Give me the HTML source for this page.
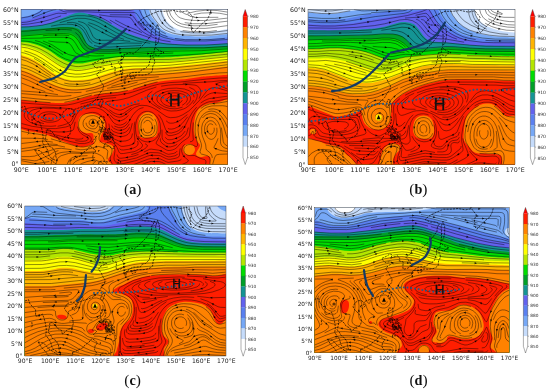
<!DOCTYPE html>
<html><head><meta charset="utf-8"><title>Figure</title>
<style>html,body{margin:0;padding:0;background:#fff}svg{display:block}</style></head>
<body><svg width="550" height="391" viewBox="0 0 550 391">
<rect width="550" height="391" fill="#fff"/>
<clipPath id="c0"><rect x="21" y="9.5" width="206.8" height="154.7"/></clipPath>
<g clip-path="url(#c0)">
<rect x="21" y="9.5" width="206.8" height="154.7" fill="#6262ee"/>
<path d="M18 21C18.5 21 19 21.2 21 21C23 20.8 27.2 20.2 30 19.5C32.8 18.8 35 17.6 38 16.6C41 15.6 44.8 14.4 48 13.5C51.2 12.6 54.8 11.6 57.5 10.9C60.2 10.2 61.9 10 64 9.2C66.1 8.4 42.2 6.5 70 6C97.8 5.5 204 6 230.8 6L230.8 6.5L18 6.5Z" fill="#5a80f0"/>
<path d="M18 17.3C18.5 17.3 19 17.6 21 17.3C23 17 27.2 16.4 30 15.5C32.8 14.6 36 13.1 38 12C40 10.9 40.7 10.2 42 9.2C43.3 8.2 14.5 6.5 46 6C77.5 5.5 200 6 230.8 6L230.8 6.5L18 6.5Z" fill="#76a8f6"/>
<path d="M133 3C133.2 4.1 133.6 7.4 134 9.5C134.4 11.6 134.6 13.6 135.6 15.7C136.6 17.8 138.3 19.9 140 22C141.7 24.1 144 26.6 146 28.5C148 30.4 149.5 32 152 33.6C154.5 35.2 158 36.9 161 38C164 39.1 166.8 39.4 170 40C173.2 40.6 175 41.2 180 41.5C185 41.8 194.2 42 200 42C205.8 42 209 41.7 215 41.3C221 40.9 232.5 39.8 236 39.5L236 3Z" fill="#5a80f0"/>
<path d="M140 3C140.2 4.1 140.5 7.4 141 9.5C141.5 11.6 141.8 13.6 143 15.7C144.2 17.8 146.2 19.9 148 22C149.8 24.1 151.8 26.1 154 28C156.2 29.9 158.3 32.1 161 33.6C163.7 35.1 166.8 35.9 170 36.8C173.2 37.7 175 38.3 180 38.8C185 39.2 194.2 39.5 200 39.5C205.8 39.5 209 39.2 215 38.8C221 38.3 232.5 37.1 236 36.8L236 3Z" fill="#76a8f6"/>
<path d="M148 3C148.2 4.1 148.5 7.4 149 9.5C149.5 11.6 149.8 13.6 151 15.7C152.2 17.8 154.3 19.8 156 22C157.7 24.2 158.7 27.1 161 29C163.3 30.9 166.8 32.5 170 33.6C173.2 34.7 175 35 180 35.5C185 36 194.2 36.5 200 36.5C205.8 36.5 209 36.1 215 35.5C221 34.9 232.5 33.4 236 33L236 3Z" fill="#c6dcfb"/>
<path d="M161 3C161.2 4.1 161.5 7.4 162 9.5C162.5 11.6 163.1 13.6 164 15.7C164.9 17.8 165.8 20 167.5 22C169.2 24 171.4 26 174 27.5C176.6 29 178.7 30 183 30.8C187.3 31.6 194.7 32.5 200 32.5C205.3 32.5 209 31.8 215 31C221 30.2 232.5 28.1 236 27.5L236 3Z" fill="#ffffff"/>
<path d="M18 26.5C18.5 26.5 19 26.5 21 26.5C23 26.5 26.8 26.7 30 26.5C33.2 26.3 36.7 26.1 40 25.5C43.3 24.9 46.7 24.1 50 23C53.3 21.9 56.7 20.3 60 19C63.3 17.7 67 16.1 70 15C73 13.9 75.3 13 78 12.7C80.7 12.4 83.8 12.9 86.4 13.4C89 13.9 91.2 14.6 93.6 15.4C96 16.2 98.6 17.3 101 18.5C103.4 19.7 105.8 21.1 108.2 22.5C110.6 23.9 113.1 25.6 115.5 27C117.9 28.4 120.3 29.5 122.7 30.7C125.1 31.9 127.1 33.2 130 34.3C132.9 35.4 136.7 36.5 140 37.5C143.3 38.5 146.7 39.7 150 40.5C153.3 41.3 156.7 42 160 42.5C163.3 43 166.7 43.5 170 43.8C173.3 44.1 175 44.4 180 44.5C185 44.6 194.2 44.8 200 44.7C205.8 44.7 210 44.5 215 44.2C220 44 227.4 43.4 230 43.2C232.6 43 230.7 43.2 230.8 43.2L230.8 167.2L18 167.2Z" fill="#149494"/>
<path d="M18 30.4C18.5 30.4 15.7 30.8 21 30.4C26.3 30 41.8 28.6 50 28C58.2 27.4 65 26.7 70 27C75 27.3 77.7 28.2 80 30C82.3 31.8 82.7 35.5 84 38C85.3 40.5 86.2 43.3 88 45C89.8 46.7 93 47.3 95 48C97 48.7 97.5 48.8 100 49C102.5 49.2 106.7 49.1 110 49C113.3 48.9 116.7 48.7 120 48.5C123.3 48.3 126.7 48.2 130 48C133.3 47.8 135 47.6 140 47.5C145 47.4 153.3 47.3 160 47.3C166.7 47.3 173.3 47.3 180 47.3C186.7 47.3 194.2 47.4 200 47.3C205.8 47.2 210 47 215 46.8C220 46.5 227.4 46 230 45.8C232.6 45.6 230.7 45.8 230.8 45.8L230.8 167.2L18 167.2Z" fill="#00a028"/>
<path d="M18 35.8C18.5 35.8 16.8 36.2 21 35.8C25.2 35.4 37.2 34.1 43 33.6C48.8 33.1 52.4 32.9 56 32.8C59.6 32.7 61.8 32.6 64.5 32.8C67.2 33 69.8 32.8 72 33.8C74.2 34.8 76.4 36.5 78 38.5C79.6 40.5 80.3 43.6 81.5 45.5C82.7 47.4 83.6 48.9 85 50C86.4 51.1 87.5 51.5 90 52C92.5 52.5 96.7 52.8 100 53C103.3 53.2 106.7 53.1 110 53C113.3 52.9 116.7 52.7 120 52.5C123.3 52.3 123.3 52.2 130 52C136.7 51.8 151.7 51.3 160 51C168.3 50.7 173.3 50.2 180 50C186.7 49.8 194.2 49.8 200 49.7C205.8 49.6 210 49.5 215 49.2C220 48.9 227.4 48.2 230 48C232.6 47.8 230.7 48 230.8 48L230.8 167.2L18 167.2Z" fill="#00dc00"/>
<path d="M18 42C18.5 42 19 41.8 21 42C23 42.2 26.8 42.3 30 43C33.2 43.7 36.7 44.7 40 46C43.3 47.3 46.7 49 50 51C53.3 53 56.7 56.1 60 58C63.3 59.9 66.7 61.5 70 62.4C73.3 63.3 76.7 63.7 80 63.6C83.3 63.5 86.7 62.6 90 62C93.3 61.4 96.7 60.6 100 60C103.3 59.4 106.7 58.9 110 58.4C113.3 57.9 116.7 57.2 120 57C123.3 56.8 123.3 56.9 130 57C136.7 57.1 151.7 57.6 160 57.5C168.3 57.4 173.3 57 180 56.5C186.7 56 191.7 55.6 200 54.8C208.3 54 224.9 52.1 230 51.6C235.1 51.1 230.7 51.6 230.8 51.6L230.8 167.2L18 167.2Z" fill="#b4e600"/>
<path d="M18 45.6C18.5 45.6 19 45.3 21 45.6C23 45.9 26.8 46.6 30 47.6C33.2 48.6 36.7 49.9 40 51.6C43.3 53.3 46.7 55.8 50 58C53.3 60.2 56.7 63.2 60 65C63.3 66.8 66.7 68.2 70 69C73.3 69.8 76.7 69.8 80 69.6C83.3 69.4 86.7 68.7 90 68C93.3 67.3 96.7 66.3 100 65.6C103.3 64.9 106.7 64.2 110 63.6C113.3 63 116.7 62.3 120 62C123.3 61.7 123.3 61.6 130 61.6C136.7 61.6 151.7 62.1 160 62C168.3 61.9 173.3 61.5 180 61C186.7 60.5 191.7 59.8 200 59C208.3 58.2 224.9 56.5 230 56C235.1 55.5 230.7 56 230.8 56L230.8 167.2L18 167.2Z" fill="#ffff00"/>
<path d="M18 55C18.5 55 19 54.5 21 55C23 55.5 26.8 56.6 30 58C33.2 59.4 36.7 61.4 40 63.6C43.3 65.8 46.7 68.8 50 71C53.3 73.2 56.7 75.5 60 77C63.3 78.5 66.7 79.5 70 80C73.3 80.5 76.7 80.2 80 80C83.3 79.8 86.7 79.7 90 79C93.3 78.3 96.7 77.1 100 76C103.3 74.9 106.7 73.5 110 72.5C113.3 71.5 116.7 70.7 120 70C123.3 69.3 123.3 68.9 130 68.5C136.7 68.1 151.7 68 160 67.6C168.3 67.2 173.3 66.6 180 66C186.7 65.4 191.7 64.9 200 64C208.3 63.1 224.9 61.1 230 60.5C235.1 59.9 230.7 60.5 230.8 60.5L230.8 167.2L18 167.2Z" fill="#ffb400"/>
<path d="M18 70C18.5 70 19 69.5 21 70C23 70.5 26.8 71.7 30 73C33.2 74.3 36.7 76.3 40 78C43.3 79.7 46.7 81.5 50 83C53.3 84.5 56.7 86 60 87C63.3 88 66.7 88.7 70 89C73.3 89.3 76.7 89.2 80 89C83.3 88.8 86.7 88.2 90 87.5C93.3 86.8 96.7 85.7 100 84.5C103.3 83.3 106.7 81.8 110 80.5C113.3 79.2 116.7 77.5 120 76.5C123.3 75.5 123.3 75 130 74.5C136.7 74 151.7 73.9 160 73.5C168.3 73.1 173.3 72.6 180 72C186.7 71.4 191.7 71 200 70C208.3 69 224.9 66.7 230 66C235.1 65.3 230.7 66 230.8 66L230.8 167.2L18 167.2Z" fill="#ff8200"/>
<path d="M18 100C18.5 100 17.3 99.7 21 100C24.7 100.3 33.5 101.5 40 102C46.5 102.5 55 103 60 103C65 103 66.7 102.7 70 102C73.3 101.3 76.7 100 80 99C83.3 98 86.7 96.8 90 96C93.3 95.2 96.7 94.5 100 94C103.3 93.5 106.7 93.3 110 93C113.3 92.7 116.7 92.5 120 92C123.3 91.5 126.7 90.8 130 90C133.3 89.2 136.7 88 140 87C143.3 86 146.7 84.7 150 83.8C153.3 82.9 156.7 82.1 160 81.5C163.3 80.9 166.7 80.6 170 80.3C173.3 80 176.7 79.9 180 79.6C183.3 79.3 186.7 78.8 190 78.4C193.3 78 196.7 77.4 200 77C203.3 76.6 205 76.4 210 76C215 75.6 226.5 74.8 230 74.5C233.5 74.2 230.7 74.5 230.8 74.5L230.8 167.2L18 167.2Z" fill="#ff1e00"/>
<path d="M12 131C15 124.6 25.3 131.3 30 131.6C34.7 131.9 36.7 132.3 40 133C43.3 133.7 46.7 134.8 50 136C53.3 137.2 56.7 138.7 60 140C63.3 141.3 66.4 142.8 70 144C73.6 145.2 78.2 146.8 81.5 147C84.8 147.2 87.1 145.8 90 145C92.9 144.2 96.2 142.7 99 142.4C101.8 142.1 104 142.5 106.5 143.3C109 144.1 112.8 145.2 113.7 147C114.6 148.8 113 151.9 112 154C111 156.1 108.9 156.7 108 159.4C107.1 162.1 122.5 168.2 106.5 170C90.5 171.8 27.8 176.5 12 170C-3.8 163.5 9 137.4 12 131Z" fill="#ff8200"/>
<path d="M78 124C78 121.8 78.7 118.7 80 117C81.3 115.3 83.7 114.5 86 114C88.3 113.5 91.5 113.5 94 114C96.5 114.5 99.2 115.5 101 117C102.8 118.5 104.5 120.8 105 123C105.5 125.2 104.7 127.8 104 130C103.3 132.2 101.8 133.8 101 136C100.2 138.2 100.2 141.8 99 143C97.8 144.2 95 144.5 94 143C93 141.5 94.3 135.7 93 134C91.7 132.3 88.2 133.7 86 133C83.8 132.3 81.3 131.5 80 130C78.7 128.5 78 126.2 78 124Z" fill="#ff8200"/>
<path d="M138 125C138.2 122.5 138.7 119.1 140 117C141.3 114.9 143.8 113 146 112.5C148.2 112 151.2 112.8 153 114C154.8 115.2 156.2 117.7 157 120C157.8 122.3 158.2 125.3 158 128C157.8 130.7 157.3 134.4 156 136C154.7 137.6 152.5 137.2 150 137.5C147.5 137.8 142.8 138.4 141 137.5C139.2 136.6 139.5 134.1 139 132C138.5 129.9 137.8 127.5 138 125Z" fill="#ff8200"/>
<path d="M194.5 120C195.2 116.3 196.1 112.6 198 110C199.9 107.4 203 105.7 206 104.5C209 103.3 211.3 102.9 216 103C220.7 103.1 231 93.5 234 105C237 116.5 237.8 160.8 234 172C230.2 183.2 215 174.5 211 172C207 169.5 211.8 159.5 210 157C208.2 154.5 202.3 157.5 200 157C197.7 156.5 196.2 155.5 196 154C195.8 152.5 198.3 149.5 199 148C199.7 146.5 200.3 146.2 200 145C199.7 143.8 198 143.2 197 141C196 138.8 194.4 135.5 194 132C193.6 128.5 193.8 123.7 194.5 120Z" fill="#ff8200"/>
<path d="M195 149.5C195 150.2 194.8 151 194.5 151.6C194.3 152.3 193.8 152.9 193.2 153.4C192.7 153.9 192 154.3 191.3 154.6C190.6 154.8 189.8 155 189 155C188.2 155 187.4 154.8 186.7 154.6C186 154.3 185.3 153.9 184.8 153.4C184.2 152.9 183.7 152.3 183.5 151.6C183.2 151 183 150.2 183 149.5C183 148.8 183.2 148 183.5 147.4C183.7 146.7 184.2 146.1 184.8 145.6C185.3 145.1 186 144.7 186.7 144.4C187.4 144.2 188.2 144 189 144C189.8 144 190.6 144.2 191.3 144.4C192 144.7 192.7 145.1 193.2 145.6C193.8 146.1 194.3 146.7 194.5 147.4C194.8 148 195 148.8 195 149.5Z" fill="#ff8200"/>
<path d="M21.5 17.9L27.7 16.9L32.6 15.5L39.3 12.4L42.9 9.5M32.5 17.9L48.8 11.3L53.7 9.9L56.3 9.5M59 9.5L63.5 11.5L66 12L81.8 11.7L102.9 12.5L134.6 12.6L136.2 13.3L137.3 14.4L141.9 21.3L146.2 26.3L149.5 29.4L153.2 32.2L157.2 34.8L164.1 37.6L174.3 39.9L184.7 41L205.8 41L227.5 39.5M64.3 9.5L66.7 10.2L69.2 10.4L119.4 10.6L130 10.4L133.9 9.5M139.2 9.5L141.8 15.1L144 18.7L148.1 23.8L151.2 27L158.4 32.8L162.8 35.1L167.5 36.7M144.6 9.5L145.7 13.4L146.6 15.2L148.9 18.8L151.6 22.2L156.2 27.1L159.5 30.2L161.4 31.6L165.8 33.8M149.9 9.5L150.4 11.5L152 15.2L154.4 18.8L159.8 25.6L163.1 28.7L165.1 30L172 32.8L177 34L182.2 34.9L192.7 35.3L211.2 35.1L227.5 33.4M155.3 9.5L157.5 15.2L160.7 20.7L163.2 24.1L166.5 27.2L168.5 28.5L175.3 31.5M160.6 9.5L162.2 15.3L165.1 20.9L167.8 24.3L169.4 25.8L173.4 28.5M166 9.5L167.9 15.3L170 18.9L171.4 20.6L173 22.1L177 24.8L181.6 26.6L186.7 27.7L191.9 28.3L205.1 28.4L210.4 27.9L227.5 25.6M168.6 9.5L170.7 15.2L173.2 18.7L176.7 21.7L181.1 23.8L186.2 24.9L194 25.8L207.2 25.7L217.6 24.3M174 9.5L175.5 13.3L176.7 15.1L178.3 16.6L180.3 17.9L185.2 19.4L193 20.4L203.5 20.5L208.8 20.2L227.5 18.1M179.3 9.5L180.8 11.2L184.6 13.7L187 14.6L188.4 14.7L188.5 15.5L190 15.7L190.2 16.5L194.2 16.6L194.3 17.5L218.3 17.3M227.5 12.1L217.2 10.5L206.6 10.1L196.2 11.3L187.5 13.4M227.5 14.8L219.8 13.3L212 12.7L201.4 13.1L193.7 14.5M180.4 31.6L190.8 32.8L206.6 32.9L211.9 32.5L227.5 30.5M21.5 27.1L28.8 26.8L41.8 25.3L51.9 23L71.2 16.5L76.4 15.7L84.3 15.7L92 16.7L96.9 18.2L103.6 21.4L118.1 30L127 34.3L141.3 39.3L151.3 41.9L166.9 44L185.3 45.1L206.5 45L227.5 43.7M21.5 31.3L28.4 31L59.8 27.9L67.7 27.9L72.9 28.4L75.3 29.2L77.5 30.3L79.3 31.8L81.8 35.2L85.8 42.6L88.9 45.8L93.3 47.9L95.8 48.6L101 49.2L114.2 49.3L124.7 48.4L135.2 48.2L148.4 47.4L203.8 47.8L227.5 46.3M21.5 36.2L47.8 33.8L63.6 33.5L68.9 33.9L71.3 34.6L73.5 35.7L75.4 37L78.2 40.4L82.6 47.6L86 50.6L88.2 51.7L90.6 52.5L98.4 53.6L111.6 53.5L124.7 52.5L137.9 52.4L151.1 51.7L164.3 51.6L174.8 51.1L201.2 50.7L227.5 48.9M21.5 40.8L30.6 41.7L38.1 43.7L42.7 45.7L49.2 49L61.2 56.8L65.6 59L72.9 61.3L78 62L83.3 61.7L101.3 58.6L119.6 56.4L148.6 56L159.1 56.1L175 55.6L201.3 53.9L227.5 51.5M21.5 44L29.1 45.2L36.5 47.4L41 49.4L47.4 52.9L57.2 59.6L63.5 63.1L68.2 65L75.9 66.5L78.5 66.6L83.7 66L104.1 62L119.7 59.7L169.8 59.4L188.2 58L227.5 54.2M21.5 47.1L27.5 48L34.8 50.4L39.3 52.4L43.5 54.9L57.2 64.1L61.4 66.6L68.4 69.3L76.1 70.6L81.4 70.3L86.5 69.5L104.3 65.6L119.7 63L169.9 62.4L183 61.3L227.5 56.8M21.5 52.5L24.2 53L29.1 54.6L35.9 57.7L42 61.4L53.5 69.6L59.7 73.3L66.8 76L69.3 76.5L74.6 77L82.5 76.8L90.2 75.6L109.8 69.7L122.5 67L133 66.1L156.8 65.9L169.9 65.2L227.5 59.4M21.5 56.8L27.3 58.5L34 61.7L40.1 65.5L51.5 73.8L57.7 77.4L64.8 80.1L69.9 81.2L72.5 81.4L83 81.3L90.8 80.1L117.6 71.8L122.7 70.6L130.5 69.5L135.7 69.1L156.8 69L172.6 67.9L193.6 65.9L227.5 62M21.5 67.5L26.7 68.8L31.4 70.7L51.2 80.5L58.2 83.4L63.1 84.9L68.1 86L76 86.4L83.9 85.9L91.6 84.5L101.3 81.4L117.8 75.1L125.4 73.3L133.2 72.3L154.3 72.1L172.7 70.8L193.6 68.9L227.5 64.7M21.5 71.2L24.6 72L29.3 73.8L49.2 83.6L56.1 86.5L60.9 88.1L66 89.3L71.2 89.9L76.4 90L84.3 89.4L94.5 87.3L104.1 84L120.4 77.5L128 75.8L135.8 75L154.3 74.9L172.7 73.5L193.6 71.6L227.5 67.3M21.5 97.3L37.2 98.9L50.3 100L60.8 100.1L66.1 99.7L71.2 98.7L88.5 93.9L96.1 92.2L106.4 90.5L116.9 89.6L127.2 87.8L149.3 81.2L159.5 79.1L169.9 78L180.4 77.2L206.5 74.1L219.6 72.9L227.5 72.6M21.5 102.9L50.5 105.1L61.1 105.4L66.4 105.1L74 103.7L88.8 99.4L96.4 97.6L106.7 96.1L117.2 95.2L127.5 93.4L132.5 92.1L151.9 85.9L159.4 84L169.8 82.6L180.4 82L206.5 79.1L219.6 78L227.5 77.8M182.8 83.3L211.8 81.7L219.6 80.8L227.5 80.4M227.5 90.9L217.7 88L215.1 87.6L212.5 87.7L210.1 88.5L208.2 89.7L206.7 91.2L200 99.8L193.9 106.2L188.9 110.9L182.9 114.7L178.3 116.7L175.8 117.3L170.6 117.7L168.1 117.2L166 116.3L156.2 109.6L151.9 107.3L147.1 105.7L141.9 105.3L139.3 105.6L134.6 107.4L132.6 108.7L125.6 114.6L123.6 115.9L121.4 116.9L119.5 117.2L117.6 116.9L115.4 116.1L113.3 114.9L106.1 109L101.9 106.6L97.1 105L91.9 104.7L86.9 105.8L84.7 106.8L80.7 109.4L79.1 111L76.5 114.4L72.1 123.8L70.6 125.4L65.8 127L55.5 128.6L47.6 128.5L32.1 126.3L21.5 123.5M227.5 93.6L214.4 92.7L211.8 93.1L209.4 93.9L207.3 95L203.6 97.9M227.5 96.2L209.3 98.6L204.7 100.4L200.6 103M227.5 98.8L217.3 100.8L209.5 101.7L207 102.4L202.6 104.6L198.9 107.4L194.8 112.5L192.2 118.1L190.7 124L189.4 135.8L188.4 137.6L182.8 141.4L181 142.9L176.6 147.8L174.7 149.1L172.3 150L169.8 150.5L168 150.5L166.3 149.9L156.7 144.3L156.2 143.3L156.4 142.2L159.1 137.4L160.3 133.6L160.6 129.6L160.1 123.7L158.8 119.8L156.6 116.2L153.3 113.2L151.1 112L148.6 111.4L146 111.4L143.6 112L141.4 113.2L139.7 114.6L138.4 116.3L136.5 120.1L135.4 125.9L135.5 129.9L136 133.9L137.2 137.7L138.3 139.6L142.4 144.6L142.5 145.9L141.8 147.2L140.5 148.4L136.3 150.8L134 151.7L123.7 153.5L121.1 153.6L119.9 153.1L119.1 152.2L116.9 147.2L115.7 145.4L114.2 143.8L112.2 142.5L105.6 139.3L104.6 138L104.3 136.6L106.3 127.1L106 123.1L105.4 121.2L103.3 117.6L101.7 116L97.7 113.4L95.3 112.7L92.7 112.4L90.1 112.6L85.2 113.9L83.1 115.1L81.4 116.6L80.1 118.4L78.7 122.2L78.6 126.1L79.1 128.1L80.1 129.9L81.5 131.6L83.3 133L89.9 136.2L91.1 137.9L91.3 139.5L90.6 141.2L89 142.4L84.5 143.6L79.2 143.5L69.1 141.2L49.6 135.2M227.5 101.4L219.8 102.8L209.4 104L204.7 105.8L200.8 108.5M227.5 106.7L225.1 106L222.5 105.7L212 105.9L207 107.1L204.8 108.2L201.1 111L199.6 112.7L197.5 116.3L196.1 120.1L195.3 124.1L195.1 132L195.6 135.9L197.6 143.7L197.4 145.7L196.6 146.5L195.5 146.4L192.8 145.1L190.3 144.5L188 144.7L186.2 145.5L184.9 146.8L184 148.6L183.8 150.5L184.4 152.4L185.7 154.1L187.8 155.3L190.2 155.6L194.5 155.5L200.2 158.3L204.9 159.7L205.8 160.8L206 162L205.5 164.5M227.5 119.8L225.1 116.3L222.2 113L218.4 110.2L216.1 109.4L213.5 108.9L210.9 109L208.4 109.5M227.5 127.7L225 122.1L221.6 116.7L218.4 113.6L216.4 112.3L214 111.4L211.4 111.1L208.9 111.4L206.5 112.2L204.4 113.5L202.7 114.9L200.3 118.4L199.5 120.3L198.4 124.2L198 130.2L198.7 136.1L201.3 143.8L201.5 145.8L201.2 147.7L200 151.6L200.3 153L201.4 154L207.5 155.7L209.1 157L209.8 158.5L210.2 160.3L209.8 164.5M227.5 138.2L226 134.4L223.8 126.7L222.3 122.8L220.3 119.2L217.3 115.9L215.3 114.6L213 113.8L210.4 113.5L208 114L205.8 115L203.9 116.4L202.5 118M227.5 146.1L225.5 144.9L224 143.3L223.2 141.4L221.4 127.6M227.5 148.7L225 148.1L222.9 146.9L221.4 145.3L220.7 143.5L220.5 141.6L220.8 133.6L220.5 129.7L219.7 125.7L218 122L216.7 120.2L215.1 118.7L213 117.6L210.5 117.1L208.3 117.5L206.5 118.4L204.8 119.9L202.6 123.5L201.7 127.4L201.8 133.3L202.8 137.2L205.1 142.9L205.7 144.9L206.1 148.8L206.7 150.1L209.6 152.4L211 154.1L211.9 155.9L212.3 157.9M227.5 151.4L222.3 150.8L219.8 150.2L214.2 148L214 147.4L214.2 146.7L216.6 142.2L218.1 138.3M227.5 154L219.6 154.3L217 154.7L215.8 155.4L214.5 157.9L212.6 164.5M184.7 144.3L183.2 145.9L182.2 147.7L181.7 149.6L181.7 151.6L182.3 153.5L183.2 155.4L184.6 157.1L188.2 160.2L188.3 161.1L186.6 162.5L182 164.5M166 164.5L161.6 162.3L159.2 161.6L151.6 161.4L149.1 161.8L142 164.5M181.4 159.2L180.2 160.2L177.8 161L168.3 162.4L166.6 161.9L160.4 159L158.4 158.6L150.5 158.6L148 159.2L133.9 164.5M117.8 164.5L115 161.2L114.1 159.3L114 157.4L114.9 151.5L114.8 149.5L114.2 147.5L113 145.8M112.5 164.5L110.6 160.8L110.3 158.8L110.5 156.9L111.7 153L112.1 151L111.8 149.1L110.8 147.3L109 145.8L102.2 142.9L100.4 141.5L99.2 139.7L99 137.8L99.4 135.9L101.6 130.2L102.6 126.3L102.6 124.3L102.1 122.4L101.3 120.5L99.9 118.8L98.2 117.3L96.1 116.2L93.6 115.6L91 115.7L88.5 116.3L86.3 117.4L84.7 118.9L83.6 120.7L83.1 122.6L83.1 124.6L83.7 126.5L85 128.3L86.9 129.6L95.9 132.7L97.1 132.4L98 131.7L99.8 128.6L100.3 126.6M107.1 164.5L104.8 160.9L102.9 157.2L101.4 155.7L97 153.6L94.5 153L92.1 152.9L81.5 153.4L71 153.1L68.4 153.5L61.2 155.7L59.1 157L57.7 158.6L55.7 164.5M104.4 164.5L100.4 162L95.7 160.2L93.8 160.1L87 161.6L82.2 163.3L80 164.5M95.1 157.5L93.1 157.5L87.8 158L80.2 159.4L75.7 161.4L72.3 164.5M87.5 155.6L76.9 156.3L74.4 156.8L72.1 157.8L70.2 159.1L68.8 160.8L67 164.5M95.9 152L93.3 151.8L82.8 152.6L69.7 151.6L61.9 152.4L59.4 153L57.1 153.9L55.1 155.2L53.6 156.9L52.6 158.7L50.9 164.5M58.4 150.6L53.7 152.3L49.7 154.9L36.6 160.6L34.5 160.8L21.5 159.2M71.7 149.7L61.3 148.3L56.1 148.7L43.9 152.5L34.6 156.1L29.4 156.6L21.5 156.6M65 147L57.4 145.5L52.1 145.6L44.4 146.9L31.9 150L21.5 151.4M57.7 144.6L52.4 144.1L47.2 144.3L42 145.1L31.9 147.3L21.5 148.7M52.8 142.1L47.6 141.3L42.4 141.1L21.5 143.5M47.7 139.5L42.6 138.7L37.3 138.3L21.5 138.2M52.1 133.8L42 131.5L31.6 129.9L21.5 127.7M21.5 112L22.8 110.3L24.6 109.2L29.3 107.9L34.5 107.4L45.1 107.1L58.2 107.7L71.4 108.7L73.6 109.5L74.4 110.6L74.4 113.3L73.1 117.2L71.2 120.9L69.6 122.4L67.5 123.6L62.7 125.2L57.6 126.3M21.5 93.6L53 96.1L63.5 96.3L71.4 95.5M21.5 90.9L45.1 92.7L58 94.7M21.5 83.1L35.6 88.5L45.3 91.6M21.5 77.8L28.6 80.4L46.5 88.8L53.5 91.6M21.5 64.7L26.5 65.8L33.6 68.6L50.6 77.9L57.3 81.1M21.5 59.4L26.4 60.9L33.1 64L37.2 66.5L50.9 75.9M21.5 38.4L40 38.1L50.5 37.3L63.7 37.3L68.9 37.8L71.2 38.8L73.1 40.1L75.7 43.5L78.9 49L81.9 52.2L83.8 53.6L85.9 54.7L91 55.8L96.2 56L104.1 55.7M21.5 22.6L26.7 22.1L31.8 21L56.3 13.5L58.8 13.2L66.7 13.6M174.9 38.5L185.3 39.7L201.1 39.7L209.1 39.6L224.8 38.4M180.3 148.4L179.8 150.3L179.4 155.6L178.8 156.8L177.5 157.6L175.1 158.4L170.3 159.3L168.3 159.3L166.5 158.8L160.3 155.8L158.2 155.4L150.3 155.3L147.9 156L136.2 160.6L123.6 163.5L121 163.9L119.4 163.6L116.7 161.8M49.3 161.5L38 163.4L35.4 163.6L21.5 160.7M56.2 125.8L51 126.3L43.1 125.9L35.5 124.4L30.8 122.6L26.8 120L25.4 118.4L24.4 116.5L24.2 114.6L24.8 112.7L26.1 111M21.5 74.5L28.9 77L48.8 86.7L58.2 90.3L63.2 91.6L68.3 92.5L73.6 92.7L81.5 92.3M88.4 14.8L96.1 16L101 17.6L105.4 19.8L111.6 23.5M99.1 14.8L112 16.7L127.8 17.1L129.9 17.6L131.4 18.7L136 25.4L139 28.6L142.5 31.6L146.5 34.2L153.1 37.5L157.9 39.2L162.9 40.5L170.6 41.8M109.8 14.8L128.3 14.8L130.9 15.1L132.6 15.9L133.9 17.1L138.7 24L144.8 30.4M177.8 153.8L176.8 154.9L175 155.8L170.2 156.8L168.2 156.8L166.5 156.3L160.2 153.2L158.1 152.8L150.2 152.5L147.8 153.2L136.2 158L126.1 160.3L120.9 161.1L119.2 160.8L117.8 160.1L116.5 158.8M107.1 159.2L107.1 157.3L107.8 151.4L107.2 149.9L105.7 148.8L101.4 147.2L98.9 146.5L97.1 146.5L90.8 148.5L83 149.7L80.4 149.7L75.3 148.9M24.3 50.9L29.3 52.3L36.2 55.1L42.5 58.7L58.3 69.3L62.7 71.5L67.5 73.1L75.3 74.2L80.6 74.1L90.9 72.5L100.9 69.9M21.5 24.6L28.8 24L41.6 21.9L49.1 19.9L61.1 15.9M227.5 89.1L216.3 84.3L216.3 83.8L216.9 83.4L220.3 82.3L227.5 81.6M138.5 154.4L133.7 156.1L126.1 157.6L120.9 158.3L119.3 158L118.1 157.1L117.4 155.9L117 154.5M29.5 119.8L28.3 118.1L27.7 116.2L28 114.3L29.2 112.5L30.9 111L33 109.9L38 108.6L43.2 108.1L53.8 108.3L61.6 109.1M59.7 22.7L72.1 19.3L77.2 18.3L85.1 18.4L90.2 19.4L95.1 21L99.6 23.1L116.4 32.7L127.5 38L137.3 41L150.2 43.3M109.8 20L120.2 26.1L129.1 30.4L150.6 38.1M115.1 20L126 25.7L137.5 30.5L141.9 32.7M182.7 30.5L190.5 31.5L201.1 31.7L209 31.5L216.8 30.5M216.3 125.5L215.3 123.7L214.1 122.2L212.7 121.2L211 120.7L209.2 120.9L207.2 122.1L205.8 123.8L205 125.7L204.6 127.6L204.7 131.6L206.1 135.4L207.3 137.2L208.6 138.4L209.9 139.1L211.6 139.4L213.2 138.9L214.9 137.4L215.9 135.6L216.6 133.6L217 131.7L216.8 127.7M177.2 151L176 152.4L173.8 153.4L168.7 154.3L166.9 153.9L161.2 151L158.8 150.2L151.2 149.1L149.6 149.3L143.8 152.1M145 143.7L147.2 145.1L147.5 145.9L146.6 147.2L144.9 148.7L138.6 152.2L136.3 153.2L131.3 154.6M67 22.6L72.2 22.4L74.8 22.8L77.3 23.5L81.7 25.7L83.4 27.1L86.1 30.5L89.8 38L91.1 39.7L92.7 41.2L94.8 42.4L97.2 43.2L102.4 43.9L107.7 43.9L115.6 43.8L126.1 43L141.9 43.3M78.1 21.3L83 22.6L85.1 23.8L86.9 25.3L89.4 28.8L92.9 36.2L94.3 37.9L96.3 39.2L98.7 39.9L101.3 40.3L119.8 40.2L130.2 41.4M88.4 22.6L93.3 24.2L97.8 26.1L114.9 35.5L119.3 37.7L124 39.4M137.9 20.9L142.1 26L146.9 30.7L150.6 33.5L154.7 36M184.7 22.6L192.5 23.7L205.7 23.7L227.5 21.2M213.1 125.1L212.1 124.2L210.7 123.8L209.3 124.1L208 125.3L207.2 127.2L207 129.1L207.4 131.1L208.2 132.6L209.1 133.6L210.2 134.2L211.5 134.2L212.8 133.4L213.9 131.6L214.3 129.7L214.1 127.7M43.9 123.6L38.9 122.3L36.7 121.2L34.9 119.8L33.7 118.1L33.5 116.2L34.2 114.5L35.7 113L37.7 111.7L40 110.8M21.5 100.1L50.6 102.7M51.1 26.2L58.8 24.8L66.7 24.2L72 24.4L77 25.6L79.2 26.7L82.7 29.6L85.1 33.1L89 40.5L90.4 42.2L92.3 43.5M137.5 141L138 142.5L138.1 144L137.5 145.4L135.8 146.9L133.6 148L128.7 149.3L123.5 150L121.4 149.9L120.1 149.3L119.3 148.5M35 40.5L40 41.8L49 45.9L53.3 48.2L63.2 54.8M87.6 24.2L93.7 27.9L108.9 35.8L113.5 37.7L118.5 39M177.2 144.2L175.2 145.5L172.8 146.3L170.6 146.9L168.3 146.9L166 146.1L162.2 143.4L160.8 141.7L160.3 140.1L160.4 138.4M134.9 121.7L134.3 125.6L134.1 129.6L135 141L134.4 142.6L133.1 143.9L130.9 144.9L128.4 145.6L123.2 146.4L121.1 146.3L119.7 145.6L114.8 141.9L112.7 140.7M94.6 135.7L95.5 137.3L96 138.8L95.5 140.8L94.5 142.6L92.9 144.1L90.8 145.3L88.4 146.1L83.2 147L80.6 146.9L75.5 146L50.9 138.8M38.7 118.4L38.4 116.8L39.3 115L41.2 113.6L43.5 112.6L46 112L48.6 111.8L53.8 112.1L56.3 112.7L58.6 113.6L60.1 114.8L61 116.1L60.9 117.9L59.6 119.5L57.5 120.8L55.1 121.6L52.6 122.1L47.3 122.2L42.3 121L40.2 119.8M34 58.4L40.2 62L53.6 71.6M45.6 30.5L61.4 29.5L66.6 29.6L71.8 30.1M188.3 127.6L186.7 133.4L185.6 135.2L184.1 136.8L180.4 139.7L176.2 142.1L171.3 143.5L168.7 143.7L167.1 143.3L165.8 142.6L164 141.1L162.7 139.4L162.1 137.5L162 129.6M53.7 119.9L51.1 120.4L48.5 120.4L46.1 120L44.5 119.3L43.3 118.4L42.9 117.2L43.4 116L44.6 115.1L46.4 114.3L48.9 113.9L51.5 114L54 114.5L56.1 115.7L56.8 116.9L56.5 118.2M42.9 41L47.6 42.8L52.1 44.9L62.1 51.4L68.7 54.6L76.2 56.4L89.4 57M42.9 35.8L48.1 35.2L53.4 35.1L64 35.1L69.2 35.6M193.3 122.5L192.7 130.4L193.3 139.6L192.7 140.9L191.5 141.5L190 141.8M138 136.2L139.1 138L140.6 139.6L142.7 140.8L145.1 141.6L147.6 141.9L150.2 141.7L152.6 140.9L154.7 139.7L156.5 138.2L157.8 136.5L159.3 132.7M132.5 133.5L131.6 137.2L130.3 138.9L128.3 140.1L125.8 140.9L120.7 141.4L118.6 140.9L110 137.2L108.6 136.1L108 134.6L107.9 133.1M77.5 126.7L78.8 130.6L80 132.3L81.6 133.9L83.5 135.2L87.2 137.1L88.1 138L88.3 139.1L87.5 140.1L85.7 140.9L83.1 141.3L80.5 141.3L75.3 140.6M45.6 135.6L37.9 134.1L30.1 133.1L21.5 131.3M75.2 121.8L73.7 129L72.9 130.2L71.6 130.9L66.5 131.8L58.6 132L53.3 131.6L45.6 130.3M161.1 86.2L168.8 85.1L174.1 84.7L187.3 84.4L195 85.1L197.1 85.9L198.9 87.3L200.1 89L200.7 90.9L200.9 92.9L200.6 94.9L199 98.6M185.2 131L182.6 134.4L180.9 136L176.7 138.2L171.7 139.6L169.1 139.8L167.6 139.5L165.1 137.3M152.5 116.2L150.7 115.1L148.7 114.4L146.2 114.5L143.9 115.3L142.1 116.7L140.7 118.4L139.1 122.2L138.6 126.1L139.3 132.1L139.9 134L140.9 135.7L142.4 137L144.7 138L147.2 138.2L149.8 137.9L152.2 137.2L154.2 135.9L155.7 134.3L156.6 132.4L157.1 130.5L157.2 126.5L156.5 122.6L154.8 118.8M83 137.5L83 138.2L82 138.9L78.3 139.2L75.6 139L65.3 137.4L52.8 134.2M48.3 41L56 42L66.5 42.4L68.9 43.2L70.4 44.5L71.6 46.1L74.7 51.5L76.3 53.1L80.5 55.3M196.7 107.1L192.5 112.2L189.2 117.6L184.6 126.9L182.1 130.4L180.5 132L178.6 133.3L176.3 134.3L171.3 135.6L168.7 135.6L167.3 135L165.4 132.4M153.2 120.8L151.9 119L150.4 117.9L148.8 117.2L146.7 117.1L144.8 117.8L143.1 119.3L142 121.1L141.3 123L140.9 126.9L141.4 130.9L142.1 132.7L143.1 134.1L144.7 135.2L147.2 135.6L149.8 135.3L152 134.3L153.5 132.8L154.4 131L154.8 129.1L154.7 125.1M132.3 123.2L130.9 129L129.4 132.8L127.9 134.4L125.8 135.6L123.4 136.3L120.8 136.7L118.3 136.4L113.8 134.9L111.6 133.8L110.5 132.6L109.9 131.3L108.9 123.6M189.3 87.3L193.7 89.4L195.4 90.9L196.6 92.7L197.2 94.6L197.2 96.6L196.7 98.5L195.8 100.4L193.3 103.8M183.3 125.9L180.4 129.3L178.5 130.6L176.3 131.7L171.3 133L168.8 132.8L167.5 132.2L165.6 129.5L162 119.9L159.8 116.3L158.4 114.6M143.3 128.4L143.8 130.3L144.5 131.6L145.6 132.5L147.2 133L149.1 132.7L150.7 131.9L151.6 130.6L152.2 129L152.3 127L152.1 125.1L151.4 123.1L150.1 121.4L148.5 120.5L147 120.4L145.6 120.9L144.6 121.9L143.7 123.3M129.7 127.2L128.7 129L127.4 130.7L125.5 132.1L123.2 133L120.6 133.4L118.1 133.2L113.6 131.6L112.1 130.5L111.2 129.1M193.6 99.9L192.6 101.7L189.8 105L186 107.8L183.8 108.9L179 110.4L176.4 110.8L171.1 111L168.5 110.7L163.7 109.1L157.4 105.5L154 102.5L152.7 100.8L152 98.9L152.2 96.9L153.1 95.1L154.7 93.5L156.6 92.2L161.1 90.1L168.7 88.4L176.6 88.1L184.4 89L189.1 90.7L191.1 92L192.7 93.6L193.7 95.4L194.1 97.3M129.4 123.8L127 127.3L125.2 128.8L123 129.8L120.5 130.3L117.9 130.1L113.7 128.4L112.4 127.1L111.6 125.6M75.4 32.6L77.3 34L78.8 35.6L83.1 42.8L85.7 46.3L87.5 47.8L89.5 49L94.4 50.5L99.6 51.1L112.8 51.2L120.7 50.6M94 45.5L99 46.7L109.5 47.1L141.1 45.5M182.6 107.1L177.6 108.5L175 108.8L169.8 108.5L164.9 107.1L160.7 104.7L158.9 103.2L157.6 101.6L156.9 99.7L157.1 97.8L158.1 96L159.7 94.5L161.8 93.2L166.5 91.5L169.1 91L174.3 90.6L179.6 90.9L182.1 91.4L186.8 93.2L188.7 94.5L190 96.2L190.6 98.1L190.4 100.1L189.5 101.9L188.1 103.6L186.3 105.1M187.7 116.8L182.2 123.5L178.8 126.5L174.3 128.6L171.8 129.1L169.2 129L167.9 128.4M143.5 107.6L141 108.2L138.8 109.2L135.2 112.1L132.5 115.5L128.1 122.8L125.1 126L123 127.1L120.5 127.7L118.4 127.6L114.3 126M86.1 122.7L86.4 124.7L87.4 126.4L89.1 127.8L91.4 128.7L93.1 128.9L95 128.7L96.4 127.7L97.5 126L97.8 124.1L97.4 122.1L96.2 120.4L94.5 119.4L92.5 119.2L90.8 119.7L89.6 120.8L89.1 122.2L89.3 123.9L90.4 125.5L92.3 126.3L93.8 126.2L94.9 125.4M175.7 106.8L170.4 106.6L167.9 106L165.6 105.1L163.6 103.9L161.9 102.3L161 100.7L160.9 98.9L161.7 97.1L163.4 95.6L167.9 93.6L173.1 92.8L178.3 93L183.3 94.3L185.3 95.5L186.7 96.9L187.4 98.8L187 100.8L185.9 102.4L184.3 104L182.2 105.2M187.4 114.6L180.1 120.3L175.6 122.4L173.2 123.1L170.5 123.2L168.8 122.9L166.1 120.8M126.7 121.7L125 123.2L122.9 124.4L120.5 125.1L118.4 125L116.6 124.5L114.5 123.4L112.8 121.9L109.2 116.6L106.3 113.2L102.8 110.3L100.6 109.2L95.8 107.7L93.1 107.6L90.5 107.8L85.6 109.1M64.3 83.1L69.4 84L77.3 84.3L82.6 84.1L90.3 82.9M123.2 54.2L139 54L149.5 53.5L165.4 53.4L173.3 53M182.4 100.1L181.2 101.9L179.2 103.1L176.7 103.8L174.1 104L171.5 103.7L169.3 103L167.7 102L166.8 100.9L166.7 99.4L167.6 98L169.6 96.8L172 96.1L174.6 95.8L177.2 96L179.4 96.7L181 97.5L182 98.8M128.4 115.4L125.2 118.6L123.2 119.8L120.8 120.7L118.9 120.8L114.9 119.4L113 118L110 114.8M64.5 102.3L72.2 100.8L91.9 95.1M131.5 107.8L123.8 113.2L121.5 114.2L119.6 114.6L117.6 114.3L115.4 113.6L113.2 112.5L109.4 109.7M160.6 109.3L152.5 104.2L149 101.3L147.8 99.6L147.2 97.6L147.6 95.7L148.7 93.9L152.4 91.1M139.7 103.8L134.6 104.4L129.8 106.1L123.2 109.3L120.7 110.1L118.7 110.1L114.4 108.8L110.2 106.5L106.3 103.8L105.6 102.8L105.8 102.1L108 101.3L118.1 100.1L123.2 99.1L128.2 97.8L132.9 96.1L146.7 90.2L156.4 87M80.4 104.1L97.9 99.6L105.6 98.4L116.1 97.6M85.8 91.4L93.5 89.8L100.9 87.8L108.1 85.4L119.8 80.7L124.7 79.3L135.1 77.9L148.3 77.6L158.8 76.8M111.4 86.3L126.2 82.1L133.9 80.8L146.9 79.1M94.1 95.3L104.4 93.6L117.5 92.4L127.8 90.5M133.1 89.2L150.1 83.8L157.6 81.9M107.1 88.3L125.2 85.5L137.6 82.1" fill="none" stroke="#000" stroke-width="0.55" stroke-opacity="0.8"/>
<path d="M34.2 14.7L32.5 16.7L31.6 14.8ZM45.6 12.6L43.8 14.5L43 12.5ZM144.2 23.9L141.8 22.8L143.4 21.4ZM100.6 10.6L98.2 11.6L98.2 9.5ZM151.5 27.3L149.1 26.3L150.6 24.8ZM153.9 24.7L151.5 23.7L153 22.2ZM184.5 35L182 35.9L182.1 33.8ZM163.4 24.4L161.2 23L162.9 21.8ZM165.5 21.8L163.5 20.1L165.4 19.2ZM193.8 28.3L191.4 29.3L191.5 27.2ZM190.9 25.4L188.4 26.2L188.6 24.1ZM199.9 20.4L197.5 21.5L197.5 19.4ZM198.3 17.5L195.9 18.6L195.9 16.5ZM205.9 10.1L208.4 9.2L208.3 11.2ZM209.1 12.8L211.5 11.6L211.6 13.7ZM205.5 32.9L203.1 33.9L203.1 31.8ZM124.1 32.9L121.5 32.8L122.4 30.9ZM121.4 48.6L119.1 49.9L119 47.8ZM122 52.7L119.7 53.9L119.5 51.8ZM123.5 56.4L121.1 57.4L121.1 55.3ZM123.2 59.7L120.8 60.7L120.8 58.6ZM123 63L120.6 64L120.5 61.9ZM122.4 67L120.3 68.5L119.9 66.5ZM122.3 70.7L120.2 72.2L119.7 70.2ZM123.4 73.8L121.3 75.4L120.8 73.3ZM123.4 76.8L121.2 78.4L120.8 76.3ZM126.1 88L123.9 89.4L123.5 87.4ZM126.2 93.7L124 95.1L123.6 93ZM206.7 81.9L204.3 83.1L204.2 81ZM124.7 115.3L125.9 113L127.2 114.6ZM213.4 92.7L215.8 91.8L215.7 93.9ZM212.1 98.2L214.3 96.9L214.6 99ZM138.7 140.3L136.6 138.7L138.4 137.7ZM212.2 103.7L214.4 102.4L214.7 104.5ZM196.4 139L194.8 136.9L196.8 136.4ZM218.5 110.2L221 110.8L219.8 112.5ZM198.2 127L197.3 124.5L199.4 124.7ZM219 117.8L221.4 118.9L219.8 120.3ZM205.5 118.9L207.2 116.9L208.1 118.8ZM214.3 148L216.9 147.9L216.1 149.9ZM185 157.6L182.7 156.4L184.3 155ZM152.5 161.4L155 160.4L154.9 162.5ZM156.3 158.6L158.7 157.5L158.7 159.6ZM101.3 120.5L103.2 122.3L101.4 123.2ZM79.8 153.3L82.2 152.3L82.1 154.4ZM90.9 160.7L93 159.2L93.5 161.2ZM81.4 159.2L83.6 157.7L84 159.8ZM73.9 156.9L76 155.4L76.5 157.5ZM68.5 151.5L71 150.7L70.8 152.8ZM39.3 159.4L41 157.5L41.9 159.4ZM45 152.1L47 150.4L47.6 152.4ZM41.7 147.5L43.8 145.9L44.3 148ZM38 146L40.2 144.4L40.6 146.5ZM35.6 141.8L37.9 140.5L38.2 142.6ZM33.2 138.3L35.6 137.2L35.6 139.3ZM35.3 130.5L37.9 129.8L37.5 131.9ZM62 108L59.6 108.9L59.7 106.8ZM47.9 95.7L45.4 96.6L45.6 94.5ZM41.3 92.4L38.9 93.3L39 91.2ZM34.7 88.2L32.1 88.3L32.8 86.3ZM38.9 85.2L36.3 85.1L37.2 83.2ZM41.1 72.7L38.5 72.5L39.5 70.6ZM38.2 67.1L35.6 66.8L36.7 65ZM68.1 37.8L65.6 38.5L65.9 36.5ZM45.5 16.8L43.5 18.5L42.9 16.5ZM201.3 39.7L198.9 40.7L198.9 38.6ZM150.2 155.3L152.6 154.3L152.6 156.4ZM33.9 163.3L36.4 162.7L36 164.8ZM34.4 124.2L37 123.6L36.5 125.7ZM51.9 87.9L49.3 88L50 86.1ZM102 17.9L99.4 18.2L100 16.2ZM136.4 25.9L134.1 24.5L135.9 23.3ZM132.3 15.3L129.8 16.1L130 14ZM145.7 154.1L147.5 152.2L148.3 154.2ZM94.7 147.2L96.7 145.5L97.3 147.5ZM61.9 71.1L59.3 71L60.2 69.1ZM43.1 21.5L41.1 23.2L40.5 21.1ZM215 83.7L217.7 83.7L216.8 85.6ZM125.4 157.7L127.6 156.2L128 158.3ZM42.3 108.2L40 109.5L39.8 107.4ZM106.9 27.2L104.2 27L105.3 25.1ZM130.9 31.1L128.3 31.3L129 29.3ZM129.7 27.3L127.1 27.3L127.9 25.4ZM201.3 31.7L198.8 32.7L198.9 30.6ZM205.8 134.6L204 132.7L206 132ZM159.5 150.4L162.1 150.2L161.4 152.1ZM140.3 151.3L141.9 149.2L142.9 151ZM101.3 43.7L98.8 44.4L99 42.4ZM101.3 40.2L98.8 41L99 38.9ZM107.6 31.5L105 31.3L106 29.5ZM146.6 30.4L144.1 29.5L145.6 28ZM207.6 23.5L205.4 24.8L205.1 22.7ZM208.3 133L206.3 131.3L208.2 130.4ZM33.2 117.4L35.4 118.8L33.7 120ZM37.6 101.5L35.1 102.4L35.3 100.3ZM77.5 25.8L74.9 26.2L75.4 24.2ZM129.5 149.1L131.5 147.5L132 149.5ZM51.1 47L48.5 46.8L49.5 44.9ZM104 33.2L101.4 33L102.3 31.2ZM165.4 145.9L168 145.7L167.3 147.7ZM132.2 144.7L133.2 142.3L134.6 143.8ZM75 146L77.6 145.3L77.2 147.4ZM61.3 115.7L58.7 115.1L60 113.4ZM45.2 65.6L42.6 65.1L43.9 63.4ZM60.2 29.6L57.9 30.8L57.8 28.7ZM172.2 143.2L174.2 141.6L174.8 143.6ZM45.7 114.2L44.4 116.5L43.2 114.9ZM66.3 53.4L63.7 53.3L64.6 51.4ZM57.5 35.1L55.1 36.1L55.1 34ZM151.2 141.6L148.9 142.8L148.8 140.7ZM119 141L121.6 140.6L121.1 142.6ZM88.7 138.6L86.2 137.7L87.7 136.2ZM32 133.4L34.5 132.6L34.3 134.7ZM62.2 131.9L64.5 130.8L64.6 132.9ZM187.9 84.4L185.5 85.5L185.4 83.4ZM174.6 138.8L176.7 137.1L177.2 139.2ZM142.5 137.1L140 136.2L141.4 134.7ZM66.7 137.6L69.3 137L68.9 139ZM68.6 43.1L66 43.3L66.7 41.4ZM183.5 128.4L184.1 125.8L185.8 127ZM141.5 131.8L140.2 129.6L142.3 129.3ZM119 136.5L121.5 135.7L121.2 137.8ZM166.2 130.3L168.4 131.7L166.7 132.9ZM152.4 126.3L153.3 128.7L151.2 128.6ZM119.5 133.6L121.7 132.2L122.1 134.2ZM152.2 97.1L153 99.6L150.9 99.4ZM119.4 130.6L121.6 129L122 131.1ZM95.5 50.8L92.9 51.1L93.5 49.1ZM119 46.6L116.6 47.8L116.5 45.7ZM164.5 92.3L162.6 94.1L161.9 92.1ZM178.3 127L179.4 124.6L180.8 126.1ZM129 121.3L129.4 118.7L131.2 119.7ZM97.2 120.9L98.7 123L96.6 123.5ZM170.8 93.1L168.6 94.6L168.2 92.5ZM176 122.2L177.7 120.3L178.6 122.2ZM106.7 113.6L109 114.8L107.4 116.1ZM78.8 84.2L76.5 85.4L76.4 83.3ZM149.7 53.5L147.4 54.7L147.3 52.6ZM166.6 98.8L167.9 101.1L165.8 101.3ZM117.5 120.9L119.9 119.7L120 121.8ZM79.7 98.7L77.7 100.3L77.1 98.3ZM119.3 114.6L121.5 113.2L121.9 115.2ZM148.4 100.7L150.9 101.5L149.5 103.1ZM114.5 100.5L112.3 101.8L112 99.7ZM99.5 99.4L97.3 100.8L97 98.7ZM123 79.8L121 81.5L120.4 79.5ZM130.4 81.4L128.2 82.8L127.9 80.7ZM112.5 92.8L110.2 94.1L110 92ZM146.7 84.8L144.8 86.6L144.1 84.6ZM124 85.7L121.8 87.1L121.4 85Z" fill="#000" fill-opacity="0.85"/>
<path d="M21 107.5 L24.9 106.2 L26.2 110.1 L28.8 113.1 L32.1 116.5 L32.1 122.9 L35.2 123.5 L39.1 120.9 L40.9 125.5 L42.2 130.7 L43.2 137.1 L42.5 142.8 L45.6 146.7 L47.6 150 L48.9 155.2 L50.7 157.8 L55.4 160.3 L57.2 160.8M57.2 160.8 L55.9 156.5 L55.6 152.6 L52.8 148.2 L49.4 146.2 L47.4 142.3 L45 139.7 L46.3 134.5 L46.9 129.7 L49.4 129.9 L52.8 132.7 L54.6 135.8 L58.5 137.6 L59.8 141.8 L64.2 137.6 L69.6 135.1 L70.9 130.7 L70.1 125.5 L67.5 122.2 L63.7 118.3 L61.8 115.2 L64.2 110.8 L67.5 108.8 L71.4 108.8 L73.5 111.6 L74 109.5 L77.9 108.3 L81.7 106.7 L85.6 105.7 L90.8 103.6 L94.7 100.5 L97.8 97.2 L99.8 93.3 L102.9 89.4 L103.5 85.6 L101.1 82.2 L99.8 79.1 L96.7 74.7 L99.3 71.4 L105 68.8 L101.1 67.3 L96 68 L93.4 65.4 L92.9 63.4 L97.3 61.6 L101.1 59 L103.7 60 L101.7 63.6 L105 62.4 L109.7 61.1 L111.5 63.6 L111 66.2 L115.4 67.5 L114.8 72.7 L115.4 75.2 L119.2 74.5 L122.6 72.7 L122.8 68.8 L120.5 64.9 L117.9 62.4 L123.1 58.5 L124.4 54.6 L129.6 52.8 L133.4 53.8 L138.6 49.5 L145.1 43 L151 35.3 L151.5 30.1 L153.6 27 L150.2 25 L143.8 25 L138.6 22.4 L142.5 18.5 L150.2 14.7 L158 11.3 L165.8 11.3 L173.5 10.5 L181.3 12.1 L187.7 10.8 L192.9 17.2 L190.8 22.4 L191.6 30.1 L193.4 32.7 L198.1 27.5 L202 23.7 L207.1 19.8 L209.7 14.7 L211 9.5M124.9 83.8 L125.2 79.1 L127 76.5 L132.2 76 L137.3 75 L142 75.2 L146.4 74.7 L149.7 73.4 L152.3 71.4 L152.8 66.2 L154.9 62.4 L153.9 57.7 L150.8 58.5 L149.7 61.1 L149 64.9 L145.1 68.8 L142 69.3 L139.9 72.2 L132.2 72.7 L127 75.5 L124.4 78.3 L123.9 80.4 L124.9 83.8M130.1 76.8 L135.5 76 L134.7 78.1 L131.4 79.1 L130.1 76.8M150.2 57.2 L151 53.3 L154.1 52.6 L154.9 47.1 L158 50 L164 52.6 L160.6 53.6 L158.5 55.9 L154.1 54.6 L150.2 57.2M155.4 45.6 L155.9 40.4 L155.9 35.3 L155.4 30.1 L157.5 24.2 L159.3 30.1 L159.3 36.6 L158 43 L155.4 45.6M101.1 99.2 L103.5 100.3 L100.9 107.5 L98.8 104.9 L101.1 99.2M69.3 114.7 L74 112.6 L75.3 113.9 L71.9 117 L69.3 114.7M99.8 116.5 L104.2 116.8 L104.2 121.7 L102.4 125.5 L105 128.1 L108.9 130.7 L108.4 131.5 L105 128.9 L101.1 128.9 L99.3 126.3 L98.6 122.9 L99.8 116.5M99.8 129.7 L102.2 129.9 L101.9 132.5 L100.6 132 L99.8 129.7M109.7 132 L112.8 133.3 L113 135.8 L111.5 138.4 L110.2 135.8 L109.7 132M103.7 133.8 L106.6 134.5 L107.1 138.4 L105 140.2 L103.7 137.1 L103.7 133.8M107.6 135.8 L108.9 137.6 L107.3 139.7 L107.6 135.8M91.3 142.5 L94.7 138.9 L97.3 135.1M112.8 139.2 L115.4 144.9 L114.1 148 L112.5 148.7 L108.9 146.2 L103.7 146.2 L105 143.6 L107.6 142.3 L110.2 142.3 L112.8 139.2M70.1 160.3 L72.7 159.8 L75.8 157.8 L80.5 155.9 L83 152.6 L86.9 150 L90 146.2 L92.6 148 L96 150.8 L93.4 153.1 L92.6 157.8 L95.2 161.6 L92.6 164.2M70.1 160.3 L70.1 164.2M34.7 149.8 L40.4 150.8 L43 153.9 L46.9 157.8 L50.7 159.8 L54.6 162.9 L56.4 164.2M34.7 149.8 L37.8 154.7 L41.7 159 L43.7 161.6 L45 164.2M98.6 164.2 L99.1 161.6 L102.4 161.1 L107.6 161.9 L111.5 160.1M117.9 164.2 L118.7 159.6 L120.5 161.6 L121 164.2M28.2 129.4 L28.8 133.3 L27.7 134.5" fill="none" stroke="#000" stroke-width="0.75" stroke-opacity="0.9" stroke-dasharray="2.2 1"/>
<path d="M106.8 131.7 L108.9 132.7 L107.9 133.8 L106.3 133 L106.8 131.7M108.4 138.4 L110.4 138.2 L110.2 139.4 L108.6 139.4 L108.4 138.4M104.8 132.2 L105.5 132.7 L105 133.3 L104.5 132.7 L104.8 132.2M103.5 130.9 L104.2 131.7 L103.7 132.2 L103.2 131.7 L103.5 130.9M109.7 134.5 L111.2 134.8 L111.5 136.4 L111 137.9 L109.9 136.9 L109.7 134.5M105.3 136.6 L106.6 136.1 L106.8 137.6 L105.8 139.4 L105 138.4 L105.3 136.6M107.3 136.1 L108.6 136.9 L107.9 138.7 L107.3 137.6 L107.3 136.1M103.5 134 L105.5 134.5 L106 136.1 L104 137.1 L103.5 134M98.6 133.3 L99.3 133.8 L98.8 134.3 L98.3 133.8 L98.6 133.3M101.4 127.6 L102.7 127.3 L102.2 128.4 L101.4 127.6M103.7 129.4 L104.5 129.9 L103.7 130.2 L103.7 129.4M108.1 128.4 L109.9 128.9 L108.9 129.7 L108.1 128.4M112 137.6 L113.3 137.4 L113 138.7 L112 137.6M103.5 146.9 L104.5 147.2 L103.7 147.7 L103.5 146.9M98 150.8 L99.3 150.5 L98.6 151.3 L98 150.8" fill="#000" fill-opacity="0.25" stroke="#000" stroke-width="0.6" stroke-opacity="0.9"/>
<path d="M126 29C124.3 30.5 120.3 34.8 116 38C111.7 41.2 105 45.4 100 48C95 50.6 90 51.9 86 53.5C82 55.1 78.7 55.8 76 57.5C73.3 59.2 72 61.6 70 64C68 66.4 66.7 69.7 64 72C61.3 74.3 58 76.3 54 78C50 79.7 42.3 81.3 40 82" fill="none" stroke="#123a66" stroke-width="2.2" stroke-linecap="round"/>
<path d="M21 110C23.3 110.9 30.2 114.1 35 115.5C39.8 116.9 45 118.4 50 118.5C55 118.6 60 117.4 65 116C70 114.6 75 112 80 110C85 108 90.3 105 95 104C99.7 103 103.8 103.7 108 104C112.2 104.3 115.5 106.3 120 106C124.5 105.7 130 103.7 135 102C140 100.3 145.8 97 150 96C154.2 95 157 95.3 160 96C163 96.7 164.7 99.7 168 100C171.3 100.3 174.7 99.4 180 98C185.3 96.6 192 93.6 200 91.5C208 89.4 223.3 86.5 228 85.5" fill="none" stroke="#1f5c88" stroke-width="2" stroke-linecap="round" stroke-dasharray="0.01 3.7"/>
</g>
<text x="174.7" y="106" font-family="'Liberation Sans',sans-serif" font-size="16" text-anchor="middle" fill="#111" stroke="#111" stroke-width="0.35">H</text>
<path d="M93 119.4L94.9 123.8L91.1 123.8Z" fill="#000"/>
<rect x="21" y="9.5" width="206.8" height="154.7" fill="none" stroke="#222" stroke-width="0.4"/>
<g font-family="'DejaVu Sans','Liberation Sans',sans-serif" font-size="6.25" fill="#222"><text x="18.7" y="11.8" text-anchor="end">60°N</text><text x="18.7" y="24.6" text-anchor="end">55°N</text><text x="18.7" y="37.5" text-anchor="end">50°N</text><text x="18.7" y="50.4" text-anchor="end">45°N</text><text x="18.7" y="63.3" text-anchor="end">40°N</text><text x="18.7" y="76.2" text-anchor="end">35°N</text><text x="18.7" y="89.1" text-anchor="end">30°N</text><text x="18.7" y="102" text-anchor="end">25°N</text><text x="18.7" y="114.9" text-anchor="end">20°N</text><text x="18.7" y="127.8" text-anchor="end">15°N</text><text x="18.7" y="140.7" text-anchor="end">10°N</text><text x="18.7" y="153.6" text-anchor="end">5°N</text><text x="18.7" y="166.4" text-anchor="end">0°</text><text x="21.3" y="171.8" text-anchor="middle">90°E</text><text x="47.1" y="171.8" text-anchor="middle">100°E</text><text x="73" y="171.8" text-anchor="middle">110°E</text><text x="98.9" y="171.8" text-anchor="middle">120°E</text><text x="124.7" y="171.8" text-anchor="middle">130°E</text><text x="150.6" y="171.8" text-anchor="middle">140°E</text><text x="176.4" y="171.8" text-anchor="middle">150°E</text><text x="202.3" y="171.8" text-anchor="middle">160°E</text><text x="228.1" y="171.8" text-anchor="middle">170°E</text></g>
<g><path d="M243 16.2L245.2 9.5L247.5 16.2Z" fill="#ff0000"/><rect x="243" y="16.2" width="4.5" height="11.1" fill="#ff1e00"/><rect x="243" y="27.1" width="4.5" height="11.1" fill="#ff8200"/><rect x="243" y="38" width="4.5" height="11.1" fill="#ffb400"/><rect x="243" y="48.8" width="4.5" height="11.1" fill="#ffff00"/><rect x="243" y="59.7" width="4.5" height="11.1" fill="#b4e600"/><rect x="243" y="70.6" width="4.5" height="11.1" fill="#00dc00"/><rect x="243" y="81.5" width="4.5" height="11.1" fill="#00a028"/><rect x="243" y="92.3" width="4.5" height="11.1" fill="#149494"/><rect x="243" y="103.2" width="4.5" height="11.1" fill="#6262ee"/><rect x="243" y="114.1" width="4.5" height="11.1" fill="#5a80f0"/><rect x="243" y="125" width="4.5" height="11.1" fill="#76a8f6"/><rect x="243" y="135.8" width="4.5" height="11.1" fill="#c6dcfb"/><rect x="243" y="146.7" width="4.5" height="11.1" fill="#ffffff"/><path d="M243 16.2L245.2 9.5L247.5 16.2L247.5 157.6L245.2 164.5L243 157.6Z" fill="none" stroke="#333" stroke-width="0.4"/></g>
<g font-family="'DejaVu Sans','Liberation Sans',sans-serif" font-size="4.5" fill="#333"><text x="250.1" y="17.8">980</text><path d="M247.5 16.2h1.3" stroke="#333" stroke-width="0.35"/><text x="250.1" y="28.7">970</text><path d="M247.5 27.1h1.3" stroke="#333" stroke-width="0.35"/><text x="250.1" y="39.6">960</text><path d="M247.5 38h1.3" stroke="#333" stroke-width="0.35"/><text x="250.1" y="50.5">950</text><path d="M247.5 48.8h1.3" stroke="#333" stroke-width="0.35"/><text x="250.1" y="61.3">940</text><path d="M247.5 59.7h1.3" stroke="#333" stroke-width="0.35"/><text x="250.1" y="72.2">930</text><path d="M247.5 70.6h1.3" stroke="#333" stroke-width="0.35"/><text x="250.1" y="83.1">920</text><path d="M247.5 81.5h1.3" stroke="#333" stroke-width="0.35"/><text x="250.1" y="94">910</text><path d="M247.5 92.3h1.3" stroke="#333" stroke-width="0.35"/><text x="250.1" y="104.8">900</text><path d="M247.5 103.2h1.3" stroke="#333" stroke-width="0.35"/><text x="250.1" y="115.7">890</text><path d="M247.5 114.1h1.3" stroke="#333" stroke-width="0.35"/><text x="250.1" y="126.6">880</text><path d="M247.5 125h1.3" stroke="#333" stroke-width="0.35"/><text x="250.1" y="137.5">870</text><path d="M247.5 135.8h1.3" stroke="#333" stroke-width="0.35"/><text x="250.1" y="148.3">860</text><path d="M247.5 146.7h1.3" stroke="#333" stroke-width="0.35"/><text x="250.1" y="159.2">850</text><path d="M247.5 157.6h1.3" stroke="#333" stroke-width="0.35"/></g>
<clipPath id="c1"><rect x="308" y="9.5" width="207" height="154.9"/></clipPath>
<g clip-path="url(#c1)">
<rect x="308" y="9.5" width="207" height="154.9" fill="#76a8f6"/>
<path d="M305 12.4C305.5 12.4 305.5 12.2 308 12.4C310.5 12.6 316.3 13.3 320 13.6C323.7 13.9 326.7 14.1 330 14C333.3 13.9 336.7 13.5 340 13C343.3 12.5 346.7 11.6 350 11C353.3 10.4 357.3 10.2 360 9.4C362.7 8.6 339.7 6.6 366 6C392.3 5.4 492.7 6 518 6L518 6.5L305 6.5Z" fill="#c6dcfb"/>
<path d="M436.5 3C436.8 4.1 437.1 7.1 438 9.4C438.9 11.7 440.3 14.4 442 17C443.7 19.6 445.8 22.8 448 25C450.2 27.2 452.5 28.8 455 30.5C457.5 32.2 459 33.7 463 35C467 36.3 473.3 37.7 479 38.5C484.7 39.3 490.2 39.7 497 40C503.8 40.3 516.2 40.4 520 40.5L520 3Z" fill="#76a8f6"/>
<path d="M448.5 3C448.7 4.1 448.6 6.9 449.6 9.4C450.6 11.9 452.3 15.2 454.5 18C456.7 20.8 459.4 24 462.7 26.3C465.9 28.6 469.9 30.5 474 32C478.1 33.5 482.7 34.5 487 35.3C491.3 36.1 494.5 36.4 500 36.8C505.5 37.2 516.7 37.4 520 37.5L520 3Z" fill="#c6dcfb"/>
<path d="M473 3C473.2 4.1 473.8 6.9 474.5 9.4C475.2 11.9 475.9 15.5 477.5 18C479.1 20.5 481 22.7 484 24.6C487 26.5 491.7 28.3 495.5 29.5C499.3 30.7 502.9 31.3 507 31.8C511.1 32.3 517.8 32.5 520 32.6L520 3Z" fill="#ffffff"/>
<path d="M305 19C305.5 19 305.5 18.8 308 19C310.5 19.2 316.3 19.8 320 20C323.7 20.2 326.7 20.1 330 20C333.3 19.9 336.7 19.9 340 19.6C343.3 19.3 346.7 18.6 350 18C353.3 17.4 356.7 16.7 360 16C363.3 15.3 366.7 14.6 370 14C373.3 13.4 376.7 12.9 380 12.4C383.3 11.9 386.7 11.4 390 11C393.3 10.6 396.7 10.3 400 10C403.3 9.7 407.3 10.1 410 9.4C412.7 8.7 398 6.6 416 6C434 5.4 501 6 518 6L518 167.4L305 167.4Z" fill="#5a80f0"/>
<path d="M436.5 3C436.8 4.1 437.1 7.1 438 9.4C438.9 11.7 440.3 14.4 442 17C443.7 19.6 445.8 22.8 448 25C450.2 27.2 452.5 28.8 455 30.5C457.5 32.2 459 33.7 463 35C467 36.3 473.3 37.7 479 38.5C484.7 39.3 490.2 39.7 497 40C503.8 40.3 516.2 40.4 520 40.5L520 3Z" fill="#76a8f6"/>
<path d="M448.5 3C448.7 4.1 448.6 6.9 449.6 9.4C450.6 11.9 452.3 15.2 454.5 18C456.7 20.8 459.4 24 462.7 26.3C465.9 28.6 469.9 30.5 474 32C478.1 33.5 482.7 34.5 487 35.3C491.3 36.1 494.5 36.4 500 36.8C505.5 37.2 516.7 37.4 520 37.5L520 3Z" fill="#c6dcfb"/>
<path d="M473 3C473.2 4.1 473.8 6.9 474.5 9.4C475.2 11.9 475.9 15.5 477.5 18C479.1 20.5 481 22.7 484 24.6C487 26.5 491.7 28.3 495.5 29.5C499.3 30.7 502.9 31.3 507 31.8C511.1 32.3 517.8 32.5 520 32.6L520 3Z" fill="#ffffff"/>
<path d="M305 24C305.5 24 303.8 23.8 308 24C312.2 24.2 323 25.1 330 25C337 24.9 345 24.1 350 23.6C355 23.1 356.7 22.6 360 22C363.3 21.4 366.7 20.6 370 20C373.3 19.4 376.7 18.9 380 18.4C383.3 17.9 386.7 17.6 390 17C393.3 16.4 396.7 15.8 400 15C403.3 14.2 406.7 13.2 410 12.5C413.3 11.8 416.8 11 420 10.5C423.2 10 426.7 8.4 429 9.5C431.3 10.6 432.2 14.4 434 17C435.8 19.6 437.8 22.8 440 25C442.2 27.2 444.5 28.8 447 30.5C449.5 32.2 452 33.5 455 35C458 36.5 460.8 38.2 465 39.3C469.2 40.4 475 41.2 480 41.7C485 42.2 489.2 42.2 495 42.3C500.8 42.4 511.2 42.5 515 42.5C518.8 42.5 517.5 42.5 518 42.5L518 167.4L305 167.4Z" fill="#6262ee"/>
<path d="M305 30C305.5 30 303.8 29.9 308 30C312.2 30.1 323 30.4 330 30.4C337 30.4 345 30.1 350 30C355 29.9 356.7 29.8 360 29.6C363.3 29.4 367.2 29 370 28.8C372.8 28.6 374.6 28.6 377 28.3C379.4 28 382 27.4 384.5 26.8C387 26.2 389.6 25.3 392 24.6C394.4 23.9 396.6 22.9 399 22.5C401.4 22.1 404 21.9 406.4 22.2C408.8 22.4 411.7 23 413.6 24C415.5 25 416.8 26.9 418 28.3C419.2 29.7 420 31.2 421 32.6C422 34 422.8 35.3 424 36.5C425.2 37.7 426.6 39.2 428 40C429.4 40.8 430.5 41.2 432.5 41.5C434.5 41.8 437.1 41.8 440 42C442.9 42.2 446.2 42.3 450 42.7C453.8 43.1 457.7 43.7 462.7 44.2C467.7 44.7 471.3 45.1 480 45.5C488.7 45.9 508.7 46.2 515 46.3C521.3 46.4 517.5 46.3 518 46.3L518 167.4L305 167.4Z" fill="#149494"/>
<path d="M305 35.6C305.5 35.6 303.8 35.5 308 35.6C312.2 35.7 323 36 330 36C337 36 345 35.7 350 35.6C355 35.5 356.7 35.5 360 35.4C363.3 35.3 365.9 35 370 34.8C374.1 34.6 380.4 34.1 384.5 34C388.6 33.9 391.8 33.8 394.7 34.2C397.6 34.6 399.8 35.1 402 36.3C404.2 37.5 406.1 39.7 407.8 41.4C409.5 43.1 410.5 45.2 412.2 46.5C413.9 47.8 415.4 48.6 418 49C420.6 49.4 424.3 48.9 428 48.6C431.7 48.4 436.3 47.8 440 47.5C443.7 47.2 446.2 46.9 450 46.9C453.8 46.9 457.7 47.2 462.7 47.5C467.7 47.8 471.3 48.2 480 48.5C488.7 48.8 508.7 48.9 515 49C521.3 49.1 517.5 49 518 49L518 167.4L305 167.4Z" fill="#00a028"/>
<path d="M305 40C305.5 40 303.8 40.2 308 40C312.2 39.8 323 39.3 330 39C337 38.7 345 38.5 350 38.4C355 38.3 356.7 38.5 360 38.6C363.3 38.7 365.9 39.3 370 39.2C374.1 39.1 380.5 38.1 384.5 38C388.5 37.9 391.6 38.2 394 38.5C396.4 38.8 396.9 38.9 399 40C401.1 41.1 404.4 43.3 406.4 45C408.3 46.7 409.1 48.8 410.7 50C412.3 51.2 414.1 52.2 416 52.5C417.9 52.8 420 52.3 422 52C424 51.7 425 51.2 428 50.8C431 50.4 436.3 49.9 440 49.6C443.7 49.3 445.8 48.9 450 49C454.2 49.1 458.3 49.9 465 50.3C471.7 50.7 481.7 51 490 51.2C498.3 51.4 510.3 51.5 515 51.5C519.7 51.5 517.5 51.5 518 51.5L518 167.4L305 167.4Z" fill="#00dc00"/>
<path d="M305 49C305.5 49 305.5 49 308 49C310.5 49 316.3 49 320 48.8C323.7 48.6 326.7 48.1 330 48C333.3 47.9 336.7 47.8 340 48C343.3 48.2 346.7 48.6 350 49C353.3 49.4 356.7 49.7 360 50.4C363.3 51.1 366.7 51.9 370 53C373.3 54.1 376.7 55.8 380 57C383.3 58.2 386.7 59.8 390 60C393.3 60.2 397.5 58.5 400 58C402.5 57.5 402.5 57.3 405 57C407.5 56.7 411.7 56.3 415 56C418.3 55.7 420 55.4 425 55C430 54.6 438.3 53.6 445 53.5C451.7 53.4 457.5 54.3 465 54.6C472.5 54.9 481.7 55.2 490 55.5C498.3 55.8 510.3 56.2 515 56.3C519.7 56.4 517.5 56.3 518 56.3L518 167.4L305 167.4Z" fill="#b4e600"/>
<path d="M305 58.5C305.5 58.5 305.5 58.5 308 58.5C310.5 58.5 316.3 58.5 320 58.5C323.7 58.5 326.7 58.2 330 58.5C333.3 58.8 336.7 59.4 340 60C343.3 60.6 346.7 61.4 350 62.4C353.3 63.4 356.7 64.9 360 66C363.3 67.1 366.7 68 370 69C373.3 70 376.7 71.7 380 72C383.3 72.3 386.7 71.8 390 71C393.3 70.2 397.5 68.1 400 67C402.5 65.9 402.5 65.4 405 64.5C407.5 63.6 411.7 62.3 415 61.5C418.3 60.7 420 60 425 59.5C430 59 438.3 58.5 445 58.5C451.7 58.5 457.5 59.2 465 59.5C472.5 59.8 481.7 60 490 60.3C498.3 60.5 510.3 60.9 515 61C519.7 61.1 517.5 61 518 61L518 167.4L305 167.4Z" fill="#ffff00"/>
<path d="M305 68C305.5 68 305.5 67.8 308 68C310.5 68.2 316.3 68.3 320 69C323.7 69.7 326.7 70.8 330 72C333.3 73.2 336.7 74.7 340 76C343.3 77.3 346.7 78.9 350 80C353.3 81.1 356.7 81.9 360 82.4C363.3 82.9 366.7 83.2 370 83C373.3 82.8 376.7 81.8 380 81C383.3 80.2 386.7 79.2 390 78C393.3 76.8 397.5 75 400 74C402.5 73 402.5 72.8 405 72C407.5 71.2 411.7 70 415 69C418.3 68 420 66.8 425 66C430 65.2 438.3 64.2 445 64C451.7 63.8 457.5 64.3 465 64.5C472.5 64.7 481.7 64.8 490 65C498.3 65.2 510.3 65.3 515 65.4C519.7 65.5 517.5 65.4 518 65.4L518 167.4L305 167.4Z" fill="#ffb400"/>
<path d="M305 86C305.5 86 305.5 85.8 308 86C310.5 86.2 316.3 86.5 320 87C323.7 87.5 326.7 88.2 330 89C333.3 89.8 336.7 91.2 340 92C343.3 92.8 346.7 93.6 350 94C353.3 94.4 356.7 94.6 360 94.4C363.3 94.2 366.7 93.7 370 93C373.3 92.3 376.7 91.2 380 90C383.3 88.8 386.7 87.5 390 86C393.3 84.5 397.5 82.2 400 81C402.5 79.8 402.5 79.8 405 79C407.5 78.2 411.7 76.9 415 76C418.3 75.1 420 74.6 425 73.6C430 72.6 438.3 70.8 445 70.2C451.7 69.6 457.5 70.2 465 70.2C472.5 70.2 481.7 70.2 490 70.3C498.3 70.3 510.3 70.5 515 70.5C519.7 70.5 517.5 70.5 518 70.5L518 167.4L305 167.4Z" fill="#ff8200"/>
<path d="M305 106C305.5 106 306.2 105.5 308 106C309.8 106.5 313 107.8 316 109C319 110.2 322.7 111.8 326 113C329.3 114.2 332.7 116.2 336 116.5C339.3 116.8 342.7 115.7 346 115C349.3 114.3 353.3 113.3 356 112.5C358.7 111.7 360 111.2 362 110C364 108.8 365 106.2 368 105C371 103.8 376.7 103.2 380 103C383.3 102.8 386 104 388 104C390 104 390.4 104 392 103C393.6 102 395.4 99.7 397.6 98C399.8 96.3 402.1 94.6 405 93C407.9 91.4 411.7 89.9 415 88.5C418.3 87.1 421.7 85.8 425 84.8C428.3 83.8 431.7 83 435 82.2C438.3 81.5 440 80.8 445 80.3C450 79.8 458.3 79.5 465 79.5C471.7 79.5 478.3 79.8 485 80C491.7 80.2 500 80.5 505 80.7C510 80.9 512.8 81 515 81C517.2 81 517.5 81 518 81L518 167.4L305 167.4Z" fill="#ff1e00"/>
<path d="M362 110C360.7 112.7 361.5 113.7 362 116C362.5 118.3 363.3 121.8 365 124C366.7 126.2 369.2 128.1 372 129C374.8 129.9 379.2 130.3 382 129.5C384.8 128.7 387.5 126.2 389 124C390.5 121.8 390.7 119 391 116C391.3 113 391.5 108.7 391 106C390.5 103.3 391.5 101 388 100C384.5 99 374.3 98.3 370 100C365.7 101.7 363.3 107.3 362 110Z" fill="#ff8200"/>
<path d="M413 128C413.2 125.7 413.8 122 415 120C416.2 118 418 116.7 420 116C422 115.3 425 115.3 427 116C429 116.7 430.8 118 432 120C433.2 122 433.8 125.3 434 128C434.2 130.7 434 134.2 433 136C432 137.8 430.5 138.7 428 139C425.5 139.3 420.3 138.8 418 138C415.7 137.2 414.8 135.7 414 134C413.2 132.3 412.8 130.3 413 128Z" fill="#ff8200"/>
<path d="M464 130C464.3 126.3 465 121 466 118C467 115 468 114 470 112C472 110 475.3 107.4 478 106C480.7 104.6 483.3 103.8 486 103.6C488.7 103.4 491.7 103.9 494 105C496.3 106.1 498 108.2 500 110C502 111.8 502.7 114.2 506 116C509.3 117.8 517.7 112 520 121C522.3 130 522.7 161.8 520 170C517.3 178.2 507 171.7 504 170C501 168.3 502.7 162.5 502 160C501.3 157.5 502 156 500 155C498 154 494 154.3 490 154C486 153.7 479.3 154 476 153C472.7 152 472 150.2 470 148C468 145.8 465 143 464 140C463 137 463.7 133.7 464 130Z" fill="#ff8200"/>
<path d="M300 139.5C303 134.7 313.7 140.2 318 141C322.3 141.8 323 143.2 326 144C329 144.8 333.3 145.2 336 146C338.7 146.8 340.3 147.2 342 148.5C343.7 149.8 344.3 152.2 346 154C347.7 155.8 350.6 156.3 352 159C353.4 161.7 363.2 168.2 354.5 170C345.8 171.8 309.1 175.1 300 170C290.9 164.9 297 144.3 300 139.5Z" fill="#ff8200"/>
<path d="M316.2 131.5C316.2 131.8 316.1 132.2 316 132.5C315.8 132.8 315.6 133.1 315.3 133.3C315 133.6 314.6 133.8 314.2 133.9C313.8 134 313.4 134.1 313 134.1C312.6 134.1 312.2 134 311.8 133.9C311.4 133.8 311 133.6 310.7 133.3C310.4 133.1 310.2 132.8 310 132.5C309.9 132.2 309.8 131.8 309.8 131.5C309.8 131.2 309.9 130.8 310 130.5C310.2 130.2 310.4 129.9 310.7 129.7C311 129.4 311.4 129.2 311.8 129.1C312.2 129 312.6 128.9 313 128.9C313.4 128.9 313.8 129 314.2 129.1C314.6 129.2 315 129.4 315.3 129.7C315.6 129.9 315.8 130.2 316 130.5C316.1 130.8 316.2 131.2 316.2 131.5Z" fill="#ff8200"/>
<path d="M381 156C381.5 152.7 382 151.8 383 150C384 148.2 385.3 146.6 387 145.5C388.7 144.4 391 143.6 393 143.5C395 143.4 397.8 144.1 399 145C400.2 145.9 400.5 147.5 400 149C399.5 150.5 397.2 152.2 396 154C394.8 155.8 393.7 157.3 393 160C392.3 162.7 394.2 168.3 392 170C389.8 171.7 381.8 172.3 380 170C378.2 167.7 380.5 159.3 381 156Z" fill="#ff8200"/>
<path d="M308.5 9.5L321.6 10.8L326.9 11L332.1 10.9L343 9.5M354 9.5L361.7 10.8L364.3 10.9L400.4 9.5M371.1 12.7L402.7 10.8L405.2 10.4L407.5 9.5M308.5 21.7L320.6 22.6L331.1 22.7L336.4 22.5L346.9 21.4L375.2 16.6L403.9 13.4L408.9 12.1L412.8 9.5M428.9 9.5L435.7 20.3L438.4 23.7L441.6 26.8L445.1 29.8L451 33.8L455.2 36.1L459.8 38.1L464.7 39.6L469.8 40.7L482.8 42.3L493.3 42.7L514.5 42.8M434.2 9.5L436.9 15.1L440.4 20.5L444.8 25.4L450.2 29.8L456.2 33.6L463 36.7L467.9 38.1L475.6 39.5M439.6 9.5L442.2 15.1L444.5 18.7L447.2 22.1L450.4 25.3L454 28.2L457.9 30.8L462.3 33.1L469.5 35.5L482.3 38L495.4 39.1L514.5 39.3M444.9 9.5L446.3 13.3L448.3 17L452.3 22.1L455.5 25.3L459.2 28.2L463.3 30.7L467.8 32.6L472.7 34.2M450.3 9.5L450.9 11.4L452.7 15.2L457.9 22.1L463.2 26.5L469.5 30.1L479.2 33.2L489.4 35.2L499.9 36.2L514.5 36.5M455.6 9.5L457.5 13.2L461.5 18.4L464.9 21.4L470.9 25.2L480.2 29L489.9 32L500.2 33.8L508.1 34.4M471.7 9.5L472.3 13.4L473.6 17.3L475.6 21L476.9 22.7L480.3 25.7L486.7 29.2M474.4 9.5L475.1 13.4L475.7 15.4L477.7 19.1L480.5 22.4L482.2 23.9L486.3 26.4M479.7 9.5L480.7 13.4L482.8 17L484.3 18.7L488.1 21.4L494.9 24.4L499.9 25.8L507.6 27.1L514.5 27.4M485.1 9.5L486.5 13.3L488 14.9L489.9 16.3L494.3 18.4L499.2 19.9L504.3 20.9L509.5 21.6L514.5 21.7M490.4 9.5L492 11.1L494.1 12.3L498.9 13.9L502.1 14.4L502.3 13.5L500.9 13.1L500.5 12.6L498.5 12.2L498.6 11.5L497.1 11.3M485.1 23.2L491.6 26.5L498.9 28.8L506.6 30.2L514.5 30.5M485.5 40.4L496 40.9L514.5 41M308.5 31.1L350.6 31L371.6 29.9L384.6 28L399.5 24L404.7 23.6L409.8 24.6L412.1 25.6L414 27L417.3 30.1L421.2 35.2L424.2 38.5L428.1 41.2L432.9 42.6L446.1 42.9L469.7 45.1L485.4 46.2L514.5 46.3M308.5 35.9L340.1 35.6L371.8 34.8L382.3 33.9L392.8 34L397.9 35L402.5 36.9L406.3 39.7L412.7 46L414.7 47.2L417.1 48L422.4 48.3L446 46.5L453.9 46.7L469.6 48L485.4 48.8L514.5 48.9M308.5 40L323.7 39.4L339.6 39.3L352.7 38.7L371.2 39L381.7 38.1L389.6 38.1L394.8 38.7L399.5 40.5L403.5 43.1L410.2 49.2L412.2 50.5L414.5 51.4L417.1 51.8L422.4 51.6L443.3 49.6L448.6 49.4L482.8 51.3L514.5 51.5M438 52.6L451.2 52.2L472.3 53.5L496 54.1L514.5 54.2M467 55.7L485.5 56L501.3 56.7L514.5 56.8M308.5 56.5L314.8 56.4L325.3 55.6L330.5 56L338.3 57.1L348.4 59.3L375.1 68L380.1 69.1L382.8 69.2L387.9 68.5L392.9 67.2L404.6 62.5L409.5 61.1L419.7 59.1L430.1 57.8L443.3 57.5L459.2 57.6L469.6 58.4L485.5 58.6L501.3 59.3L514.5 59.4M308.5 61.1L315.4 61.1L325.9 60.4L336.3 61.7L344 63.3L349 64.6L373.1 72.6L378.2 73.7L380.8 73.9L386 73.5L391 72.3L395.8 70.6L407.4 65.8L414.7 63.6L422.3 61.9L430.1 60.9L440.7 60.4L459.1 60.4L469.6 61.3L514.5 62M308.5 67L314.7 67.4L324.9 69.3L353.2 80L360.8 81.6L366.1 82.1L371.3 81.8L381.5 79.7L391.2 76.6L405.4 71.2L415 68L422.4 65.9L430.1 64.6L440.6 63.6L453.8 63.5L461.7 63.7L472.2 64.4L514.5 64.7M308.5 72.8L317.5 73.6L325.1 75.3L346.3 83.3L353.6 85.6L361.3 86.8L366.6 87L371.8 86.6L379.4 84.8L389 81.6L403 75.9L412.7 72.7L422.5 69.9L432.8 68.1L440.6 67.1L448.5 66.7L459.1 66.7L472.2 67.2L514.5 67.3M308.5 85.6L314.1 86L324.4 87.4L329.5 88.6L341.8 92.1L346.9 93.2L352.2 93.7L362.7 93.6L370.5 92.5L377.9 90.4L389.5 85.8L403 79.5L412.7 76.4L425.2 73.1L440.6 70.4L448.5 69.8L514.5 69.9M308.5 88.5L314.1 88.9L324.4 90.4L329.5 91.6L339.3 94.4L347 96L354.8 96.6L365.4 96.3L373.1 94.9L378 93.5L389.7 88.8L403.1 82.5L412.8 79.3L427.8 75.5L440.6 73.2L448.5 72.5L514.5 72.6M438.1 76L443.2 75.2L448.5 74.8L493.4 74.8L514.5 75.2M308.5 104.6L313.7 106.1L330.3 112.2L335.3 113.5L337.9 113.6L343.2 113.1L355.9 110.6L357.9 110.5L360 111L361.5 112.1L362.5 113.9L365.2 121.6L367.6 125.1L371.1 128.1L373.3 129.2L375.7 129.8L378.3 130.1L380.9 129.7L383.3 128.9L385.3 127.6L387 126.1L389.2 122.5L389.9 120.6L390.4 116.7L389.1 104.8L389.4 102.8L390.3 101L391.5 99.2L396.5 94.6L402.4 90.6L406.7 88.3L415.9 84.4L428.1 80.6L438.2 78.2L445.9 77L493.4 76.9L503.9 77.7L514.5 77.8M391.8 112.6L391.4 108.6L391.7 104.7L392.6 102.8L393.9 101.1L397.1 98L402.8 93.8L409.2 90.3L418.4 86.4L428.2 83.3L440.7 80.3L448.6 79.4L493.5 79.5L503.9 80.3L514.5 80.4M405.1 95.3L411.6 91.9L423.2 87.3L435.7 84L445.9 82.1L493.4 82.1L503.9 83L514.5 83.1M459.1 84.4L480.2 85L496.1 85.1L503.9 85.7L514.5 85.7M514.5 96.2L512 95.6L507.3 93.9L503 91.5L501.4 90L501.4 89.3L503.3 88.6L514.5 87.8M514.5 101.4L509.6 99.9L496.4 93.4L491.7 91.6L486.6 90.7L481.4 91.2L479 92L476.9 93.1L475.1 94.6L465.9 106.6L461.4 111.5L458 114.5L454.1 117.2L449.6 119.2L447 119.7L444.4 119.7L441.9 119.2L439.6 118.3L433.5 114.5L429 112.4L424.1 110.9L421.5 110.6L416.3 110.8L413.7 111.3L404.3 114.8L401.8 115.4L400.5 115.1L399.4 114.4L397.9 111.6L397.2 107.7L397.7 105.7L398.8 103.9L402 100.8L405.7 97.9L409.8 95.4L414.2 93.3M514.5 106.7L509.8 105L497.2 97.7L492.6 95.9L487.5 94.9L482.2 95L477.5 96.7L473.7 99.4L470.5 102.6M514.5 112L509.3 111.2L507.1 110.2L498.2 102.9L493.9 100.7L488.8 99.6L483.6 99.6L481 100.1L476.3 101.9L474.3 103.1L470.6 106L464.5 112.4L457.2 123L454.5 126.4L451 129.4L448.8 130.4L446.3 130.8L443.9 130.4L442.3 129.3L441.2 128.1L437.1 120.8L434.3 117.4L432.5 115.9M514.5 114.6L509.3 114.1L506.9 113.3L504.8 112.1L496.2 104.6L494 103.5L491.7 102.6L489.1 102.2L483.8 102.2L478.9 103.5L474.6 105.8M514.5 117.2L509.3 116.7L506.8 116.1L504.6 115L496 107.5L494.1 106.2M514.5 122.5L509.6 121.1L505 119.1L501.3 116.3L494.6 110.1L492.7 108.8L490.4 107.8L487.9 107.4L485.3 107.3L482.7 107.7L480.2 108.4L476 110.7L471 115.3L469.7 117.1L467.8 120.7L465.7 128.5L465 134.5L465.1 138.4L466.1 142.3L470.3 149.6L473.2 152.9L475.1 154.3L479.8 156L485 156.5L492.9 156.1L495.5 156.3L497.3 156.9L498.5 158.1L499.1 159.6L499.1 161.4L498.3 164.5M514.5 133L512.3 131.9L508.8 129L503.5 122.1L499.1 117.2M514.5 140.9L512 140.2L509.9 139.1L508.1 137.6L506.7 136L504.5 132.3L500.1 123L497.7 119.4L494.8 116.1L491.2 113.3L489 112.2L486.5 111.6L483.9 111.5L481.3 111.9L479 112.8L476.9 114L473.5 117L472.1 118.7L470.1 122.4L468.8 126.2L467.7 132.1M514.5 146.1L509.5 145L507.3 143.9L505.6 142.4L503.4 138.9L498.6 125.4M514.5 151.4L509.3 151L504.2 149.9L502.9 149L501.9 147.8L500.2 144L498.1 132.2L496.3 126.4L494.4 122.7L493.2 121L489.9 117.9L487.7 116.8L485.3 116.1L482.7 116.1L480.2 116.8L478.1 117.9L474.7 120.9L473.6 122.7L471.8 126.5L470.8 130.4L470.2 134.3L470.2 138.3L470.6 140.2L473 145.9L474.2 147.7L475.7 149.2L477.8 150.5L480.2 151.3L485.4 151.8L498.5 150.5L501 150.9L502.2 151.5L503.7 153.9L504.1 155.9L504.1 159.8L503.2 164.5M479.5 153.4L484.7 153.9L495.2 153.6L497.5 154L499.6 155L501 156.7L501.6 158.6L501.7 160.6L501.1 164.5M496.5 162.8L495.6 163.7L494.3 164.1L481.8 162.9L476.5 163.1L471.7 164.5M469.6 151.1L472.2 154.5L476.8 159.1L476.6 159.8L475.5 160.5L471.1 162.7L466.3 164.5M462.9 138.4L463.6 142.3L466.8 149.8L468.1 153.5L468.1 154.9L467.7 156.2L466 157.7L463.9 159L453 164.5M457.6 159.7L451.1 163.2L449.1 163.9L447 164.3L439 164.2L425.9 163.3L418.2 164.5M446.6 162.6L438.7 162.6L425.5 161.7L422.9 161.9L410.2 164.5M399.5 164.5L398.3 163.3L397.7 162L397.4 160L398 156.1L400 150.4L400.1 148.4L399.4 146.5L397.9 144.9L395.8 143.9L393.5 143.5L390.9 143.7L388.4 144.4L384.2 146.7L382.6 148.3L379.9 151.7L376 159.1L373.5 162.5L371.4 163.7L368.8 164.5M394.1 164.5L393.8 160.5L394 158.6L394.5 156.6L396.7 150.9L396.9 148.9L396.3 147.4L394.8 146.4L393 146.1L390.9 146.2L388.7 146.9L386.6 148.1L383.5 151.3L381.5 155L378 164.5M391.4 164.5L391 160.5L391.1 152.6L390.5 151.7L389.4 151.6L387.1 152.7L384.6 155.8L380.9 164.5M362 164.5L359.2 161.1L354.3 156.4L345.4 149.2L341.4 146.6L336.6 144.9L326.4 142.9L311.4 139.1L308.5 138.6M356.7 164.5L354.1 161L351 157.8L342.5 150.2L340.6 148.9L335.9 147L325.7 145M351.3 164.5L346.5 159.7L341.4 155.2L337.4 152.6L332.5 151.4L327.2 151.1L322 151.8L319.7 152.6L317.6 153.8L315.9 155.4L314.8 157.1L314.2 159.1L314.3 164.5M348.6 164.5L343.3 160.1L337.5 156L335.1 155.3L332.5 155.2L330 155.7L327.9 156.9L327.1 158.5L327.3 160L328.2 161.5L330.8 164.5M330.9 150L323 149.4L317.9 150L315.5 150.9L311.4 153.3L308.5 156.6M428.6 115L426.2 114.2L423.6 113.8L421 113.9L418.5 114.4L416.2 115.5L414.4 116.9L412.9 118.5L410.9 122.2L409.5 128L409.3 132L410.2 139.8L409.9 141.5L409 142.9L407.8 143.8L406 144.2L404.2 143.8L399.9 141.5L397.5 140.7L392.3 140.2L387.1 140.9L379.8 143.1L377.2 143.4L369.3 143L350.9 143.7L345.6 143.2L327.6 140.3L317.6 137.8L315.6 137L314.5 136.1L313.8 135.1L313.9 132.8L313.7 131.9L313 131.4L312.1 131.7L311.4 134.2L310.8 134.9L308.5 135.6M308.5 109.4L326.8 115.5L334.3 117.4L336.9 117.6L342.1 117.3L354.7 115.3L356.4 115.3L358 115.8L359.2 117.2L362.3 124.7L365.3 130.2L366 132.6L365.5 133.6L364.1 134.5L354.1 137.1L346.3 138.2L338.4 138.4L327.9 137.5L320.8 136.1L319 135L316.4 129.8L315.1 128.7L313.6 128L311.7 128L310 128.7L308.5 130.3M351.3 117.5L355.2 117.4L356.7 117.9L357.9 119.3L359.7 125.1L359.9 126.7L359.5 128.3L358.4 129.7L354.3 132.1L352 133.1L347 134.3L341.8 135L336.5 135.1L331.2 134.7L326.1 133.8L323.7 133.2L321.6 132.1L317.3 127.2L315.5 125.9L313.4 125L311 124.8L308.5 125.1M308.5 101.4L313.5 102.7L327.9 107.7L335.4 109.4L338.1 109.6L343.3 109.2L356.2 107.1L358.8 107L360.8 107.4L362.3 108.4L363.3 109.7L364 111.4L364.9 115.3M308.5 98.8L313.6 99.9L323.4 102.9L328.5 103.8L339 103.9L349.6 104.3L357.5 104.1L360 104.5L361.5 105.4M308.5 96.2L326.7 98.4L347.3 102L357.8 102.6M308.5 90.9L313.8 91.3L324.1 92.7L339.1 96.7M308.5 83.1L313.8 83.4L324.2 84.7L331.8 86.4L344.1 89.9L351.9 91L359.8 91.1L365.1 90.8L372.8 89.4L377.7 87.9M308.5 80.4L313.8 80.7L326.8 82.5L341.7 86.4L349.3 88L362.5 88.8M308.5 69.9L316.4 70.5L324 72.1L328.8 73.7L347.5 81.1M308.5 64.7L319 65.4L326.7 66.8L350.3 75.7L355.1 77.3L360.2 78.3L368.1 79L381 77.2M308.5 54.2L316.4 54.1L326.9 53.3L342.7 54.6L355.4 57.2L365.3 59.9L380 64.4L385.1 65.1L390.4 64.9L392.9 64.5L402.7 61.4M308.5 51.5L319.1 51.4L329.6 50.6L340.1 50.6L345.4 51.1L355.8 52.5L363.4 54L370.7 56.2L382.5 60.7L387.5 62L390.1 62.2L395.3 61.7M308.5 48.9L319.1 48.8L326.9 48L337.5 47.9L342.7 48.1L353.2 49.3L360.9 50.6L365.9 51.8L382.5 57.9L387.5 59.3L390.1 59.6L395.3 59.2L405.4 57L434.2 54.4L447.4 54L460.6 54.3M308.5 46.3L319.1 46.1L326.9 45.4L337.5 45.3L345.4 45.6L353.2 46.5L366 48.8L373.3 51.2L385.1 55.6L390.2 56.6L392.8 56.5L400.4 54.9L405.6 54.3L416.1 54.8L421.4 54.4M308.5 43.7L316.4 43.5L326.9 42.8L350.7 42.4L369.1 43.3L374.4 43.2L382.2 42.4L390.2 42.5L395.2 43.5L397.5 44.5L401.6 47L407.1 51.3L409.3 52.3M308.5 33.1L348.1 32.9L371.8 32M308.5 27.9L334.9 28.2L356 27.4L374.3 25.6L384.6 23.8L399.6 20L404.8 19.5L407.5 19.6L412.5 20.7L416.7 23.1L420 26.2L426.9 34.7L428.6 36.1L430.7 37.4L433 38.2L435.6 38.7L446.1 39.1L464.1 42.2M308.5 25.3L321.7 26L334.9 26L353.2 24.5L407.4 15.5L422.2 11.4L426.8 9.5M308.5 20L319 20.9L332.2 21L337.5 20.8L345.3 19.8M308.5 17.4L321.6 18.4L334.8 18.4L342.7 17.5L358.1 15L371.2 13.6M308.5 12.1L321.6 13.5L329.5 13.6L337.4 13L350.2 10.8M487.9 9.5L489.8 12.5L491.7 13.8L498.8 16.5L503.9 17.3L514.5 17.4M478.7 105.6L474.5 108L469.5 112.6L466.8 116L464.9 119.8L462.9 127.5L461.7 135.4L461.7 141.4L463.1 149L462.7 150.8L461.3 152.4L453.3 157.6L449.1 159.7L446.6 160.1L441.3 160.1L425.5 159L422.9 159.3L402.5 163.4M313.4 123.5L311.2 122.5L309.8 121.3L309.5 119.8L310 118.4L311.1 117.2L312.8 116.5L316.7 116.2L327 117.8M415.6 15.3L423.2 13.6L425.8 13.3L427.1 13.9L429.2 16.3L433.8 23.5L440 29.9L443.6 32.8L447.7 35.3L452.2 37.4L456.9 39.1M468.3 9.5L469 14.8L470.3 18.6L471.3 20.4L474 23.8L477.8 26.6M461.1 146L460.9 147.5L460.1 148.9L453 154.7L451.1 156.1L449 157L446.5 157.5L438.6 157.4L425.5 156.3L422.9 156.5L402.5 160.6L400.9 160.5L399.9 159.9L399.4 159L399.2 157.7L399.5 156M376.3 155.6L374 158L372.5 158.7L364.8 159.6L362.6 159.5L358.7 157.8L351 152.5M405 18L418.1 17.2L423.3 16.3L425 16.4L426.2 17L427.1 17.9L429.2 21.4M514.5 109.8L510.7 109L508.5 108L499 101.1L494.6 98.9L492.2 98.1M459.6 140.7L458.7 142.5L457.7 142.9L454.1 142.5L452.4 142.9L451.3 144.1L450.8 146L451.4 149.8L451.1 151.7L450.2 153.1L448.7 154.1L446.2 154.7L438.3 154.8L425.3 153.3L422.7 153.6L407.6 157.1L405 157.6L402.5 157.6L401.5 157L401.1 156.2L401.8 149.4L401.4 147.5M415.9 19.1L418.2 20L420.1 21.4L423.3 24.5L428.6 31.4L430.2 33L432.2 34.2L434.6 35L444.9 36.6M421.2 19.4L423.5 20L424.9 21.1L429.6 27.7L432.7 30.9L434.7 32.2L439.2 34.1M488.3 18.8L495 21.9L500 23.3L507.7 24.7L514.5 25M435 152.5L425.1 150.6L422.6 151L415.3 153.3L407.8 155.2M378.4 150.8L375.4 154L373.6 154.8L361.3 154.6L358.7 154.3L356.3 153.7M319.2 125.1L318.3 123.2L318.3 121.3L319.4 119.9L321.1 119L323 118.7L325.3 118.7L335.7 119.8L348.9 119.3L351.5 119.4L354 120L355.2 121.1L355.7 122.4L355.9 124.3L355.3 126.2L354 127.9L352.2 129.4L350.1 130.6L347.8 131.5L342.7 132.6L337.5 132.9L332.3 132.5M308.5 76.8L314 77.1L321.8 78.2L326.8 79.4L334.1 81.7M459.3 137.2L458.1 139.4L456.9 140L452.2 140.7L450.2 141.9L448.9 143.6L448.2 145.5L447.5 149L446.6 150.4L444.9 151.4L442.4 151.9L437.2 151.9M411.9 136.1L413.9 139.7L419.1 145.6L419.5 146.8L419.1 147.9L417.3 149.3L415.2 150.4L410.4 152.1M375.4 151.4L373.3 151.7L355.5 150.7L350.6 149.4L344.2 145.9M321.9 41L340.4 40.8L353.5 40.2L364.1 40.7L372 40.7L382.5 39.8L390.4 39.8L395.5 40.8L397.8 41.6L402 44.1L405.5 47M493.5 149.7L495.8 148.7L496.8 147.7L497.2 146.3L496.9 136.8L496.2 130.9M489.8 148L491.2 146.8L492.2 144.9L493.3 141.1L493.9 135.1L493.2 129.2L491.6 125.4L490.4 123.7L488.8 122.1L487 121L484.9 120.4L482.3 120.5L480 121.4L478.2 122.8L475.7 126.3L474.9 128.2L474.1 132.1L473.9 136.1L474.3 140L475.4 143.9L476.4 145.7L478 147.3L480.1 148.5L482.6 149.1L485.2 149.2L487.7 148.7M446 144.8L443.9 147.8L442.3 148.7L439.8 149.2L434.9 148.4L432.6 147.4L431.5 146.3L431.3 145.2L431.8 144.1L433.9 141L435.7 137.3L436.5 133.4L436.5 129.4L435.8 125.5L434.4 121.7L433.4 119.9M380.7 146L377.2 148.2L375.4 148.7L354.3 148M346.6 130.2L344.1 130.9L339 131.6L333.7 131.3L328.7 130.1L326.5 129.1L324.6 127.7L323.2 126.1L322.6 124.2L323.1 122.3M381.3 30.3L402 27.2L407.2 27.6L409.6 28.4L411.6 29.6L413.4 31.1L418.8 37.9L422 41.1L424 42.3L426.3 43.2L431.4 44.1M475.8 138.7L477.1 142.5L478.1 144.3L479.5 145.8L481.3 146.9L483.4 147.3L485.6 147.1L487.7 146.1L489.2 144.5L490.3 142.7L491.7 138.9M459.4 132L458.1 135.4L457 136.5L450.6 138.8L448.5 140L442.3 146.1L440.4 146.8L438.3 146.8L436.2 146.2L434.7 145.2L434.2 144.1L434.3 142.9M415.5 146.1L414.2 147.8L412.4 148.9L410.2 149.9L407.7 150.4L406.2 150.3L405 149.6L402.2 145.2L400.5 143.7L398.5 142.4M375.4 146.1L367.5 145.6L351.7 145.6L349.1 145.4M331.2 128.8L329.3 127.8L327.9 126.6L327.2 125.1L327.4 123.6L328.6 122.5L332 121.6L339.9 121.5L345.1 121.9L347.4 122.8L348.3 124L348.3 125.4L347.6 126.7L346.2 128L344.1 129M324.6 64.3L334.8 66.5L361.8 74.4L369.5 75.9L377.3 76.3M391.4 30.5L396.7 30.7L401.7 32L403.9 33L407.8 35.7L414.2 42L416.1 43.4L418.4 44.3L423.6 44.8M490.5 136.3L490.7 132.3L490.4 130.3L488.8 126.6L487.3 125L485.2 123.9L483.3 123.7L481.6 124.2L480.1 125.2L478.8 126.7L477.8 128.6L476.9 132.5L477.1 136.4M415.2 137.8L416.8 139.4L418.9 140.6L421.3 141.4L423.8 141.8L426.4 141.6L428.9 140.9L431 139.7L432.6 138.1L433.7 136.3L434.4 134.4L434.9 130.5L434 124.6M380.7 140.9L370.2 140.7L349.1 142.1L341.3 141.5M479.9 130.3L479.5 132.2L479.6 134.2L480.2 136.1L481 137.6L482 138.5L483.3 139.1L484.7 138.9L486.2 138L487.4 136.2L488 134.3L488.1 132.3L487.7 130.3M463.5 116.2L461.7 119.9L457.3 131.4L456 133L454.1 134.3L442.6 139.2L441 139.4L439.9 138.9L439.2 138.1L438.9 136.9L438.3 131.1M432.7 126.3L431.3 122.5L430.2 120.7L428.6 119.2L426.5 118.1L424 117.5L421.5 117.7L419.1 118.5L417.3 119.8L415.9 121.6L414.4 125.3L414 129.3L414.8 133.2L415.7 135.1L417.1 136.7L419 138L421.4 138.9L423.9 139.3L426.5 139.1L428.9 138.2L430.7 136.9L431.9 135.2L432.6 133.3M408.7 125.2L406.9 135L406.2 136.6L404.8 138.2L403.1 139L401.2 139.2L393.9 138.3L383.4 138.4L378.2 137.8L362.5 139.3M429 133.6L429.7 131.7L429.9 129.7L429.2 125.8L428.4 123.9L427.2 122.4L425.7 121.4L423.9 120.8L421.7 121L419.9 121.9L418.5 123.6L417.6 125.4L417.1 127.4L417.1 129.4L417.4 131.3L418.3 133.2L419.6 134.6L421.6 135.6L423.7 136L426.2 135.6L427.9 134.6M406 130.7L405.2 132.6L404 134.2L402.1 135.6L399.7 136.3L394.8 136.2L389.6 135.6L388.3 135L387.9 134.2L388.2 133.3L392.2 126.8L393.5 123L394.1 119L393.6 109.1L393.6 107.1L394.1 105.2L395.1 103.3L396.5 101.7L399.9 98.6M366.7 129.2L369.9 132.3L371.9 133.7L374 134.8L377.7 136L379.2 136.1L380.7 135.6L385 133.3L386.9 132M425.6 132.5L426.6 130.7L426.8 128.8L426.3 127L425.5 125.7L424.6 124.9L423.2 124.6L421.7 125L420.4 126.7L420 128.6L420.2 130.4L420.9 131.7L421.9 132.6L423.5 133M413.2 114.7L410 117.9L407.7 121.4L404.9 127L403.7 128.8L402.1 130.3L400 131.5L397.5 131.9L395.2 131.6L394 130.9L393.5 129.9L393.8 127.1M338.2 97.7L348.4 99.6L364.3 100.1L366.9 100.3L367.9 100.7L367.9 101.4L366.2 103.7L365.3 105.5L365.2 109.4M362.1 45.8L369.7 47.4L384.1 52.5L389.1 53.7L391.7 53.9L401.9 52.2L404.5 52.4M372.7 46.3L377.9 46.9L391 47.6L398.5 49.5M458.2 118L454.8 121.1L451 123.8L449.5 124.6L447.6 125.1L445 124.9L442.8 124L439.4 121.3M405.2 121.9L402.1 125.1L400.1 126.2L398.5 126.3L397.3 125.6L396.5 123.4L395.6 113.5M386.9 107.9L384.8 105L383.2 104L380.8 103.5L378.2 103.5L375.6 104.1L373.4 105L371.4 106.4L369.8 107.9L368.6 109.7L367.5 113.5L367.7 117.5L368.2 119.4L370.2 123.1L371.9 124.6L373.9 125.9L376.3 126.6L378.8 126.8L381.3 126.2L383.4 125.1L385.1 123.6L386.2 121.8L387.2 117.9L386.8 114L386 112.1L384.8 110.4L382.9 109L380.4 108.4L378 108.6L375.8 109.3L374 110.6L372.6 112.2L371.7 114.1L371.3 116.1L371.5 118L372.1 120L373.3 121.7L375 123.2L377.4 124M346.2 61.4L375.2 70.8M348.6 54.2L361.5 56.3L366.5 57.7L373.7 60.2M376.8 122.8L378.8 123L380.7 122.5L382.5 121.1L383.4 119.5L383.7 117.6L383.3 115.6L382 114L380.4 113.2L378.5 113.1L377.1 113.8L376 114.9L375.5 116.4L375.6 118.1L376.7 119.8L378.2 120.4L379.8 120.3L380.9 119.6L381.5 118.4L381.6 117M416.9 92.9L426.4 89.5L439.1 86.9L447 86.3L457.5 87.2L462.4 88.4L464.6 89.5L466.3 90.9L467.5 92.7L468 94.6L468.1 96.6L467.8 98.6L466.5 102.4M464.6 105.5L460.3 110.4L454.6 114.6L450.1 116.6L447.6 117.2L442.4 117.2M334.2 64.2L346.9 66.8L366.4 73.1M439.6 87.9L444.8 87.7L450.1 88.1L455.2 89.1L459.9 90.8L462 92.1L463.7 93.6L464.9 95.3L465.5 97.2L465.6 99.2M427.7 110L415.7 106L414 104.9L412.8 103.4L412.5 101.4L413.1 99.5L414.4 97.8L418.2 95.1L422.7 93L427.5 91.4L432.6 90.3L437.8 89.8L443.1 89.7L448.3 90.3L455.7 92.3L459.9 94.7L461.5 96.3L462.5 98.1L462.9 100L462.8 102L461.2 105.8L459.9 107.5L456.6 110.6L452.4 113L450.1 113.9L445 114.9L439.8 114.5L437.3 113.9L430.4 111M431.6 62L442.1 61.5L460.6 61.6M426.6 107.7L422.4 105.2L421 103.9L420.2 102.3L420.4 100.3L421.5 98.6L423.2 97.1L425.3 95.9L430 94.1L437.8 93L445.6 93.4L450.7 94.6L453 95.5L455.1 96.7L456.9 98.1L458 99.9L458.5 101.8L458.2 103.8L457.3 105.6L456 107.3L452.3 110.1L447.6 112L442.4 112.5L437.2 111.9M447.2 109.5L442.1 110.3L439.5 110.2L434.5 109L429.9 107L426.6 104.3L425.7 102.8L425.8 101L427 99.3L428.9 97.9L433.6 96.3L436.2 95.8L441.5 95.7L446.6 96.5L451.2 98.4L452.9 99.8L453.9 101.5L454.1 103.5L453.3 105.4L451.8 107L449.9 108.4L447.6 109.3M415.5 109.3L407.6 109.2L405.1 108.6L403 107.5L402.1 106.3L402 104.9L402.5 103.6L403.6 102.1L408.7 97.5M435.1 107.3L432.9 106.3L431.2 105L430.1 103.8L429.8 102.3L430.3 100.9L432 99.5L434.4 98.5L439.5 97.8L444.7 98.4L447 99.3L448.8 100.4L449.9 101.7L450.2 103.5L449.4 105.3L447.6 106.7L445.3 107.7M367.4 98.8L372.6 98.2L377.5 96.9L391.3 91.1L398 87.8M443.1 105.5L440.6 105.9L438.2 105.7L436.4 105L435.2 104.1L434.7 103.1L435 102L436.5 101L439 100.5L441.4 100.6L443.3 101.1L444.5 101.9L445.2 102.9L444.9 104.1L443.7 105.1M385.6 102.4L384.4 101.2L382.8 100.5L380.2 100.1L377.6 100.1L375.1 100.6L372.7 101.4L368.8 104.1L367.3 105.7L366.4 107.5M400.2 88L407 84.9L416.6 81.6L424 79.5L434.1 77.3" fill="none" stroke="#000" stroke-width="0.55" stroke-opacity="0.8"/>
<path d="M327.2 11L324.8 12L324.9 9.9ZM378.6 10.3L376.3 11.5L376.2 9.4ZM390.9 11.5L388.6 12.7L388.4 10.6ZM362.6 18.7L360.5 20.2L360.1 18.1ZM467 40.1L464.5 40.7L464.9 38.6ZM452 31L449.4 30.6L450.6 28.8ZM473 36.1L470.4 36.7L470.8 34.6ZM456.8 26.3L454.2 25.7L455.5 24ZM478.9 33.1L476.3 33.4L477 31.4ZM479.8 28.9L477.2 29L478 27ZM477.1 22.8L474.8 21.6L476.4 20.3ZM495.1 24.4L492.5 24.4L493.3 22.5ZM499.1 19.9L496.5 20.2L497.1 18.2ZM500.7 29.1L498.2 29.8L498.6 27.7ZM501.5 41L499.1 42L499.1 39.9ZM415.3 27.8L412.7 27.3L413.9 25.6ZM411.7 45L409.3 44.1L410.7 42.6ZM411.2 50.1L408.7 49.3L410.1 47.7ZM477.7 53.6L475.3 54.6L475.4 52.5ZM492.3 56.3L489.8 57.3L489.9 55.2ZM411.5 60.7L409.4 62.2L409 60.1ZM411.5 64.6L409.5 66.3L408.9 64.3ZM411.2 69.3L409.2 71L408.6 69.1ZM411.1 73.2L409.2 75L408.5 73ZM411.4 76.8L409.4 78.5L408.8 76.5ZM411.4 79.7L409.5 81.5L408.8 79.5ZM477.7 74.8L475.3 75.8L475.4 73.7ZM395.7 95.3L394.7 97.7L393.3 96.2ZM447.1 79.6L444.8 80.9L444.6 78.8ZM460.1 82.1L457.7 83.2L457.7 81.1ZM488.3 85.1L485.9 86.1L485.9 84ZM500.5 89.2L503 90.1L501.6 91.6ZM445.8 120L447.9 118.5L448.3 120.6ZM491.1 95.6L493.6 95L493.2 97.1ZM467 109.8L467.9 107.4L469.4 108.8ZM494.3 103.6L496.9 103.9L495.9 105.7ZM502.2 112.9L504.7 113.6L503.3 115.2ZM466 127.6L465.6 125L467.6 125.5ZM505.4 124.5L507.6 125.8L506 127.1ZM490.5 112.7L493 113.4L491.7 115ZM502.8 137.4L504.6 139.3L502.6 140ZM472.2 125.7L472.2 123.1L474.1 124ZM496.2 153.6L493.9 154.7L493.8 152.6ZM482.8 163L485.3 162.2L485 164.2ZM476.3 161.2L475.9 158.6L477.9 159.1ZM467.5 156.7L467.3 154.1L469.3 154.8ZM436.8 164L439.3 163.1L439.2 165.2ZM426.7 161.7L429.2 160.9L429.1 163ZM387.9 144.5L390 142.8L390.5 144.9ZM389.5 146.7L391.4 145L392.1 147ZM387.2 152.7L388.9 150.7L389.8 152.6ZM336.9 145L339.6 144.8L338.9 146.8ZM342.3 150L344.8 150.8L343.4 152.4ZM329.1 151.2L331.5 150.3L331.4 152.4ZM333.6 155.3L336 154.3L335.9 156.4ZM317.1 150.1L319.3 148.8L319.6 150.9ZM375.7 143.6L378 142.3L378.2 144.4ZM365.9 131.2L363.8 129.6L365.6 128.6ZM340.1 135L342.4 133.9L342.5 136ZM340.3 109.4L338 110.6L337.8 108.5ZM336.3 103.8L333.9 104.9L333.9 102.8ZM334.6 99.8L332.1 100.4L332.5 98.3ZM325.5 92.9L323 93.6L323.2 91.6ZM344.4 90L341.8 90.3L342.4 88.3ZM336.9 85.1L334.3 85.5L334.9 83.5ZM329.9 74L327.3 74.3L328 72.3ZM345.9 74.1L343.3 74.2L344 72.3ZM357.6 57.8L355.1 58.2L355.6 56.2ZM354.1 52.2L351.6 53L351.9 50.9ZM385.5 58.8L382.9 59.1L383.5 57.1ZM367 49L364.5 49.6L364.9 47.6ZM361.8 42.9L359.3 43.9L359.4 41.8ZM341.7 33L339.3 34L339.3 31.9ZM391.4 22.1L389.3 23.7L388.8 21.6ZM369.7 21.8L367.5 23.2L367.2 21.1ZM328.4 21L326 22L326 19.9ZM341.5 17.7L339.2 19L339 16.9ZM330.9 13.7L328.5 14.7L328.6 12.6ZM501.4 16.9L498.9 17.6L499.2 15.5ZM456.9 155.3L458.4 153.1L459.5 154.9ZM316.1 116.3L313.7 117.5L313.6 115.4ZM436.5 26.3L434.1 25.3L435.6 23.9ZM429.1 156.6L431.6 155.8L431.4 157.9ZM361.8 159.4L364.2 158.5L364.1 160.6ZM419.9 16.9L417.7 18.3L417.3 16.2ZM502.1 103.3L504.6 103.9L503.4 105.6ZM429.1 153.7L431.6 153L431.4 155.1ZM429.4 32.4L427.1 31.2L428.7 29.9ZM430.3 28.7L428.1 27.3L429.8 26.1ZM502.5 23.8L499.9 24.4L500.3 22.3ZM419.8 151.8L421.8 150.1L422.4 152.1ZM366.6 154.7L369 153.7L369 155.8ZM351.2 119.4L348.7 120.3L348.8 118.2ZM323 78.4L320.5 79.1L320.8 77ZM447.7 146.9L447.6 144.2L449.5 145ZM419.7 147.1L417.9 145.2L419.9 144.5ZM357.8 150.8L360.2 149.9L360.1 152ZM366.2 40.7L363.8 41.7L363.8 39.6ZM478.3 122.8L479.6 120.5L480.8 122.2ZM434.5 140.1L434 142.7L432.3 141.5ZM366.4 148.4L368.8 147.4L368.8 149.5ZM330.8 130.6L333.4 130.1L332.9 132.2ZM410.6 28.8L408 29L408.7 27ZM485.2 147.2L482.9 148.4L482.7 146.3ZM445.7 142.7L446.7 140.3L448.2 141.8ZM360.7 145.6L363.1 144.6L363.1 146.7ZM339.4 121.5L337.1 122.6L337 120.5ZM352.3 71.6L349.7 72L350.3 70ZM409.4 37.2L407 36.3L408.4 34.8ZM482.3 123.6L484.7 122.8L484.6 124.9ZM431.9 139.2L430.3 141.3L429.3 139.4ZM359.5 141.4L361.8 140.2L362 142.3ZM451.5 135.4L453.3 133.5L454.1 135.4ZM414 128.9L413.3 126.4L415.3 126.7ZM389.2 138.3L391.6 137.3L391.6 139.4ZM417.9 124.2L418.7 121.7L420.3 123.1ZM392.8 125L393 127.6L391 126.9ZM377.8 136L375.2 136.3L375.8 134.3ZM403.5 129.1L403.9 126.5L405.7 127.7ZM359.3 99.9L356.8 100.9L356.9 98.8ZM384.4 52.6L381.8 52.8L382.5 50.8ZM387.2 47.4L384.7 48.3L384.9 46.2ZM447.9 125L449.9 123.4L450.4 125.5ZM396.3 123L398.2 124.9L396.2 125.6ZM382.3 126L380.2 127.6L379.7 125.5ZM362.1 66.5L359.5 66.8L360.2 64.8ZM362.8 56.6L360.3 57.2L360.6 55.1ZM378.1 113.1L380.5 112.1L380.5 114.2ZM449.2 86.5L446.7 87.3L446.9 85.2ZM453.8 115.2L455.1 112.9L456.3 114.6ZM351.9 68.4L349.3 68.7L349.9 66.7ZM456.6 89.6L454 89.8L454.7 87.8ZM450.2 90.8L447.6 91.2L448.2 89.2ZM447.6 61.5L445.2 62.6L445.2 60.5ZM449.4 94.3L446.8 94.8L447.3 92.7ZM434.1 96.1L432.2 97.9L431.5 95.9ZM402 106.3L404.3 107.5L402.6 108.8ZM441.4 98L438.9 98.8L439.2 96.7ZM384.4 94L382.6 95.9L381.8 94ZM438 100.7L435.8 102.2L435.4 100.2ZM373.6 101.1L375.4 99.3L376.2 101.3ZM418.2 81.2L416.2 82.8L415.7 80.8Z" fill="#000" fill-opacity="0.85"/>
<path d="M308 107.6 L311.9 106.3 L313.2 110.2 L315.8 113.3 L319.1 116.6 L319.1 123.1 L322.2 123.6 L326.1 121 L327.9 125.7 L329.2 130.8 L330.3 137.3 L329.5 143 L332.6 146.8 L334.7 150.2 L335.9 155.4 L337.8 157.9 L342.4 160.5 L344.2 161M344.2 161 L342.9 156.7 L342.7 152.8 L339.8 148.4 L336.5 146.3 L334.4 142.5 L332.1 139.9 L333.4 134.7 L333.9 129.8 L336.5 130.1 L339.8 132.9 L341.6 136 L345.5 137.8 L346.8 141.9 L351.2 137.8 L356.6 135.2 L357.9 130.8 L357.2 125.7 L354.6 122.3 L350.7 118.4 L348.9 115.3 L351.2 111 L354.6 108.9 L358.5 108.9 L360.5 111.7 L361 109.7 L364.9 108.4 L368.8 106.8 L372.7 105.8 L377.9 103.7 L381.7 100.6 L384.8 97.3 L386.9 93.4 L390 89.5 L390.5 85.7 L388.2 82.3 L386.9 79.2 L383.8 74.8 L386.4 71.5 L392.1 68.9 L388.2 67.3 L383 68.1 L380.4 65.5 L379.9 63.5 L384.3 61.6 L388.2 59.1 L390.8 60.1 L388.7 63.7 L392.1 62.4 L396.8 61.1 L398.6 63.7 L398 66.3 L402.4 67.6 L401.9 72.8 L402.4 75.3 L406.3 74.6 L409.7 72.8 L409.9 68.9 L407.6 65 L405 62.4 L410.2 58.6 L411.5 54.7 L416.7 52.9 L420.6 53.9 L425.7 49.5 L432.2 43.1 L438.2 35.3 L438.7 30.2 L440.7 27.1 L437.4 25 L430.9 25 L425.7 22.4 L429.6 18.5 L437.4 14.7 L445.1 11.3 L452.9 11.3 L460.7 10.5 L468.4 12.1 L474.9 10.8 L480.1 17.2 L478 22.4 L478.8 30.2 L480.6 32.7 L485.2 27.6 L489.1 23.7 L494.3 19.8 L496.9 14.7 L498.2 9.5M412 83.9 L412.3 79.2 L414.1 76.6 L419.3 76.1 L424.4 75.1 L429.1 75.3 L433.5 74.8 L436.9 73.5 L439.4 71.5 L440 66.3 L442 62.4 L441 57.8 L437.9 58.6 L436.9 61.1 L436.1 65 L432.2 68.9 L429.1 69.4 L427 72.2 L419.3 72.8 L414.1 75.6 L411.5 78.4 L411 80.5 L412 83.9M417.2 76.9 L422.6 76.1 L421.9 78.2 L418.5 79.2 L417.2 76.9M437.4 57.3 L438.2 53.4 L441.3 52.6 L442 47.2 L445.1 50 L451.1 52.6 L447.7 53.6 L445.7 56 L441.3 54.7 L437.4 57.3M442.6 45.6 L443.1 40.5 L443.1 35.3 L442.6 30.2 L444.6 24.2 L446.4 30.2 L446.4 36.6 L445.1 43.1 L442.6 45.6M388.2 99.3 L390.5 100.4 L388 107.6 L385.9 105 L388.2 99.3M356.4 114.8 L361 112.8 L362.3 114.1 L359 117.2 L356.4 114.8M386.9 116.6 L391.3 116.9 L391.3 121.8 L389.5 125.7 L392.1 128.3 L396 130.8 L395.5 131.6 L392.1 129 L388.2 129 L386.4 126.4 L385.6 123.1 L386.9 116.6M386.9 129.8 L389.2 130.1 L389 132.6 L387.7 132.1 L386.9 129.8M396.8 132.1 L399.9 133.4 L400.1 136 L398.6 138.6 L397.3 136 L396.8 132.1M390.8 133.9 L393.6 134.7 L394.2 138.6 L392.1 140.4 L390.8 137.3 L390.8 133.9M394.7 136 L396 137.8 L394.4 139.9 L394.7 136M378.4 142.7 L381.7 139.1 L384.3 135.2M399.9 139.4 L402.4 145 L401.1 148.1 L399.6 148.9 L396 146.3 L390.8 146.3 L392.1 143.7 L394.7 142.5 L397.3 142.5 L399.9 139.4M357.2 160.5 L359.8 160 L362.9 157.9 L367.5 156.1 L370.1 152.8 L374 150.2 L377.1 146.3 L379.7 148.1 L383 151 L380.4 153.3 L379.7 157.9 L382.3 161.8 L379.7 164.4M357.2 160.5 L357.2 164.4M321.7 149.9 L327.4 151 L330 154.1 L333.9 157.9 L337.8 160 L341.6 163.1 L343.4 164.4M321.7 149.9 L324.8 154.8 L328.7 159.2 L330.8 161.8 L332.1 164.4M385.6 164.4 L386.1 161.8 L389.5 161.3 L394.7 162.1 L398.6 160.3M405 164.4 L405.8 159.8 L407.6 161.8 L408.1 164.4M315.2 129.5 L315.8 133.4 L314.7 134.7" fill="none" stroke="#000" stroke-width="0.75" stroke-opacity="0.9" stroke-dasharray="2.2 1"/>
<path d="M393.9 131.9 L396 132.9 L394.9 133.9 L393.4 133.2 L393.9 131.9M395.5 138.6 L397.5 138.3 L397.3 139.6 L395.7 139.6 L395.5 138.6M391.8 132.4 L392.6 132.9 L392.1 133.4 L391.6 132.9 L391.8 132.4M390.5 131.1 L391.3 131.9 L390.8 132.4 L390.3 131.9 L390.5 131.1M396.8 134.7 L398.3 135 L398.6 136.5 L398 138.1 L397 137 L396.8 134.7M392.4 136.8 L393.6 136.3 L393.9 137.8 L392.9 139.6 L392.1 138.6 L392.4 136.8M394.4 136.3 L395.7 137 L394.9 138.8 L394.4 137.8 L394.4 136.3M390.5 134.2 L392.6 134.7 L393.1 136.3 L391.1 137.3 L390.5 134.2M385.6 133.4 L386.4 133.9 L385.9 134.5 L385.4 133.9 L385.6 133.4M388.5 127.7 L389.8 127.5 L389.2 128.5 L388.5 127.7M390.8 129.5 L391.6 130.1 L390.8 130.3 L390.8 129.5M395.2 128.5 L397 129 L396 129.8 L395.2 128.5M399.1 137.8 L400.4 137.6 L400.1 138.8 L399.1 137.8M390.5 147.1 L391.6 147.4 L390.8 147.9 L390.5 147.1M385.1 151 L386.4 150.7 L385.6 151.5 L385.1 151" fill="#000" fill-opacity="0.25" stroke="#000" stroke-width="0.6" stroke-opacity="0.9"/>
<path d="M389 54C387.5 55.7 383.2 60.7 380 64C376.8 67.3 373.3 71 370 74C366.7 77 363.3 79.8 360 82C356.7 84.2 353.3 85.7 350 87C346.7 88.3 343 89.3 340 90C337 90.7 333.3 90.8 332 91" fill="none" stroke="#123a66" stroke-width="2.2" stroke-linecap="round"/>
<path d="M391 52.5C393 52.1 399 50.9 403 50C407 49.1 411 48.3 415 47C419 45.7 423.3 44.2 427 42C430.7 39.8 434 37.2 437 34C440 30.8 443.7 24.4 445 22.5" fill="none" stroke="#123a66" stroke-width="2.2" stroke-linecap="round"/>
<path d="M308 121.5C310.8 121.2 319.7 120.2 325 119.5C330.3 118.8 335.8 118.2 340 117.5C344.2 116.8 346.7 116.2 350 115C353.3 113.8 356.7 111.5 360 110C363.3 108.5 366.7 107 370 106C373.3 105 375 104.4 380 104C385 103.6 394.2 104.2 400 103.5C405.8 102.8 410.8 100.9 415 100C419.2 99.1 420.8 98.2 425 98C429.2 97.8 436 98.8 440 99C444 99.2 446.2 99.7 449 99C451.8 98.3 454.3 96.2 457 95C459.7 93.8 462 92.9 465 92C468 91.1 471.7 89.9 475 89.6C478.3 89.3 481.7 89.8 485 90C488.3 90.2 490 90.8 495 90.6C500 90.4 511.7 89.3 515 89" fill="none" stroke="#1f5c88" stroke-width="2" stroke-linecap="round" stroke-dasharray="0.01 3.7"/>
</g>
<text x="439.5" y="110" font-family="'Liberation Sans',sans-serif" font-size="16" text-anchor="middle" fill="#111" stroke="#111" stroke-width="0.35">H</text>
<circle cx="378.6" cy="117.5" r="3.2" fill="#ffe800"/>
<path d="M378.6 114.9L380.5 119.3L376.7 119.3Z" fill="#000"/>
<rect x="308" y="9.5" width="207" height="154.9" fill="none" stroke="#222" stroke-width="0.4"/>
<g font-family="'DejaVu Sans','Liberation Sans',sans-serif" font-size="6.25" fill="#222"><text x="305.7" y="11.8" text-anchor="end">60°N</text><text x="305.7" y="24.7" text-anchor="end">55°N</text><text x="305.7" y="37.6" text-anchor="end">50°N</text><text x="305.7" y="50.5" text-anchor="end">45°N</text><text x="305.7" y="63.4" text-anchor="end">40°N</text><text x="305.7" y="76.3" text-anchor="end">35°N</text><text x="305.7" y="89.2" text-anchor="end">30°N</text><text x="305.7" y="102.1" text-anchor="end">25°N</text><text x="305.7" y="115" text-anchor="end">20°N</text><text x="305.7" y="127.9" text-anchor="end">15°N</text><text x="305.7" y="140.8" text-anchor="end">10°N</text><text x="305.7" y="153.7" text-anchor="end">5°N</text><text x="305.7" y="166.7" text-anchor="end">0°</text><text x="308.3" y="172" text-anchor="middle">90°E</text><text x="334.2" y="172" text-anchor="middle">100°E</text><text x="360.1" y="172" text-anchor="middle">110°E</text><text x="385.9" y="172" text-anchor="middle">120°E</text><text x="411.8" y="172" text-anchor="middle">130°E</text><text x="437.7" y="172" text-anchor="middle">140°E</text><text x="463.6" y="172" text-anchor="middle">150°E</text><text x="489.4" y="172" text-anchor="middle">160°E</text><text x="515.3" y="172" text-anchor="middle">170°E</text></g>
<g><path d="M530.4 16.3L532.6 9.5L534.8 16.3Z" fill="#ff0000"/><rect x="530.4" y="16.3" width="4.4" height="11.1" fill="#ff1e00"/><rect x="530.4" y="27.2" width="4.4" height="11.1" fill="#ff8200"/><rect x="530.4" y="38.1" width="4.4" height="11.1" fill="#ffb400"/><rect x="530.4" y="49" width="4.4" height="11.1" fill="#ffff00"/><rect x="530.4" y="59.9" width="4.4" height="11.1" fill="#b4e600"/><rect x="530.4" y="70.8" width="4.4" height="11.1" fill="#00dc00"/><rect x="530.4" y="81.7" width="4.4" height="11.1" fill="#00a028"/><rect x="530.4" y="92.6" width="4.4" height="11.1" fill="#149494"/><rect x="530.4" y="103.5" width="4.4" height="11.1" fill="#6262ee"/><rect x="530.4" y="114.4" width="4.4" height="11.1" fill="#5a80f0"/><rect x="530.4" y="125.3" width="4.4" height="11.1" fill="#76a8f6"/><rect x="530.4" y="136.2" width="4.4" height="11.1" fill="#c6dcfb"/><rect x="530.4" y="147.1" width="4.4" height="11.1" fill="#ffffff"/><path d="M530.4 16.3L532.6 9.5L534.8 16.3L534.8 158L532.6 164.6L530.4 158Z" fill="none" stroke="#333" stroke-width="0.4"/></g>
<g font-family="'DejaVu Sans','Liberation Sans',sans-serif" font-size="4.5" fill="#333"><text x="537.4" y="17.9">980</text><path d="M534.8 16.3h1.3" stroke="#333" stroke-width="0.35"/><text x="537.4" y="28.8">970</text><path d="M534.8 27.2h1.3" stroke="#333" stroke-width="0.35"/><text x="537.4" y="39.7">960</text><path d="M534.8 38.1h1.3" stroke="#333" stroke-width="0.35"/><text x="537.4" y="50.6">950</text><path d="M534.8 49h1.3" stroke="#333" stroke-width="0.35"/><text x="537.4" y="61.5">940</text><path d="M534.8 59.9h1.3" stroke="#333" stroke-width="0.35"/><text x="537.4" y="72.4">930</text><path d="M534.8 70.8h1.3" stroke="#333" stroke-width="0.35"/><text x="537.4" y="83.3">920</text><path d="M534.8 81.7h1.3" stroke="#333" stroke-width="0.35"/><text x="537.4" y="94.2">910</text><path d="M534.8 92.6h1.3" stroke="#333" stroke-width="0.35"/><text x="537.4" y="105.1">900</text><path d="M534.8 103.5h1.3" stroke="#333" stroke-width="0.35"/><text x="537.4" y="116">890</text><path d="M534.8 114.4h1.3" stroke="#333" stroke-width="0.35"/><text x="537.4" y="126.9">880</text><path d="M534.8 125.3h1.3" stroke="#333" stroke-width="0.35"/><text x="537.4" y="137.8">870</text><path d="M534.8 136.2h1.3" stroke="#333" stroke-width="0.35"/><text x="537.4" y="148.7">860</text><path d="M534.8 147.1h1.3" stroke="#333" stroke-width="0.35"/><text x="537.4" y="159.6">850</text><path d="M534.8 158h1.3" stroke="#333" stroke-width="0.35"/></g>
<clipPath id="c2"><rect x="24.8" y="206" width="201.2" height="150"/></clipPath>
<g clip-path="url(#c2)">
<rect x="24.8" y="206" width="201.2" height="150" fill="#76a8f6"/>
<path d="M50 203C40.7 203.8 55.8 206.3 60 207.5C64.2 208.7 70 209.2 75 210C80 210.8 85.2 211.8 90 212C94.8 212.2 100.3 211.8 104 211C107.7 210.2 110 208.3 112 207C114 205.7 126.3 203.7 116 203C105.7 202.3 59.3 202.2 50 203Z" fill="#c6dcfb"/>
<path d="M21.8 217.6C22.3 217.6 22 217.4 25 217.6C28 217.8 34.2 218.6 40 219C45.8 219.4 53.3 219.8 60 220C66.7 220.2 75 219.7 80 220C85 220.3 86.7 221.2 90 221.6C93.3 222 96.7 222.7 100 222.4C103.3 222.1 106.7 220.9 110 220C113.3 219.1 116.7 217.8 120 217C123.3 216.2 126.7 215.8 130 215C133.3 214.2 137 213.5 140 212.5C143 211.5 145.8 210.4 148 209C150.2 207.6 139.5 204.8 153 204C166.5 203.2 216.3 204 229 204L229 359L21.8 359Z" fill="#5a80f0"/>
<path d="M168 203C168.3 204 169 206.8 170 209C171 211.2 172.2 212.8 174 216C175.8 219.2 178.5 225.2 181 228C183.5 230.8 186.3 231.8 189 233C191.7 234.2 193.2 234.4 197 235C200.8 235.6 206.5 236.2 212 236.5C217.5 236.8 227 236.9 230 237L230 203Z" fill="#76a8f6"/>
<path d="M181 203C181.2 204 181.5 206.8 182 209C182.5 211.2 182.8 213.2 184 216C185.2 218.8 186.8 223.5 189 226C191.2 228.5 193.7 229.8 197 231C200.3 232.2 203.5 232.6 209 233C214.5 233.4 226.5 233.4 230 233.5L230 203Z" fill="#c6dcfb"/>
<path d="M216 203C216.3 203.7 217 205.8 218 207C219 208.2 220 209 222 210C224 211 228.7 212.5 230 213L230 203Z" fill="#76a8f6"/>
<path d="M21.8 223C22.3 223 22 222.8 25 223C28 223.2 34.2 223.7 40 224C45.8 224.3 53.3 224.8 60 225C66.7 225.2 73.3 224.8 80 225C86.7 225.2 95 226 100 226C105 226 106.7 225.5 110 225C113.3 224.5 116.7 223.7 120 223C123.3 222.3 126.7 221.6 130 221C133.3 220.4 136.7 219.6 140 219.5C143.3 219.4 147.3 220.2 150 220.5C152.7 220.8 153.6 220.7 156 221.5C158.4 222.3 161.7 223.9 164.5 225.5C167.3 227.1 170.2 229.3 173 231C175.8 232.7 178.3 234.3 181 235.5C183.7 236.7 185 237.3 189 238C193 238.7 198.8 239.2 205 239.5C211.2 239.8 222 239.9 226 240C230 240.1 228.5 240 229 240L229 359L21.8 359Z" fill="#6262ee"/>
<path d="M21.8 230C22.3 230 18.6 230 25 230C31.4 230 50.8 230.2 60 230C69.2 229.8 73.3 229.2 80 229C86.7 228.8 93.3 229.2 100 229C106.7 228.8 115 228.3 120 228C125 227.7 126.7 227.2 130 227C133.3 226.8 136.7 226.5 140 226.5C143.3 226.5 147.3 226.8 150 227C152.7 227.2 153.6 227.3 156 228C158.4 228.7 161.7 229.8 164.5 231C167.3 232.2 170.2 234.2 173 235.5C175.8 236.8 178.3 238 181 239C183.7 240 185 240.8 189 241.5C193 242.2 198.8 242.7 205 243C211.2 243.3 222 243.2 226 243.2C230 243.2 228.5 243.2 229 243.2L229 359L21.8 359Z" fill="#149494"/>
<path d="M21.8 236C22.3 236 18.6 236.2 25 236C31.4 235.8 50.8 235.3 60 235C69.2 234.7 73.3 234.5 80 234.4C86.7 234.3 93.3 234.5 100 234.4C106.7 234.3 115 234.2 120 234C125 233.8 126.7 233.2 130 233C133.3 232.8 135.7 232.4 140 232.5C144.3 232.6 151.9 232.8 156 233.5C160.1 234.2 161.7 235.3 164.5 236.5C167.3 237.7 170.2 239.3 173 240.5C175.8 241.7 178.3 242.7 181 243.5C183.7 244.3 185 244.8 189 245.3C193 245.8 198.8 246.1 205 246.3C211.2 246.5 222 246.5 226 246.5C230 246.5 228.5 246.5 229 246.5L229 359L21.8 359Z" fill="#00a028"/>
<path d="M21.8 240C22.3 240 18.6 240.1 25 240C31.4 239.9 50.8 239.8 60 239.6C69.2 239.4 73.3 239.1 80 239C86.7 238.9 93.3 239.1 100 239C106.7 238.9 115 238.8 120 238.5C125 238.2 126.7 237.8 130 237.5C133.3 237.2 135.7 236.9 140 237C144.3 237.1 151.9 237.7 156 238.3C160.1 238.9 161.7 239.6 164.5 240.5C167.3 241.4 170.2 243 173 244C175.8 245 178.3 245.8 181 246.5C183.7 247.2 185 247.6 189 248C193 248.4 198.8 248.6 205 248.7C211.2 248.8 222 248.7 226 248.7C230 248.7 228.5 248.7 229 248.7L229 359L21.8 359Z" fill="#00dc00"/>
<path d="M21.8 249.6C22.3 249.6 22 249.5 25 249.6C28 249.7 35.8 249.9 40 250C44.2 250.1 46.7 250.2 50 250C53.3 249.8 56.7 249.2 60 249C63.3 248.8 66.7 248.7 70 249C73.3 249.3 76.7 250.2 80 251C83.3 251.8 86.7 252.9 90 253.6C93.3 254.3 96.7 254.7 100 255C103.3 255.3 106.7 255.8 110 255.5C113.3 255.2 116.7 254.1 120 253.5C123.3 252.9 126.7 252.3 130 252C133.3 251.7 135 251.6 140 251.5C145 251.4 155 251.4 160 251.5C165 251.6 165 251.8 170 252C175 252.2 180.7 252.4 190 252.5C199.3 252.6 219.5 252.5 226 252.5C232.5 252.5 228.5 252.5 229 252.5L229 359L21.8 359Z" fill="#b4e600"/>
<path d="M21.8 260C22.3 260 22 260 25 260C28 260 35.8 260.2 40 260C44.2 259.8 46.7 259.5 50 259C53.3 258.5 56.7 257.3 60 257C63.3 256.7 66.7 256.7 70 257C73.3 257.3 76.7 258.2 80 259C83.3 259.8 86.7 261.1 90 262C93.3 262.9 96.7 264.2 100 264.5C103.3 264.8 106.7 264.3 110 263.5C113.3 262.7 116.7 260.6 120 259.5C123.3 258.4 126.7 257.6 130 257C133.3 256.4 135 256.1 140 255.8C145 255.6 155 255.5 160 255.5C165 255.5 165 255.7 170 255.8C175 255.9 180.7 256 190 256C199.3 256 219.5 255.8 226 255.7C232.5 255.6 228.5 255.7 229 255.7L229 359L21.8 359Z" fill="#ffff00"/>
<path d="M21.8 271C22.3 271 22 271 25 271C28 271 35.8 271.2 40 271C44.2 270.8 46.7 270.5 50 270C53.3 269.5 56.7 268.3 60 268C63.3 267.7 66.7 267.7 70 268C73.3 268.3 76.7 269.3 80 270C83.3 270.7 86.7 271.5 90 272C93.3 272.5 96.7 273.2 100 273C103.3 272.8 106.7 272 110 271C113.3 270 116.7 268.2 120 267C123.3 265.8 126.7 264.8 130 264C133.3 263.2 135 262.8 140 262.3C145 261.9 155 261.5 160 261.3C165 261.1 165 261.1 170 261C175 260.9 180.7 261.1 190 261C199.3 260.9 219.5 260.6 226 260.5C232.5 260.4 228.5 260.5 229 260.5L229 359L21.8 359Z" fill="#ffb400"/>
<path d="M21.8 286C22.3 286 20.3 286 25 286C29.7 286 44.2 286.2 50 286C55.8 285.8 56.7 285.3 60 285C63.3 284.7 66.7 284.3 70 284C73.3 283.7 76.7 283.3 80 283C83.3 282.7 86.7 282.5 90 282C93.3 281.5 96.7 280.9 100 280C103.3 279.1 106.7 277.7 110 276.5C113.3 275.3 116.7 274 120 273C123.3 272 126.7 271.2 130 270.5C133.3 269.8 135 269.3 140 268.8C145 268.3 155 267.8 160 267.5C165 267.2 165 267.2 170 267C175 266.8 180.7 266.6 190 266.5C199.3 266.4 219.5 266.5 226 266.5C232.5 266.5 228.5 266.5 229 266.5L229 359L21.8 359Z" fill="#ff8200"/>
<path d="M113 291.5C112.3 290.3 116.3 288.1 118 287C119.7 285.9 120.7 286.1 123 285C125.3 283.9 128.5 281.8 131.8 280.5C135.1 279.2 139.1 278.1 142.7 277.3C146.3 276.5 148.1 276.1 153.6 275.6C159.1 275.1 168.2 274.6 175.5 274.5C182.8 274.4 190.8 274.6 197.3 274.8C203.8 275.1 208.9 275.6 214.7 276C220.5 276.4 229.1 270.8 232 277.5C234.9 284.2 233.2 308.9 232 316C230.8 323.1 226.7 318.8 225 320C223.3 321.2 223.2 322.8 222 323.5C220.8 324.2 219.2 324.6 218 324C216.8 323.4 215.9 322.2 214.7 320C213.5 317.8 212.8 313.5 211 311C209.2 308.5 206.7 306.4 204 305C201.3 303.6 198.2 303 194.6 302.5C191 302 186.6 301.4 182.7 302C178.8 302.6 173.9 304.2 171 306C168.1 307.8 166.5 310.2 165 313C163.5 315.8 162.4 319 162 322.5C161.6 326 161.5 330.8 162.6 334C163.7 337.2 168.4 339.1 168.6 341.5C168.8 343.9 165.4 345.2 164 348.6C162.6 352 168.3 359.8 160 362C151.7 364.2 121.2 363.8 114 362C106.8 360.2 115.7 354.4 116.5 351C117.3 347.6 118.4 344.7 119 341.5C119.6 338.3 119.2 334.8 120 332C120.8 329.2 121.8 327.3 123.6 325C125.4 322.7 129.1 320.8 130.7 318C132.3 315.2 133 311.2 133 308C133 304.8 132.5 301.3 130.7 299C128.9 296.7 125 295.2 122 294C119 292.8 113.7 292.7 113 291.5Z" fill="#ff1e00"/>
<path d="M66.9 317.9C66.9 318.1 66.7 318.4 66.4 318.6C66.1 318.8 65.7 319 65.2 319.1C64.7 319.3 64.1 319.3 63.5 319.3C62.9 319.3 62.2 319.3 61.6 319.2C61 319.1 60.3 318.9 59.8 318.7C59.2 318.5 58.7 318.2 58.2 317.9C57.8 317.6 57.5 317.3 57.3 317C57.1 316.7 57 316.4 57.1 316.1C57.1 315.9 57.3 315.6 57.6 315.4C57.9 315.2 58.3 315 58.8 314.9C59.3 314.7 59.9 314.7 60.5 314.7C61.1 314.7 61.8 314.7 62.4 314.8C63 314.9 63.7 315.1 64.2 315.3C64.8 315.5 65.3 315.8 65.8 316.1C66.2 316.4 66.5 316.7 66.7 317C66.9 317.3 67 317.6 66.9 317.9Z" fill="#ff1e00"/>
<path d="M107.6 324.4C107.8 324.9 107.8 325.4 107.7 325.9C107.5 326.4 107.2 326.9 106.8 327.4C106.4 327.9 105.9 328.4 105.3 328.8C104.7 329.2 103.9 329.5 103.2 329.8C102.5 330.1 101.7 330.2 100.9 330.3C100.2 330.4 99.5 330.4 98.9 330.3C98.2 330.2 97.7 329.9 97.2 329.7C96.8 329.4 96.5 329 96.4 328.6C96.2 328.1 96.2 327.6 96.3 327.1C96.5 326.6 96.8 326.1 97.2 325.6C97.6 325.1 98.1 324.6 98.7 324.2C99.3 323.8 100.1 323.5 100.8 323.2C101.5 322.9 102.3 322.8 103.1 322.7C103.8 322.6 104.5 322.6 105.1 322.7C105.8 322.8 106.3 323.1 106.8 323.3C107.2 323.6 107.5 324 107.6 324.4Z" fill="#ff1e00"/>
<path d="M94 331C94 331.3 93.9 331.5 93.8 331.8C93.6 332 93.4 332.2 93.1 332.4C92.9 332.6 92.5 332.8 92.1 332.8C91.8 332.9 91.4 333 91 333C90.6 333 90.2 332.9 89.9 332.8C89.5 332.8 89.1 332.6 88.9 332.4C88.6 332.2 88.4 332 88.2 331.8C88.1 331.5 88 331.3 88 331C88 330.7 88.1 330.5 88.2 330.2C88.4 330 88.6 329.8 88.9 329.6C89.1 329.4 89.5 329.2 89.9 329.2C90.2 329.1 90.6 329 91 329C91.4 329 91.8 329.1 92.1 329.2C92.5 329.2 92.9 329.4 93.1 329.6C93.4 329.8 93.6 330 93.8 330.2C93.9 330.5 94 330.7 94 331Z" fill="#ff1e00"/>
<path d="M40.2 206.5L42.7 206.6L43.9 207L50 210.9L52.1 211.9L56.8 213.2L90 216.6L95.1 216.8L102.8 216.2L110 214.2L116.5 211.1L122.7 206.5M55.8 206.5L57.4 208L59.5 209L64.4 210.2L84.6 213.2L92.3 213.8L100 213.4L104.9 212.3L109.4 210.5L111.3 209.2L113.8 206.5M61 206.5L65.9 207.7L73.5 208.9L86.1 210.7L91.3 211.1L96.4 211L101.5 210.3L106.2 208.9L108.3 207.8M74.1 206.5L86.8 208.2L91.9 208.5L99.6 208.1L105.5 206.5M115.2 212.8L119.8 211.2L134.6 208L139.4 206.5M24.5 218.9L31.1 216.5L33.6 216.5L54.1 217.9L79.9 218.2L95.2 219.9L102.9 219.6L107.8 218.5L119.8 215.1L132.2 212.4L139.4 210.5L141.7 209.5L143.5 208.2L144.6 206.5M29.3 220L44.7 220.7L54.9 221.5L78.1 221.6L83.3 221.8L93.4 223L103.7 222.8L108.7 221.8L123.4 218.2L143.2 214L145.4 213.1L147.3 211.8L148.6 210.2L149.4 208.4L149.8 206.5M138.8 216.3L146.3 215.1L153.3 212.8L156 211.1L156.9 210.1L157.5 208.3L157.6 206.5M160.2 206.5L160.9 210.3L161.7 212.1L164.1 215.4L176 227.8L179.5 230.7L183.5 233.1L190.4 235.6L197.9 236.9L213.2 238.2L225.5 238.3M168.1 206.5L170.2 212L177.1 224.3L181.3 229.1L185.1 231.7L187.2 232.8M170.7 206.5L172.1 210.2L178.9 222.6L181.3 225.9L184.4 228.9L188.3 231.4L192.9 233.2L197.8 234.4L205.4 235.4M175.9 206.5L179 215.8L182.6 222.9L185.1 226.2L186.7 227.7L190.5 230.3M181.1 206.5L181.9 212.2L184.6 219.6L187.8 224.8L190.9 227.8M186.3 206.5L187.3 212.2L188.6 215.9L190.3 219.5L192.7 222.8L196.3 225.6L200.8 227.3L205.8 228.3L210.9 228.6L225.5 228.7M189 206.5L190 212.2L192.2 217.7L194.5 221.1L196.1 222.5L198.1 223.7L202.8 225.3L207.8 226L225.5 226.2M194.2 206.5L194.8 210.3L196 214L198 217.5L199.7 218.9L201.9 219.9L204.3 220.5L212 221.1L214.5 221.1L216 220.9L216.3 220.6L212.9 218.2L209.9 215.1L208 211.6L206.8 206.5M196.8 206.5L198.1 212.1L200 215.7L201.6 217.1L203.9 218L206.4 218.4L207 218.2L207.1 217.7L206.1 215.3L205.8 213.4L205.5 206.5M225.5 219.5L220.7 218.6L218.5 217.7L214.6 215.2L211.9 212L210.9 210.2L209.8 206.5M193.2 227.5L197.5 229.5L204.9 231.2L212.6 231.6L225.5 231.8M24.5 227.4L54 228.1L66.9 228L79.7 227.5L102.9 227.9L108 227.6L130.9 224.7L138.6 224.3L148.9 224.5L153.9 225.2L158.7 226.6L163.2 228.5L177.8 236.3L182.3 238.1L187.1 239.6L194.6 240.8L204.9 241.6L225.5 241.9M24.5 232.7L65.2 232.2L80.6 231.4L106.4 231.4L121.8 230.6L132 229.7L150.1 229.8L155.1 230.4L159.9 231.8L177.5 239.7L182.2 241.4L187 242.7L192.1 243.5L202.3 244.2L225.5 244.4M24.5 236.9L38.5 236.9L48.8 236.4L69.4 236L79.7 235.4L115.8 235.2L136.3 233.8L149.2 234.1L154.3 234.6L159.2 235.7L177.3 243L182 244.5L187 245.6L202.3 246.8L225.5 246.9M24.5 240.8L55.8 240.6L68.7 239.8L79 239.6L115.1 239.5L133 237.9L143.3 237.8L153.5 238.7L158.5 239.7L163.2 241.1L174.6 245.5L181.9 247.5L186.9 248.3L202.3 249.4L225.5 249.4M24.5 248.1L47.1 248.1L59.9 247.2L70.2 247.3L77.7 248.6L95 252.4L107.8 253.6L112.8 253L127.9 250.3L145.8 249.1L156.1 249.1L197.2 251.8L225.5 252M24.5 254.7L42.5 254.6L50.2 254.1L60.4 252.9L68.1 252.9L75.7 253.9L95.3 258.6L100.4 259.3L105.5 259.4L110.6 258.9L120.3 256.3L127.7 254.8L143.1 253.4L156 253.4L197.2 254.4L225.5 254.5M24.5 261L41.4 260.9L46.5 260.4L59.1 258.2L69.4 258.1L74.4 258.8L79.3 259.9L96.2 264.7L101.2 265.3L108.9 264.5L125.3 259.1L132.8 257.6L137.9 257.1L158.5 256.7L225.5 257M24.5 268.4L41.2 268.3L46.3 267.8L58.8 265.7L66.6 265.4L74.2 266.1L91.6 269.7L99.2 270.4L104.3 269.9L109.2 268.7L120.8 264.5L128 262.4L135.4 260.9L140.5 260.3L161.1 259.6L225.5 259.5M24.5 272.7L43.9 272.4L59 270L66.7 269.7L71.8 270.1L91.8 274L96.9 274.4L99.4 274.3L106.9 272.9L120.9 268L128.1 265.9L133 264.7L140.6 263.6L163.7 262.3L225.5 262.1M24.5 283.5L51.3 283.5L92.1 279.2L97.1 278.4L104.4 276.6L120.9 271.1L128.1 269.1L135.5 267.5L143.2 266.7L166.3 265.2L184.3 265.2L197.2 264.6L225.5 264.6M24.5 287.2L51.6 287.1L89.9 283.2L99.8 281.1L120.9 274.1L128.2 272.1L135.6 270.5L145.8 269.2L163.7 268L184.3 267.9L194.6 267.2L225.5 267.1M161.2 270.5L194.6 269.7L212.6 270L225.5 269.6M122.6 355.5L121.4 354.1L120.7 352.3L120.5 350.4L120.5 337L121.1 331.3L122.3 327.6L123.2 325.8L128.5 319.3L130.5 315.8L131.6 312L131.8 308.2L131.1 304.5L130.3 302.6L129.2 300.9L127.7 299.4L123.7 297L116.7 294.6L114.9 293.5L113.6 292L113.1 290.2L113.6 288.3L114.8 286.7L116.5 285.3L127.1 279.8L133.8 277L141 275L148.5 273.6L161.3 272.4L179.3 271.8L187 272.2L202.5 272.4L212.7 273.3L225.5 272.2M151.2 275.6L158.8 274.7L179.4 273.8L187.1 274.3L202.5 274.8L212.7 275.8L217.9 275.6L225.5 274.7M187.1 276.1L202.5 276.8L212.7 278L217.8 278L225.5 277.2M225.5 284.8L224.8 286.2L223.5 287.4L219.3 289.7L212.3 292L204.8 293.4L197.1 294L158.5 295.3L150.8 295L143.2 293.9L138.3 292.7L136.1 291.8L134 290.7L132.3 289.3L132.1 288.3L133.6 286.2L135.3 284.9L141.8 281.7L148.9 279.6L159 277.9L179.5 276.9L184.7 277.3M225.5 297.4L210.1 297.8L197.4 296.3M225.5 307.5L220.4 307.3L217.9 306.7L207.5 301.2L200.5 298.8M225.5 317.6L220.7 318.8L219.2 318.5L217 316.4L213.7 311.3L211.1 308L209.4 306.5L205.6 304L201.2 302.1L196.3 300.8L191.3 300L183.6 299.7L178.5 300.4L173.7 301.6L169.3 303.6L167.3 304.9L164.1 307.8L161.5 311.1L159.5 314.6L157.9 318.2L154.7 327.5L153.5 329.2L151.8 330.6L147.4 332.5L139.9 333.8L132.2 334.2L129.6 334L128 333.5L126.9 332.4L126.6 331.2L126.6 329.7L128 326.1L132.5 319.2L133.9 315.5L134.6 309.8L134 304.2L132.5 300.5L129.8 297.3L125.9 294.8L119.4 291.7L118.4 290.6L118.4 289.3L119.1 288.2L120.5 287.1L133.2 280.6L142.6 277.5L150.1 276.1M225.5 320.1L220.8 321.7L219.1 321.6L217.6 320.9L215.1 318.1L210.9 311.2L209.5 309.6L206 306.7M225.5 322.7L220.8 324.2L218.8 324.1L216.9 323.4L215.4 322.3L214 320.7L209.6 313.7L206.9 310.5L203.1 307.9L201 306.8L196.4 305.2L191.4 304.1L183.8 303.7L181.2 303.9L176.3 305L171.8 306.9L168.3 309.6L165.7 312.9L163.9 316.5L162.7 320.2L161.9 325.9L162.1 331.6L163.2 335.3L165.6 340.8L165.6 342.7L162.1 349.8L159.9 355.5M225.5 327.7L220.4 328.2L218 327.7L215.7 326.8L213.8 325.6L207.3 319.7L196.9 311.2L193 308.7L190.8 307.8L185.9 306.7L183.3 306.5L178.2 307.1L173.6 308.7L171.6 310L168.6 313L166.4 316.5L165.1 320.2L164.5 323.9L164.5 329.7L165.4 333.4L168.1 338.8L168.7 340.6L168.7 342.5L168.1 344.4L165.2 349.7L163.6 355.5M225.5 335.3L220.6 334.1L218.4 333.2L202.6 323.3L199.4 320.4L195.4 315.5L192.3 312.5L188.3 310L186 309.2M225.5 340.3L220.5 339.4L218.3 338.4L216.3 337.2L209.2 331.7L201 327.2L199.2 325.8L197.9 324.1L194.7 318.9L192.2 315.6L188.9 312.7L184.5 310.7L182 310.3L179.5 310.3L177 310.7L174.7 311.6L172.7 312.8L171.1 314.3L168.8 317.7L167.6 321.4L167.2 325.2L167.6 329L168.8 332.7L171.7 338L172.3 339.9L172.3 341.8L171.8 343.6L170.9 345.4L167.4 350.5L165.7 355.5M225.5 345.4L220.4 344.8L218 344.1L213.8 341.9L206.9 336.3L204.8 335.2L202.3 334.7L199.8 334.7L195 335.9L193.9 336.6L190.7 340.6L188.7 341.9L177.1 345.9L172.8 347.9L169.4 350.7L168.3 352.4L167 355.5M225.5 347.9L220.4 347.5L215.5 346.3L213.3 345.3L205.5 340.4L203.6 340L201.7 340.4L196.3 343.8L189.8 346.8L185 348.1L175 350L172.6 350.6L170.6 351.8M225.5 350.4L217.8 349.8L212.9 348.7L205.9 346.4L203.3 346.4L189.1 350.4L174.1 353M225.5 353L217.8 352.6L207.7 351.1L202.6 351L175 355.5M225.5 355.5L204.9 354.5L197.2 354.9L191.9 355.5M158.2 350.9L156.7 352L154.4 352.7L134.1 355.5M118.5 355.5L119.5 346L119.8 336.4M113.3 355.5L115.1 348L115.4 342.3L114.7 336.6L114.1 334.7L112.9 333.1L111.6 332.6L110.1 332.6L103.3 333.7L98.2 333.5L91.1 334.2L89.2 333.6L87.9 332.5L87.1 331L86.7 329.2L86.9 327.3L87.6 325.4L88.8 323.8L101 317.2L102.6 315.7L104.6 312.2L105.2 308.5L104.6 304.7L102.6 301.2L101 299.7L99 298.6L96.6 298L94.1 298.1L92 298.8L90.2 300L88.8 301.6L87.9 303.4L87.4 305.3L87.4 307.2L87.7 309.1L88.6 310.9L90 312.4L92 313.5L94.4 313.8L96.3 313.4L97.9 312.4L99.2 311L100.1 309.2L100.3 307.3L100 305.5L99 303.7L97.1 302.5L95.4 302.1L93.7 302.5L92.5 303.3L91.6 304.6L91.2 306.3L91.6 308.1L92.8 309.3L94.2 309.8L95.6 309.5L96.6 308.8L97.2 307.6L97.1 306.2L96.2 304.9L95 304.6L93.9 305M110.6 355.5L110.7 349.8L109.8 348.1L107.9 347L101.1 345L96.5 343.2L87.8 339.1L81.8 335.6L77.3 333.7L72.6 332.2L67.6 331.3L62.5 330.8L57.3 330.8L52.2 331.3L47.2 332.3L42.5 333.7L37.9 335.6L24.5 342.9M108 355.5L106.6 354L104.5 353.4L94.7 351.6L89.9 350.2L83.3 347.2L75.6 342.2L71.4 340L66.7 338.4L61.7 337.6L56.5 337.8L54 338.2L49.3 339.7L45 341.8L35.2 348L30.8 350L24.5 351.9M105.4 355.5L92.8 353.6L85.5 351.7L78.8 349L68.6 343.1L63.9 341.6L61.4 341.2L58.8 341.2L53.9 342.1L49.5 344.1L41.4 348.8L37 350.8L32.3 352.4L24.5 354.2M89.8 355.5L79.9 353.4L65.6 348.9L60.6 348.1L55.6 348.6L41.3 353.1L30.3 355.5M79.3 355.5L66.8 353.2L59.1 352.7L51.5 353.5L40.7 355.5M72 355.5L60.8 354.4L55.6 354.6L48 355.5M109.2 353.3L108.7 352.2L107.7 351.2L105.5 350.3L95.7 347.9L91.2 346L79.2 338.8L74.9 336.8L67.7 334.7L62.7 334L55 334.2L50 335.2L45.3 336.7L40.9 338.7L28.9 346L24.5 347.9M112.3 350.4L112.4 348.5L112.1 346.7L111.6 345.4L110.6 344.2L108.5 343.1L96.9 339L89.6 337.3L87.4 336.4L82.1 332.2L80 331.1L75.3 329.7L70.3 328.7L65.2 328.2L57.5 328L52.3 328.4L47.3 329.2L37.6 331.8L30.9 334.6L24.5 337.8M84.9 331.4L82.9 328.6L81.3 327.7L76.5 326.5L68.9 325.5L53.4 325.2L45.8 326.1L38.4 327.8L31.3 330.1L24.5 332.8M86.8 323.8L86.2 323.2L84.6 323.1L74.4 322.5L71.8 322.4L64.2 323.4L61.7 323.4L54.1 322.2L49 322.1L36.5 324.3L24.5 327.7M56 320.5L52 318.7L49.5 318.3L46.9 318.5L36.8 319.9L24.5 322.7M53.1 315.6L51.6 314.6L49.8 314.3L47.2 314.3L37 315.4L24.5 317.6M120.7 324.7L126.3 318.3L128.5 314.9L129.1 313L129.4 309.2L128.7 305.4L127.8 303.7L126.4 302.1L124.5 300.8L122.3 299.9L119.8 299.5L113.2 299.6L111.4 298.8L104.9 292.9L100.7 290.7L98.3 290.1L95.8 289.8L93.2 289.9L90.8 290.4L88.5 291.3L84.7 293.9L83.1 295.4L80.6 298.7L75.7 307.4L74 308.9L68.8 311.1L68.2 312.1L67.9 315.9L67.2 317.6L65.9 319L64.1 319.9L61.9 320.1L59.6 319.7L57.6 318.5L56.4 316.9L55.7 315.1L55.3 311L54.5 310.3L52.6 309.9L47.4 310L39.7 310.6L24.5 312.6M79.6 295.6L74.4 302.2L72.8 303.6L70.6 304.5L65.6 305.2L52.7 305.3L42.4 305.8L24.5 307.5M24.5 291.7L51 291.7L68.9 290L76.4 289.7L78.7 290.1L79.2 290.9L78.5 292.3L74.4 297.2L72.7 298.6L70.6 299.7L68.2 300.3L45 301L24.5 302.5M59.3 293L69.3 292L71.5 292.5L71.6 293.3L70.4 294.3L68.1 295.2L65.6 295.5L50.1 295.6L24.5 297.4M24.5 289.8L50.3 289.8L55.4 289.5M24.5 279.7L50.3 279.6L75.8 277.3L93.8 277.1M24.5 277.2L42.5 277.1L62.8 274.5L70.5 274.7L78.1 275.7M24.5 274.7L42.5 274.6L57.7 272.2L62.8 271.8L67.9 271.8L73 272.3M24.5 264.6L42.5 264.5L60.2 261.9L67.9 261.7L75.5 262.7L92.6 267L97.6 267.9L102.7 267.9L107.8 267.1M24.5 257L40 257L50.2 255.9M24.5 252L47.7 251.9L55.4 251.3M24.5 249.4L50.3 249.4L63.1 248.4L68.2 248.5L73.3 249M24.5 244.4L50.3 244.3L68.3 243.5L88.9 244.1L114.6 244.1L135.1 242.3L142.8 242.2L155.6 243.5L172.7 247.7M24.5 234.3L37.4 234.3L47.7 233.7L65.7 233.6L73.4 233.2M24.5 224.2L45.1 225L52.7 225.6L65.6 225.7M203 278.7L212.9 280.6L220.5 281.6L222.9 282.3L224.7 283.5L225.5 284.8M225.5 343.2L220.4 342.4L216 340.4L207.2 333.5L205.1 332.4L200.5 330.7L198.5 329.6L197.1 328M154.5 350.5L141.8 352.4L131.6 353.5L126.5 353.5L124 353.2L122.6 352.6M24.5 218.1L27.1 216.6L32.4 212.5L34.7 211.8L47.2 212.3M161.1 318.5L160 324.2L159.7 329.9L160.1 333.7L162 341L161.6 342.9L160.3 344.5L158.8 345.9L156.8 347.1L151.9 348.2L141.8 349.7L131.6 350.7L126.4 350.6L124.4 350.2L123.3 349.4L122.6 348.4M79 351.3L65.8 345.4L60.9 344.3L58.4 344.3L55.9 344.8L53.5 345.6L47.1 348.7M32.3 214.1L45.1 214.5L55.4 215.4L76 216M154.4 345.2L139.3 347.5L131.6 348.1L126.5 347.9M183.9 206.5L184.6 211L186.3 216.6L189.1 221.9L191.8 225.2M210 281.3L213.8 282.9L214.7 283.7L215.1 284.8L214.5 286.1L213.3 287.2L209.2 289.4L204.4 290.9L196.9 292.2L178.9 293.2L160.9 293.4L153.3 292.6L148.3 291.6L143.5 290.1L139.4 287.9L138.5 286.8L138.6 285.7L140.4 283.8M209.7 340.2L206.1 337.6L204.3 336.9L202.3 336.7L200.3 337.2L198.2 338.3L190.9 343.7L188.7 344.7L183.9 346M144.6 345.4L131.8 346.6L126.7 346.4L125.2 345.8L124.1 344.8L123 341.7L122.5 338M116.6 222.1L126.5 220L136.6 218.3L144.3 217.9L149.4 218.2L156.8 219.7L161.4 221.4L167.6 224.8L175.4 229.9M225.5 315.6L222.3 316.3L220.6 316.3L219.2 315.6L212.4 307.5L210.8 306L207 303.5M212.4 327.7L202.8 321.4L193.6 312.2M169.8 328.4L171.6 332L174.5 335.2L178.1 337.8L182.9 340.2L183.4 340.8L183 341.6L179 343.9M158.8 325.8L158.5 331.5L158.8 337.2L158.7 338.6L158.1 339.9L157 340.9L154.7 341.8L149.8 342.9L142.2 344M113.6 344.8L113.3 342.9L112.5 341.1L111 339.6L108.9 338.6L99.1 336.2L94 336.2M68.4 306.3L50.4 306.7L37.6 307.5M126.4 222.1L136.5 220.6L141.7 220.4L149.3 220.9L154.4 221.8L159.1 223.3L163.4 225.3L179.7 234.6M199.4 221.7L204.2 223L209.3 223.6L225.5 223.7M156.2 338L154.6 339L149.8 340.3L139.7 341.8L129.4 342.3L127 341.8L125.6 341.1M53.2 224.2L79 224.1L89.2 224.8M204.9 281.7L206.3 282.6L207.1 283.6L207.2 284.8L206.4 286.1L205.1 287.1L203 288.2L198.2 289.7L190.7 291M183.7 337.8L186.2 337.5L190.9 335.9L192.6 334.7L193.6 332.3L193.7 326.6L192.3 321L190.3 317.5L187.2 314.5M156 332.8L155.3 334.2L154.1 335.5L152 336.6L149.7 337.3L139.6 338.9L129.3 339.2L127 338.6L125.8 337.7L125.1 336.5L124.4 333.1L125 329.3M68.5 301.6L42.8 302.5M68.5 296.5L63.4 296.9L42.8 297.4M126.3 226.7L134 226.2L144.3 226.1L149.5 226.3L154.5 227M174.8 333.4L176.7 334.6L178.9 335.6L181.4 336L183.9 335.9L186.3 335.3L188.5 334.3L190.3 332.9L191.6 331.3L192.4 329.5L192.7 325.7L191.9 321.9M182.3 278.6L195 280.1L199.9 281.3L202 282.3L203.2 283.5L203.3 284.7L202.6 285.8M184 314.9L181.6 314.2L179.1 314.2L176.7 314.9L174.7 316.1L173.2 317.6L172.2 319.3L171.6 321.2L171.6 325L172.2 326.8L173.2 328.6L174.6 330.2L176.4 331.5L178.6 332.4L181.1 332.8L183.6 332.5L185.9 331.6L187.7 330.3L189.1 328.7L189.9 326.9L190.3 325L189.8 321.3L187.8 317.7M48 241.9L58.3 241.8L68.5 241L117.5 240.7M123.7 231.8L128.8 231.2L139.1 230.9L149.4 231.1L154.5 231.6M199.5 283.6L199.4 284.8L198.4 286L196.9 286.9L192.2 288.4L187.2 289.3L179.5 290L171.8 290.1L164.1 289.5L159.2 288.5L154.6 286.8L152.9 285.4L152.5 284.3L153 283.2L154.1 282.4L158.1 280.8L163.1 279.9L178.5 278.9M152.9 326.1L151.3 327.5L147 329.6L142.1 330.7L134.4 331.3L129.8 330.9L128.8 330.2L128.3 329.2L128.9 326.5M127.6 309.2L127.1 307.3L126.2 305.6L125 304.3L123.4 303.5L121.3 303.2L118.9 303.7L116.9 304.9L115.3 306.4L112.9 309.7L112 312.6L114 320.1L114 322L113.3 323.8L111.2 327.3L108 330.2L105.9 331.3M102.8 330.2L100.3 330.3L98.1 329.6L96.9 328.6L96.5 327.2L96.8 325.9L97.7 324.2L99.4 322.8L101.6 321.8L104.1 321.5L106.1 321.8L107.7 322.8L108.4 324.1L108.5 325.6L107.9 327.3L106.5 328.9M96.1 330.6L94.2 330.1L92.4 330.2L91.9 329.8L93.5 328.3L96.2 323.8L97.8 322.3L99.8 321.1L102.1 320.2L107 319.4L109 319.7L110.2 320.6L110.8 321.7L111.1 323.3L110.9 325.2M186 325.8L186.6 324L186.6 322.1L186 320.2L184.8 318.7L183.3 317.5L181.4 316.9L179.2 316.9L177 317.8L175.5 319.3L174.7 321.1L174.5 323L175 324.9L176 326.5L177.5 327.6L179.3 328.4L181.4 328.5L183.7 327.7M152.6 323.2L149.2 326L147 327L142.1 328.2L137 328.8L131.9 328.5L130.8 327.9L130.4 327L131.1 324.6M76.7 236.8L115.4 236.6L128.2 235.6M194.2 297.4L186.5 296.9L181.3 297L173.7 298L168.8 299.2L162.1 301.9L148.3 310.5L143.7 312.2L141.6 312.5L140.4 312.1L139.1 310.3L137.6 304.8L136.2 301.1L134.1 297.7L131 294.7L125 291.1L124 290L124.1 289.1L124.8 288.3L130.1 284.9L134.3 282.7L141.2 280.2M158.5 312.1L153.8 318.9L150.9 322L149 323.3L144.6 325.2L142.1 325.8L137 326.3L134.5 326.1L133.4 325.6L132.9 324.6L132.9 323.7L134 320.3M189.3 281.5L191.6 282.3L193.1 283.3L193.3 284.3L192.7 285.3L191.6 286L189.7 286.8L184.8 287.9L174.6 288.6L166.9 288L162 286.9L159.8 285.9L158.6 284.7L158.6 283.7L159.3 282.9L162.4 281.5M152.3 317.4L148.8 320.1L144.4 322.1L139.4 323L136.9 322.8L135.9 322.2L135.5 320.1L136.2 312.6L136.1 306.9M116.8 335.5L116.8 327.9L117.4 324.3L118.5 322.7L123.8 318.6M105 318.7L108.2 317.1L109.4 315.5L110.6 312L110.1 308.9L108 303.4L105.8 299.9L102.7 296.9L100.7 295.8L98.3 295L95.8 294.7L93.3 294.9L91 295.7L89 296.9L86 299.9L84.3 303.5L83.7 307.3L83.8 309.2L84.6 313L86.3 316.6L88.9 319.3L90.5 320L92.4 320.1M83 304.3L82.4 308.1L83 315.7L82.6 318.4L81.6 319.4L79.3 320.1L71.7 320.6L69.3 321.3M85.8 245.8L98.5 247.1L108.8 247.4L129.2 245.2L142 244.4L149.7 244.6M167.5 285.9L165.2 284.7L165 283.9L165.9 283L170.6 281.8L175.7 281.4L180.9 281.6L185.1 282.6L186.2 283.2L186.7 283.9L186.3 284.8L184.8 285.7M166.5 301.7L160.8 305.6L152.6 312.9L148.9 315.6L144.6 317.6L142.1 318.2L139.6 318.3L138.6 317.8M86 312.9L87.1 314.6L88.6 316.1L90.2 317.2L92.5 317.8L95 317.6L97.3 316.8L99.3 315.6L100.9 314.1L102 312.5L103.1 308.7L103.1 306.8L102.7 305M126.4 247.2L146.9 245.9L154.6 246L162.2 246.9M124.5 307.7L123.5 306.9L122.1 306.4L120.5 306.6L119 307.6L117.9 309.3L117.5 311.2L117.8 313.1L118.5 314.6L119.4 315.5L120.6 316.1L122 316.1L123.7 315.1L124.9 313.5L125.5 311.7M83.6 297.6L81.5 301L78.3 310.3L77.5 311.8L75.9 313.2L71.5 315.1M87.4 248.4L97.4 250.2L107.7 251L112.7 250.5L122.7 248.6M74.2 251.5L91.4 255.5L96.4 256.3L104.1 257L109.2 257.1L121.6 254.5M126.4 252.3L146.9 250.8L154.6 250.8L164.9 251.5L177.7 251.7M63.8 288.1L91.9 285.6L96.9 284.5L106.3 281.5M162.2 300.2L157.8 302.1L147.2 307.5L144.8 308.3L142.4 308.7L141.1 308.4M71.7 256.1L79.2 257.6L93.6 261.7L98.5 262.8L103.6 263L111.1 261.7M156.7 299.4L147.1 301.9L144.6 302.5L142.1 302.6L140.6 302.1L139.5 301.3L134.2 295.4M167.8 296.4L150.1 298.8L142.4 299.3M149.8 297.4L142.1 297.2L139.6 296.7L137.5 295.8L129.8 290.8L128.9 289.7L128.9 288.8M120.9 298L116 296.9L113.7 296.1L111.8 294.8L110.4 293.2L109.5 291.4L108.9 287.7L109.4 285.8L110.7 284.2L112.3 283L116.6 280.9L130.4 275.7L137.7 273.8L147.7 272.2M108.3 293L105.4 289.8L101.6 287.3L101.2 286.5L101.7 285.7L104.5 284.2L113.6 280.5M156.9 291L149.7 289.1L147.5 288.1L144.9 286L144.6 284.8L145.2 283.6L148.2 281.8L150.5 281" fill="none" stroke="#000" stroke-width="0.55" stroke-opacity="0.8"/>
<path d="M83.3 215.9L80.8 216.7L81 214.6ZM86.8 213.4L84.3 214.3L84.4 212.2ZM86.3 210.7L83.7 211.4L84 209.3ZM91.4 208.5L88.9 209.4L89 207.3ZM128.7 209.3L126.6 210.8L126.1 208.7ZM87.2 219L84.7 219.8L84.9 217.7ZM93.5 223L91 223.8L91.2 221.7ZM151.5 213.4L149.6 215.1L148.9 213.1ZM187.9 234.7L185.3 234.9L186 232.9ZM176.2 222.7L174.1 221.1L176 220.1ZM184 228.5L181.5 227.5L183 226ZM181.7 221.2L179.7 219.5L181.6 218.6ZM184.6 219.5L182.8 217.6L184.7 216.9ZM201.1 227.4L198.5 227.6L199.2 225.6ZM203 225.3L200.4 225.6L201.1 223.6ZM211.3 221L208.8 221.9L209 219.8ZM205.7 218.3L203.2 218.9L203.5 216.8ZM210.5 231.5L208.1 232.4L208.2 230.3ZM128.1 225L125.8 226.4L125.6 224.3ZM127.7 230.1L125.4 231.3L125.2 229.2ZM127.5 234.4L125.1 235.7L125 233.6ZM127.2 238.4L124.9 239.7L124.8 237.6ZM126.1 250.6L124 252.1L123.6 250ZM125.9 255.1L123.8 256.6L123.4 254.6ZM125.6 259L123.6 260.7L123 258.7ZM125.8 263.1L123.8 264.8L123.2 262.7ZM125.8 266.6L123.8 268.3L123.2 266.2ZM125.9 269.7L123.9 271.4L123.3 269.4ZM125.8 272.7L123.8 274.4L123.2 272.3ZM194.8 269.7L192.5 270.8L192.4 268.7ZM129.6 278.8L127.8 280.7L127 278.7ZM189.9 274.4L187.4 275.4L187.5 273.3ZM207.8 277.4L205.3 278.2L205.6 276.1ZM149.9 295L152.3 294L152.2 296.1ZM209.9 297.8L212.3 296.7L212.3 298.8ZM211.5 303.3L214.1 303.5L213.1 305.4ZM142.4 333.4L144.6 331.9L145 334ZM213.6 315.7L215.8 317.2L214 318.3ZM174.4 305.8L176.2 303.9L177 305.8ZM175.6 308L177.5 306.2L178.2 308.2ZM203 323.6L205.6 323.9L204.5 325.7ZM179.4 310.3L181.8 309.2L181.8 311.3ZM192.9 337.2L194.3 335L195.5 336.8ZM197.1 343.3L198.6 341.1L199.7 342.9ZM198.4 347.8L200.4 346.1L201 348.1ZM198.7 351.7L200.9 350.2L201.2 352.3ZM207.2 354.6L209.6 353.6L209.5 355.7ZM144.9 354L147.1 352.7L147.4 354.8ZM105.2 308.7L105.8 311.2L103.7 310.9ZM69.9 331.7L72.4 331.2L72 333.2ZM65.1 338.1L67.7 337.5L67.4 339.5ZM63.5 341.4L66.1 341.2L65.4 343.2ZM58.5 348.3L60.8 347L61 349.1ZM58.5 352.6L61 351.8L60.8 353.8ZM58.5 354.5L60.9 353.4L60.9 355.5ZM66.1 334.5L68.6 333.7L68.3 335.8ZM70.2 328.7L72.8 328.1L72.4 330.2ZM53.6 325.2L56 324.2L56 326.3ZM54 322.2L56.6 321.6L56.2 323.6ZM38.9 319.6L41.1 318.2L41.4 320.3ZM37.4 315.4L39.7 314.1L39.9 316.2ZM80.9 298.2L81.6 295.7L83.2 297ZM52.5 305.3L54.9 304.2L54.9 306.3ZM77.4 293.6L78.2 291.1L79.8 292.5ZM53.3 295.6L55.7 294.5L55.7 296.6ZM41.5 289.8L39.1 290.9L39.1 288.8ZM60.7 278.7L58.4 279.9L58.2 277.9ZM52.9 275.8L50.6 277.2L50.3 275.1ZM50.3 273.4L48.1 274.8L47.7 272.7ZM67.9 261.7L65.5 262.8L65.5 260.7ZM38.9 257L36.5 258L36.5 255.9ZM41.4 251.9L39 253L39 250.9ZM50.4 249.4L48 250.4L48 248.3ZM100.4 244.1L98 245.1L98 243ZM50.5 233.7L48.1 234.8L48 232.7ZM46.6 225.1L44.1 226L44.3 223.9ZM216.2 281L213.7 281.8L214 279.7ZM209.8 335.5L212.3 336.2L211 337.8ZM137 352.9L139.3 351.6L139.5 353.7ZM36.4 211.9L33.9 212.8L34 210.7ZM153.4 347.9L155.5 346.3L155.9 348.3ZM61.8 344.5L64.3 344L63.9 346ZM55.6 215.4L53.1 216.2L53.3 214.1ZM139 347.5L141.2 346.1L141.5 348.2ZM177 293.2L179.4 292.2L179.4 294.3ZM195.5 340.3L196.8 338L198.1 339.7ZM129.1 346.5L131.5 345.6L131.4 347.7ZM148.7 218.2L146.3 219.1L146.4 217ZM214.8 310.3L217.1 311.5L215.5 312.8ZM201.2 319.8L203.7 320.8L202.2 322.2ZM178.8 338.4L176.3 337.8L177.5 336.1ZM156.1 341.6L157.2 339.3L158.6 340.9ZM104.1 337.4L106.7 337L106.2 339ZM51.5 306.6L53.8 305.5L53.9 307.6ZM156 222.3L153.4 222.6L154 220.6ZM213.8 223.6L211.4 224.6L211.4 222.5ZM139.5 341.8L141.8 340.5L142.1 342.5ZM72.7 224.2L70.3 225.2L70.3 223.1ZM200.2 289.1L202.1 287.4L202.8 289.4ZM193.7 326.9L194.7 329.4L192.6 329.3ZM135.8 339L138.2 337.9L138.3 340ZM54.1 302.1L56.5 301L56.6 303.1ZM54.1 297.1L56.5 296L56.6 298.1ZM141.9 226.2L139.5 227.2L139.5 225.1ZM189.5 333.8L187.8 335.8L186.9 333.9ZM195.9 280.2L193.4 280.9L193.6 278.9ZM176.8 331.8L174.2 331.2L175.5 329.5ZM84.2 240.9L81.8 242L81.8 239.9ZM140.6 230.9L138.2 232L138.2 229.9ZM161.1 288.9L163.7 288.3L163.3 290.4ZM137.9 331L140.2 329.8L140.3 331.9ZM111.8 313.4L111.5 310.8L113.5 311.4ZM101.9 321.7L100.1 323.6L99.3 321.7ZM100.8 320.5L99.3 322.7L98.2 320.9ZM175.2 319.6L176.2 317.2L177.7 318.7ZM139 328.5L141.3 327.3L141.5 329.3ZM104 236.7L101.6 237.7L101.5 235.6ZM143.1 312.5L144.9 310.7L145.7 312.6ZM144.4 325.3L146.3 323.4L147.1 325.3ZM174.5 288.6L176.8 287.4L176.9 289.5ZM135.6 322.7L138.1 321.8L137.9 323.9ZM93.1 294.9L95.4 293.7L95.6 295.7ZM82.4 319.8L81.7 317.2L83.8 317.5ZM119.2 246.3L116.9 247.6L116.7 245.5ZM177.1 281.3L174.7 282.5L174.6 280.4ZM152.3 313.1L153.4 310.8L154.8 312.3ZM98.9 315.8L97.4 318L96.3 316.2ZM145.8 245.9L143.5 247.1L143.3 245ZM117.9 314.3L116.6 312.1L118.7 311.8ZM78.7 309.2L78.5 306.6L80.4 307.3ZM106.6 250.9L104.1 251.8L104.3 249.7ZM99.3 256.6L96.8 257.4L97 255.3ZM153.5 250.8L151.1 251.8L151.1 249.7ZM86.8 286.1L84.5 287.3L84.4 285.2ZM150.5 305.8L152.2 303.8L153.1 305.7ZM92.7 261.4L90.1 261.8L90.7 259.8ZM142.7 302.6L145 301.4L145.1 303.5ZM153.7 298.3L155.9 296.9L156.2 299ZM136.6 295.4L139.2 295.4L138.4 297.3ZM119.9 279.7L118 281.5L117.2 279.6ZM104 284.4L102.4 286.5L101.4 284.7Z" fill="#000" fill-opacity="0.85"/>
<path d="M24.8 301 L28.6 299.8 L29.8 303.5 L32.3 306.5 L35.6 309.8 L35.6 316 L38.6 316.5 L42.4 314 L44.2 318.5 L45.4 323.5 L46.4 329.8 L45.7 335.2 L48.7 339 L50.7 342.2 L52 347.2 L53.7 349.8 L58.2 352.2 L60 352.8M60 352.8 L58.8 348.5 L58.5 344.8 L55.7 340.5 L52.5 338.5 L50.5 334.8 L48.2 332.2 L49.4 327.2 L50 322.5 L52.5 322.8 L55.7 325.5 L57.5 328.5 L61.3 330.2 L62.5 334.2 L66.8 330.2 L72.1 327.8 L73.3 323.5 L72.6 318.5 L70.1 315.2 L66.3 311.5 L64.5 308.5 L66.8 304.2 L70.1 302.2 L73.8 302.2 L75.9 305 L76.4 303 L80.1 301.8 L83.9 300.2 L87.7 299.2 L92.7 297.2 L96.5 294.2 L99.5 291 L101.5 287.2 L104.5 283.5 L105 279.8 L102.8 276.5 L101.5 273.5 L98.5 269.2 L101 266 L106.5 263.5 L102.8 262 L97.7 262.8 L95.2 260.2 L94.7 258.2 L99 256.5 L102.8 254 L105.3 255 L103.3 258.5 L106.5 257.2 L111.1 256 L112.8 258.5 L112.3 261 L116.6 262.2 L116.1 267.2 L116.6 269.8 L120.4 269 L123.6 267.2 L123.9 263.5 L121.6 259.8 L119.1 257.2 L124.1 253.5 L125.4 249.8 L130.4 248 L134.2 249 L139.2 244.8 L145.5 238.5 L151.3 231 L151.8 226 L153.8 223 L150.6 221 L144.3 221 L139.2 218.5 L143 214.8 L150.6 211 L158.1 207.8 L165.6 207.8 L173.2 207 L180.7 208.5 L187 207.2 L192 213.5 L190 218.5 L190.8 226 L192.6 228.5 L197.1 223.5 L200.8 219.8 L205.9 216 L208.4 211 L209.7 206M125.9 278 L126.2 273.5 L127.9 271 L132.9 270.5 L138 269.5 L142.5 269.8 L146.8 269.2 L150 268 L152.6 266 L153.1 261 L155.1 257.2 L154.1 252.8 L151.1 253.5 L150 256 L149.3 259.8 L145.5 263.5 L142.5 264 L140.5 266.8 L132.9 267.2 L127.9 270 L125.4 272.8 L124.9 274.8 L125.9 278M130.9 271.2 L136.2 270.5 L135.5 272.5 L132.2 273.5 L130.9 271.2M150.6 252.2 L151.3 248.5 L154.3 247.8 L155.1 242.5 L158.1 245.2 L163.9 247.8 L160.6 248.8 L158.6 251 L154.3 249.8 L150.6 252.2M155.6 241 L156.1 236 L156.1 231 L155.6 226 L157.6 220.2 L159.4 226 L159.4 232.2 L158.1 238.5 L155.6 241M102.8 293 L105 294 L102.5 301 L100.5 298.5 L102.8 293M71.8 308 L76.4 306 L77.6 307.2 L74.3 310.2 L71.8 308M101.5 309.8 L105.8 310 L105.8 314.8 L104 318.5 L106.5 321 L110.3 323.5 L109.8 324.2 L106.5 321.8 L102.8 321.8 L101 319.2 L100.2 316 L101.5 309.8M101.5 322.5 L103.8 322.8 L103.5 325.2 L102.3 324.8 L101.5 322.5M111.1 324.8 L114.1 326 L114.3 328.5 L112.8 331 L111.6 328.5 L111.1 324.8M105.3 326.5 L108 327.2 L108.5 331 L106.5 332.8 L105.3 329.8 L105.3 326.5M109.1 328.5 L110.3 330.2 L108.8 332.2 L109.1 328.5M93.2 335 L96.5 331.5 L99 327.8M114.1 331.8 L116.6 337.2 L115.3 340.2 L113.8 341 L110.3 338.5 L105.3 338.5 L106.5 336 L109.1 334.8 L111.6 334.8 L114.1 331.8M72.6 352.2 L75.1 351.8 L78.1 349.8 L82.6 348 L85.2 344.8 L88.9 342.2 L92 338.5 L94.5 340.2 L97.7 343 L95.2 345.2 L94.5 349.8 L97 353.5 L94.5 356M72.6 352.2 L72.6 356M38.1 342 L43.7 343 L46.2 346 L50 349.8 L53.7 351.8 L57.5 354.8 L59.3 356M38.1 342 L41.1 346.8 L44.9 351 L46.9 353.5 L48.2 356M100.2 356 L100.8 353.5 L104 353 L109.1 353.8 L112.8 352M119.1 356 L119.9 351.5 L121.6 353.5 L122.1 356M31.8 322.2 L32.3 326 L31.3 327.2" fill="none" stroke="#000" stroke-width="0.75" stroke-opacity="0.9" stroke-dasharray="2.2 1"/>
<path d="M108.3 324.5 L110.3 325.5 L109.3 326.5 L107.8 325.8 L108.3 324.5M109.8 331 L111.8 330.8 L111.6 332 L110.1 332 L109.8 331M106.3 325 L107 325.5 L106.5 326 L106 325.5 L106.3 325M105 323.8 L105.8 324.5 L105.3 325 L104.8 324.5 L105 323.8M111.1 327.2 L112.6 327.5 L112.8 329 L112.3 330.5 L111.3 329.5 L111.1 327.2M106.8 329.2 L108 328.8 L108.3 330.2 L107.3 332 L106.5 331 L106.8 329.2M108.8 328.8 L110.1 329.5 L109.3 331.2 L108.8 330.2 L108.8 328.8M105 326.8 L107 327.2 L107.5 328.8 L105.5 329.8 L105 326.8M100.2 326 L101 326.5 L100.5 327 L100 326.5 L100.2 326M103 320.5 L104.3 320.2 L103.8 321.2 L103 320.5M105.3 322.2 L106 322.8 L105.3 323 L105.3 322.2M109.6 321.2 L111.3 321.8 L110.3 322.5 L109.6 321.2M113.3 330.2 L114.6 330 L114.3 331.2 L113.3 330.2M105 339.2 L106 339.5 L105.3 340 L105 339.2M99.7 343 L101 342.8 L100.2 343.5 L99.7 343" fill="#000" fill-opacity="0.25" stroke="#000" stroke-width="0.6" stroke-opacity="0.9"/>
<path d="M100 247C99.9 248.2 99.8 251.8 99.5 254C99.2 256.2 98.8 257.8 98 260C97.2 262.2 96.1 265.1 95 267C93.9 268.9 92.2 270.8 91.6 271.6" fill="none" stroke="#123a66" stroke-width="2.2" stroke-linecap="round"/>
<path d="M86 275C85.9 275.8 85.7 278.3 85.5 280C85.3 281.7 85.4 283 85 285C84.6 287 83.8 289.8 83 292C82.2 294.2 81 296.5 80 298C79 299.5 77.5 300.5 77 301" fill="none" stroke="#123a66" stroke-width="2.2" stroke-linecap="round"/>
<path d="M94 293C96.7 292.9 104 292.7 110 292.6C116 292.5 125 292.5 130 292.2C135 291.9 135 291.7 140 291C145 290.3 153.3 288.9 160 288C166.7 287.1 174.3 286.3 180 285.6C185.7 284.9 191.7 283.9 194 283.6" fill="none" stroke="#1f5c88" stroke-width="2" stroke-linecap="round" stroke-dasharray="0.01 3.7"/>
</g>
<text x="176.5" y="287.6" font-family="'Liberation Sans',sans-serif" font-size="12" text-anchor="middle" fill="#111" stroke="#111" stroke-width="0.35">H</text>
<circle cx="95" cy="306" r="2.5" fill="#ffe800"/>
<path d="M95 303.4L96.9 307.8L93.1 307.8Z" fill="#000"/>
<rect x="24.8" y="206" width="201.2" height="150" fill="none" stroke="#222" stroke-width="0.4"/>
<g font-family="'DejaVu Sans','Liberation Sans',sans-serif" font-size="6.1" fill="#222"><text x="22.5" y="208.2" text-anchor="end">60°N</text><text x="22.5" y="220.7" text-anchor="end">55°N</text><text x="22.5" y="233.2" text-anchor="end">50°N</text><text x="22.5" y="245.7" text-anchor="end">45°N</text><text x="22.5" y="258.2" text-anchor="end">40°N</text><text x="22.5" y="270.7" text-anchor="end">35°N</text><text x="22.5" y="283.2" text-anchor="end">30°N</text><text x="22.5" y="295.7" text-anchor="end">25°N</text><text x="22.5" y="308.2" text-anchor="end">20°N</text><text x="22.5" y="320.7" text-anchor="end">15°N</text><text x="22.5" y="333.2" text-anchor="end">10°N</text><text x="22.5" y="345.7" text-anchor="end">5°N</text><text x="22.5" y="358.2" text-anchor="end">0°</text><text x="25.1" y="363.4" text-anchor="middle">90°E</text><text x="50.2" y="363.4" text-anchor="middle">100°E</text><text x="75.4" y="363.4" text-anchor="middle">110°E</text><text x="100.5" y="363.4" text-anchor="middle">120°E</text><text x="125.7" y="363.4" text-anchor="middle">130°E</text><text x="150.9" y="363.4" text-anchor="middle">140°E</text><text x="176" y="363.4" text-anchor="middle">150°E</text><text x="201.2" y="363.4" text-anchor="middle">160°E</text><text x="226.3" y="363.4" text-anchor="middle">170°E</text></g>
<g><path d="M241 212.9L243.2 206L245.4 212.9Z" fill="#ff0000"/><rect x="241" y="212.9" width="4.4" height="10.7" fill="#ff1e00"/><rect x="241" y="223.4" width="4.4" height="10.7" fill="#ff8200"/><rect x="241" y="233.9" width="4.4" height="10.7" fill="#ffb400"/><rect x="241" y="244.4" width="4.4" height="10.7" fill="#ffff00"/><rect x="241" y="254.9" width="4.4" height="10.7" fill="#b4e600"/><rect x="241" y="265.4" width="4.4" height="10.7" fill="#00dc00"/><rect x="241" y="275.9" width="4.4" height="10.7" fill="#00a028"/><rect x="241" y="286.4" width="4.4" height="10.7" fill="#149494"/><rect x="241" y="296.9" width="4.4" height="10.7" fill="#6262ee"/><rect x="241" y="307.4" width="4.4" height="10.7" fill="#5a80f0"/><rect x="241" y="317.9" width="4.4" height="10.7" fill="#76a8f6"/><rect x="241" y="328.4" width="4.4" height="10.7" fill="#c6dcfb"/><rect x="241" y="338.9" width="4.4" height="10.7" fill="#ffffff"/><path d="M241 212.9L243.2 206L245.4 212.9L245.4 349.4L243.2 356.2L241 349.4Z" fill="none" stroke="#333" stroke-width="0.4"/></g>
<g font-family="'DejaVu Sans','Liberation Sans',sans-serif" font-size="4.4" fill="#333"><text x="248" y="214.5">980</text><path d="M245.4 212.9h1.3" stroke="#333" stroke-width="0.35"/><text x="248" y="225">970</text><path d="M245.4 223.4h1.3" stroke="#333" stroke-width="0.35"/><text x="248" y="235.5">960</text><path d="M245.4 233.9h1.3" stroke="#333" stroke-width="0.35"/><text x="248" y="246">950</text><path d="M245.4 244.4h1.3" stroke="#333" stroke-width="0.35"/><text x="248" y="256.5">940</text><path d="M245.4 254.9h1.3" stroke="#333" stroke-width="0.35"/><text x="248" y="267">930</text><path d="M245.4 265.4h1.3" stroke="#333" stroke-width="0.35"/><text x="248" y="277.5">920</text><path d="M245.4 275.9h1.3" stroke="#333" stroke-width="0.35"/><text x="248" y="288">910</text><path d="M245.4 286.4h1.3" stroke="#333" stroke-width="0.35"/><text x="248" y="298.5">900</text><path d="M245.4 296.9h1.3" stroke="#333" stroke-width="0.35"/><text x="248" y="309">890</text><path d="M245.4 307.4h1.3" stroke="#333" stroke-width="0.35"/><text x="248" y="319.5">880</text><path d="M245.4 317.9h1.3" stroke="#333" stroke-width="0.35"/><text x="248" y="330">870</text><path d="M245.4 328.4h1.3" stroke="#333" stroke-width="0.35"/><text x="248" y="340.5">860</text><path d="M245.4 338.9h1.3" stroke="#333" stroke-width="0.35"/><text x="248" y="351">850</text><path d="M245.4 349.4h1.3" stroke="#333" stroke-width="0.35"/></g>
<clipPath id="c3"><rect x="314.5" y="207.5" width="194.7" height="145.3"/></clipPath>
<g clip-path="url(#c3)">
<rect x="314.5" y="207.5" width="194.7" height="145.3" fill="#76a8f6"/>
<path d="M311.5 206C312.1 206 312.8 206 315 206C317.2 206 323 205.8 325 206C327 206.2 326.4 206.6 327 207.5C327.6 208.4 327.3 210 328.5 211.4C329.7 212.8 331.7 214.6 334 215.7C336.3 216.8 339.3 217.6 342.3 217.8C345.3 218 348.9 217.5 352 217C355.1 216.5 358.3 215.6 360.6 215C362.9 214.4 363.6 213.7 366 213.3C368.4 212.9 371 212.6 375 212.4C379 212.2 384.2 212.2 390 212C395.8 211.8 405 211.7 410 211.4C415 211.1 416.7 210.8 420 210.4C423.3 210 426.7 209.7 430 209C433.3 208.3 426.3 206.5 440 206C453.7 205.5 500.2 206 512.2 206L512.2 204.5L311.5 204.5Z" fill="#c6dcfb"/>
<path d="M355.1 207.3C355.1 208 354.8 208.8 354.3 209.4C353.8 210.1 353 210.8 352.1 211.3C351.2 211.8 350 212.2 348.7 212.5C347.5 212.7 346.1 212.9 344.8 212.9C343.5 212.9 342.1 212.7 340.9 212.5C339.6 212.2 338.4 211.8 337.5 211.3C336.6 210.8 335.8 210.1 335.3 209.4C334.8 208.8 334.5 208 334.5 207.3C334.5 206.6 334.8 205.8 335.3 205.2C335.8 204.5 336.6 203.8 337.5 203.3C338.4 202.8 339.6 202.4 340.9 202.1C342.1 201.9 343.5 201.7 344.8 201.7C346.1 201.7 347.5 201.9 348.7 202.1C350 202.4 351.2 202.8 352.1 203.3C353 203.8 353.8 204.5 354.3 205.2C354.8 205.8 355.1 206.6 355.1 207.3Z" fill="#ffffff"/>
<path d="M511 232C511 232.5 510.9 233.1 510.8 233.5C510.6 234 510.4 234.5 510.1 234.8C509.9 235.2 509.5 235.5 509.1 235.7C508.8 235.9 508.4 236 508 236C507.6 236 507.2 235.9 506.9 235.7C506.5 235.5 506.1 235.2 505.9 234.8C505.6 234.5 505.4 234 505.2 233.5C505.1 233.1 505 232.5 505 232C505 231.5 505.1 230.9 505.2 230.5C505.4 230 505.6 229.5 505.9 229.2C506.1 228.8 506.5 228.5 506.9 228.3C507.2 228.1 507.6 228 508 228C508.4 228 508.8 228.1 509.1 228.3C509.5 228.5 509.9 228.8 510.1 229.2C510.4 229.5 510.6 230 510.8 230.5C510.9 230.9 511 231.5 511 232Z" fill="#c6dcfb"/>
<path d="M311.5 220C312.1 220 313.2 219.5 315 220C316.8 220.5 319.3 222.1 322 223C324.7 223.9 327.2 225 331 225.5C334.8 226 341 226.2 345 226C349 225.8 351.7 225.2 355 224.5C358.3 223.8 361.7 222.4 365 221.5C368.3 220.6 372 219.6 375 219C378 218.4 380.5 218.3 383 218C385.5 217.7 387.2 217.3 390 217C392.8 216.7 396.7 216.6 400 216.3C403.3 216.1 406.7 215.6 410 215.5C413.3 215.4 415.8 215.1 420 215.8C424.2 216.6 428.3 218.3 435 220C441.7 221.7 451.7 223.8 460 226C468.3 228.2 476.8 230.9 485 233C493.2 235.1 504.9 237.6 509.4 238.5C513.9 239.4 511.7 238.5 512.2 238.5L512.2 355.8L311.5 355.8Z" fill="#5a80f0"/>
<path d="M311.5 227.3C312.1 227.3 313.2 227.1 315 227.3C316.8 227.6 319.3 228.4 322 228.8C324.7 229.2 327.2 229.8 331 230C334.8 230.2 341 230.4 345 230.2C349 230 351.7 229.5 355 229C358.3 228.5 361.7 227.7 365 227C368.3 226.3 372 225.4 375 224.8C378 224.2 380.5 223.8 383 223.4C385.5 223 387.2 222.9 390 222.6C392.8 222.3 396.7 222 400 221.6C403.3 221.2 406.7 220.4 410 220.3C413.3 220.2 415.8 220.2 420 221C424.2 221.8 428.3 223.2 435 225C441.7 226.8 451.7 229.7 460 232C468.3 234.3 476.8 237.1 485 239C493.2 240.9 504.9 242.7 509.4 243.4C513.9 244.1 511.7 243.4 512.2 243.4L512.2 355.8L311.5 355.8Z" fill="#6262ee"/>
<path d="M311.5 231.8C312.1 231.8 311.8 231.6 315 231.8C318.2 232 326 232.8 331 233C336 233.2 340.2 233.2 345 233C349.8 232.8 355.8 232 360 231.6C364.2 231.2 366.7 231 370 230.6C373.3 230.2 376.7 229.8 380 229.4C383.3 229 386.7 228.4 390 228C393.3 227.6 396.7 227.2 400 226.8C403.3 226.4 406.7 225.7 410 225.6C413.3 225.5 415.8 225.4 420 226.5C424.2 227.6 428.3 229.9 435 232C441.7 234.1 451.7 236.8 460 239C468.3 241.2 476.8 243.4 485 245C493.2 246.6 504.9 247.8 509.4 248.4C513.9 249 511.7 248.4 512.2 248.4L512.2 355.8L311.5 355.8Z" fill="#149494"/>
<path d="M311.5 236C312.1 236 311.9 236 315 236C318.1 236 325 236.2 330 236.2C335 236.2 340 236.4 345 236.2C350 236 355.8 235.5 360 235.2C364.2 234.9 366.7 234.7 370 234.4C373.3 234.1 376.7 233.8 380 233.4C383.3 233 386.7 232.4 390 232C393.3 231.6 396.7 231.3 400 231C403.3 230.7 406.7 230.3 410 230.2C413.3 230.1 416.7 230 420 230.5C423.3 231 426.7 232 430 233C433.3 234 436.7 235.3 440 236.5C443.3 237.7 446.7 238.8 450 240C453.3 241.2 454.2 242 460 243.5C465.8 245 476.8 247.6 485 249C493.2 250.4 504.9 251.4 509.4 251.9C513.9 252.4 511.7 251.9 512.2 251.9L512.2 355.8L311.5 355.8Z" fill="#00a028"/>
<path d="M311.5 239.8C312.1 239.8 311.9 239.8 315 239.8C318.1 239.8 325 239.8 330 239.8C335 239.8 340 240.1 345 240C350 239.9 355.8 239.7 360 239.4C364.2 239.1 366.7 238.8 370 238.4C373.3 238 376.7 237.4 380 237C383.3 236.6 386.7 236.1 390 235.7C393.3 235.3 396.7 234.9 400 234.6C403.3 234.3 406.7 234.1 410 234C413.3 233.9 416.7 233.8 420 234.3C423.3 234.8 426.7 235.8 430 236.8C433.3 237.8 436.7 239.1 440 240.3C443.3 241.5 446.7 242.7 450 243.8C453.3 244.9 454.2 245.6 460 247C465.8 248.4 476.8 250.7 485 252C493.2 253.3 504.9 254.2 509.4 254.7C513.9 255.1 511.7 254.7 512.2 254.7L512.2 355.8L311.5 355.8Z" fill="#00dc00"/>
<path d="M311.5 245.8C312.1 245.8 311.9 245.4 315 245.8C318.1 246.2 325.8 247.3 330 248C334.2 248.7 336.7 249.5 340 250C343.3 250.5 346.7 251 350 251C353.3 251 356.7 250.7 360 250C363.3 249.3 366.7 247.9 370 247C373.3 246.1 376.7 245.1 380 244.3C383.3 243.5 386.7 242.8 390 242.3C393.3 241.8 396.7 241.4 400 241.2C403.3 241 406.7 240.9 410 241.2C413.3 241.5 416.7 242 420 243C423.3 244 426.7 245.8 430 247C433.3 248.2 436.7 249.6 440 250.5C443.3 251.4 446.7 252 450 252.5C453.3 253 454.2 252.8 460 253.5C465.8 254.2 476.8 255.7 485 256.4C493.2 257.1 504.9 257.6 509.4 257.8C513.9 258 511.7 257.8 512.2 257.8L512.2 355.8L311.5 355.8Z" fill="#b4e600"/>
<path d="M311.5 258C312.1 258 311.9 258.2 315 258C318.1 257.8 325.8 257 330 257C334.2 257 336.7 257.7 340 258C343.3 258.3 346.7 259 350 259C353.3 259 356.7 258.7 360 258C363.3 257.3 366.7 256.1 370 255C373.3 253.9 376.7 252.4 380 251.5C383.3 250.6 386.7 249.8 390 249.3C393.3 248.8 396.7 248.4 400 248.3C403.3 248.2 406.7 248.4 410 248.8C413.3 249.2 416.7 250 420 251C423.3 252 426.7 253.6 430 254.7C433.3 255.8 436.7 256.7 440 257.3C443.3 257.9 446.7 258.1 450 258.3C453.3 258.5 454.2 258.2 460 258.6C465.8 259 476.8 259.9 485 260.4C493.2 260.8 504.9 261.1 509.4 261.3C513.9 261.5 511.7 261.3 512.2 261.3L512.2 355.8L311.5 355.8Z" fill="#ffff00"/>
<path d="M311.5 266C312.1 266 311.9 266.2 315 266C318.1 265.8 325.8 265 330 265C334.2 265 336.7 265.7 340 266C343.3 266.3 346.7 266.6 350 266.6C353.3 266.6 356.7 266.6 360 266C363.3 265.4 366.7 264.3 370 263.2C373.3 262.1 376.7 260.5 380 259.5C383.3 258.5 386.7 257.8 390 257.3C393.3 256.8 396.7 256.4 400 256.3C403.3 256.2 406.7 256.6 410 257C413.3 257.4 416.7 258.2 420 259C423.3 259.8 426.7 260.9 430 261.6C433.3 262.3 436.7 262.9 440 263.3C443.3 263.7 446.7 263.9 450 264C453.3 264.1 454.2 263.9 460 264C465.8 264.1 476.8 264.4 485 264.6C493.2 264.8 504.9 265.3 509.4 265.4C513.9 265.5 511.7 265.4 512.2 265.4L512.2 355.8L311.5 355.8Z" fill="#ffb400"/>
<path d="M311.5 276C312.1 276 311.9 276.3 315 276C318.1 275.7 325.8 274.3 330 274C334.2 273.7 336.7 273.8 340 274C343.3 274.2 346.7 274.9 350 275C353.3 275.1 356.7 274.9 360 274.6C363.3 274.3 366.7 273.7 370 273C373.3 272.3 376.7 271.1 380 270.2C383.3 269.3 386.7 268.3 390 267.6C393.3 266.9 396.7 266.4 400 266.2C403.3 266 406.7 266.1 410 266.2C413.3 266.3 416.7 266.6 420 267C423.3 267.4 426.7 268 430 268.4C433.3 268.8 436.7 269 440 269.2C443.3 269.4 446.7 269.6 450 269.6C453.3 269.6 454.2 269.1 460 269C465.8 268.9 476.8 269.1 485 269.3C493.2 269.5 504.9 270.1 509.4 270.2C513.9 270.3 511.7 270.2 512.2 270.2L512.2 355.8L311.5 355.8Z" fill="#ff8200"/>
<path d="M404 284.5C404.8 282.8 407.3 281.2 410 280C412.7 278.8 416.7 278 420 277.3C423.3 276.6 426.7 276.2 430 276C433.3 275.8 436.7 275.8 440 275.8C443.3 275.8 446.7 275.7 450 276C453.3 276.3 456.7 277.1 460 277.4C463.3 277.7 466.2 277.5 470 277.8C473.8 278.1 478.5 278.5 482.8 279C487.1 279.5 492 280.3 495.6 281C499.2 281.7 501.6 282.4 504.5 283C507.4 283.6 511.6 283.7 513 284.5C514.4 285.3 514 287.2 513 288C512 288.8 508.8 288.8 507 289.5C505.2 290.2 503.5 291.2 502 292.5C500.5 293.8 499.2 295.4 498 297C496.8 298.6 496 300.2 495 302C494 303.8 492.9 305.6 492 308C491.1 310.4 489.7 313.1 489.3 316.5C488.9 319.9 488.8 324.8 489.4 328.5C490 332.2 492.5 335.4 492.7 338.5C492.9 341.6 490.4 343.8 490.5 347C490.6 350.2 508.1 356.2 493.6 358C479.1 359.8 418.8 360.2 403.5 358C388.2 355.8 402.6 348.2 402 345C401.4 341.8 401.3 340.7 400 339C398.7 337.3 396.7 336.3 394 335C391.3 333.7 386.6 332.7 384 331C381.4 329.3 379 326.8 378.5 325C378 323.2 379.1 321.3 381 320C382.9 318.7 386.8 318 390 317C393.2 316 396.7 315.3 400 314C403.3 312.7 407.7 311.2 410 309C412.3 306.8 414 303.3 414 301C414 298.7 411.5 296.8 410 295C408.5 293.2 406 291.8 405 290C404 288.2 403.2 286.2 404 284.5Z" fill="#ff1e00"/>
<path d="M435 313.4C436.4 311.3 438.9 311.6 441.7 311C444.5 310.4 448.8 311 451.8 310C454.9 309 457 305.7 460 305C463 304.3 466.9 304.9 470 306C473.1 307.1 476.4 309.4 478.5 311.7C480.6 314 481.9 317.2 482.7 320C483.5 322.8 484.2 325.8 483.5 328.5C482.8 331.2 480.8 334.2 478.5 336C476.2 337.8 472.8 338.5 470 339C467.2 339.5 464.6 339.4 461.8 339C459 338.6 455.7 337.2 453.4 336.8C451.1 336.4 449.2 335.8 448 336.5C446.8 337.2 447.3 339.9 446 341C444.7 342.1 442.4 343.1 440 343C437.6 342.9 432.2 342.4 431.7 340.5C431.1 338.6 436.4 334.7 436.7 331.8C437 328.9 433.7 326.5 433.4 323.4C433.1 320.3 433.6 315.5 435 313.4Z" fill="#ff8200"/>
<path d="M429.5 349.5C429.5 350.1 429.3 350.7 429.1 351.2C428.8 351.8 428.4 352.3 427.9 352.7C427.4 353.1 426.8 353.4 426.1 353.7C425.5 353.9 424.7 354 424 354C423.3 354 422.5 353.9 421.9 353.7C421.2 353.4 420.6 353.1 420.1 352.7C419.6 352.3 419.2 351.8 418.9 351.2C418.7 350.7 418.5 350.1 418.5 349.5C418.5 348.9 418.7 348.3 418.9 347.8C419.2 347.2 419.6 346.7 420.1 346.3C420.6 345.9 421.2 345.6 421.9 345.3C422.5 345.1 423.3 345 424 345C424.7 345 425.5 345.1 426.1 345.3C426.8 345.6 427.4 345.9 427.9 346.3C428.4 346.7 428.8 347.2 429.1 347.8C429.3 348.3 429.5 348.9 429.5 349.5Z" fill="#ff8200"/>
<path d="M340 304C340.3 302.5 341.7 300.5 343 300C344.3 299.5 347 300 348 301C349 302 349.2 304.2 349 306C348.8 307.8 348.2 310.8 347 312C345.8 313.2 343 313.5 342 313C341 312.5 341.3 310.5 341 309C340.7 307.5 339.7 305.5 340 304Z" fill="#ff1e00"/>
<path d="M372.1 322.5C372.1 322.7 372.1 322.9 372 323C371.9 323.2 371.8 323.4 371.6 323.5C371.5 323.6 371.3 323.7 371.1 323.8C370.9 323.9 370.7 323.9 370.5 323.9C370.3 323.9 370.1 323.9 369.9 323.8C369.7 323.7 369.5 323.6 369.4 323.5C369.2 323.4 369.1 323.2 369 323C368.9 322.9 368.9 322.7 368.9 322.5C368.9 322.3 368.9 322.1 369 322C369.1 321.8 369.2 321.6 369.4 321.5C369.5 321.4 369.7 321.3 369.9 321.2C370.1 321.1 370.3 321.1 370.5 321.1C370.7 321.1 370.9 321.1 371.1 321.2C371.3 321.3 371.5 321.4 371.6 321.5C371.8 321.6 371.9 321.8 372 322C372.1 322.1 372.1 322.3 372.1 322.5Z" fill="#ff1e00"/>
<path d="M329.7 207.5L331 208.2L334.7 212.1L336.5 213.3L338.7 214.3L343.5 215.2L348.4 214.9L353.1 213.6L357.2 211.5L362.1 207.5M334.8 207.5L335.7 209.2L337.1 210.7L339 211.9L341.3 212.7L343.7 213L348.6 212.6L350.9 211.9L352.8 210.7L354.2 209.2L355.2 207.5M363.2 209.4L368 208.5L375.5 207.7L387.9 207.5M390.9 208.6L400.9 208.5L415.8 207.5M425.9 207.5L435.7 208.8L500.7 208.9L503.2 209L505.5 209.7L507 210.9L507.7 212.2L508 214L508.2 221.5L507.8 230.7L508.1 232.6L509.5 235.4M436.1 207.5L501.1 207.6L503.5 207.8L505.9 208.3M509.5 329.4L507.1 323.6L504.9 321.2L503.6 320.7L502.2 320.7L500.3 321.9L499.1 323.4L498.1 325.2L497 328.8L496.2 338L494.5 345.3L494.6 347.2L496.8 352.5M509.5 294.7L506.1 296.3L504.3 297.6L500 302.1L494.6 310.5L491.6 317.6L490.5 323.1L490.3 326.8L491.8 337.9L490.3 345.2L490.2 347.1L490.5 348.9L491.8 352.5M487.8 350.4L487.3 351.3L486.2 352L483.9 352.4L461.4 352.5M483.5 351.2L463.6 351L453.8 352.5M438.6 352.5L436.2 352.1L434.8 351.2L433.9 350.1L431 345.2L427.9 343.6L425.5 343.1L423 343.1L420.7 343.7L418.8 344.9L414.3 349.3L412.3 350.3L410.2 350.5L407.9 350.3L406.4 349.6L405.3 348.5L402.6 342L401.6 340.3L398.8 337.2L395.4 334.5L393.4 333.4L384.7 329.7L381.3 327.1L380.2 325.4L379.8 323.6L380.2 321.8L381.3 320.1L383.1 318.9L403.2 311.5L407.1 309.1L409.9 306L410.7 304.3L411.1 302.5L410.7 300.6L409.7 299L403.7 293L401.8 289.6L401.4 287.8L401.6 286L402.1 284.2L403.1 282.5L404.5 280.9L406.2 279.6L410.4 277.6L415 276.2L419.8 275.1L427.2 274.2L442.2 274.2L452.2 274.5L467.1 275.8L477.1 276.3L491.8 278.3L509.5 281.7M398.1 352.5L399.4 347L399.5 345.2L399 343.4L398.1 341.7L396.7 340.1L393.1 337.5L382.2 333L378.5 330.5L375.2 327.8L373.6 326.9L369.1 326.2L366.9 325.4L360.2 319.9L359.2 318.2L358.8 316.4L359 305.3L358.5 301.6L357.4 298L355.7 294.5L353.4 291.2L350.4 288.2L348.6 286.9L344.5 284.8L339.9 283.4L334.9 282.9L330 283.3L325.3 284.5L321.1 286.5L317.6 289.1L314.5 292.6M395.5 352.5L396.1 346.9L395.8 345.1L394.8 343.5L393 342.2L388.6 340.5L381.5 338.8L372.3 335.8L360.3 333.3L345.5 331.6L338 331.7L330.9 333.4L314.5 339.7M393 352.5L392.2 350.8L391 349.7L389.3 349.3L382.4 349.5L380 349.1L375.6 347.4L367.3 343.3L362.9 341.5L358.2 340.2L350.8 339.3L343.4 339.6L338.6 340.6L334.1 342.3L323.8 347.6L319.4 349.3L314.5 350.5M380.3 352.5L375.6 351.4L371.1 349.8L362.8 345.6L358.5 343.7L353.8 342.6L348.8 342.3L343.9 342.9L341.5 343.5L337.2 345.4L329.1 349.7L324.6 351.3L319.6 352.5M370.2 352.5L365.6 351L354.8 346.5L349.9 345.7L345 346.4L334.2 351L329.9 352.5M362.6 352.5L355.6 350.5L350.7 349.7L345.8 350.2L337.3 352.5M392.9 348.3L392 347.5L390.4 346.9L383.1 346.5L380.8 346L370 341.3L363.2 339L355.9 337.5L348.5 337L341 337.5L336.3 338.5L329.6 341L319 346L314.5 347.6M358.8 336.4L348.9 335.4L343.9 335.4L339 336L334.2 337.1L329.7 338.7L314.5 345.1M314.5 307.3L316.1 312.2L318.1 315.6L320.7 318.7L327.2 324.4L328.2 325.5L328.7 326.6L328.5 327.8L327.1 329.3L325.2 330.6L321.1 332.7L314.5 335.3M314.5 314.1L318.4 321.2L319.7 324.6L319.4 326.4L318.3 328L314.5 330.4M378.4 332.5L374.4 330.3L360.2 326.8L355.6 325.4L353.8 324.4L352.5 322.9L352 321.2L352.2 319.3L354.2 312L354.9 308.4L355 304.6L354.6 301L353.4 297.3L351.5 293.9L348.6 290.9L344.9 288.4L340.5 286.7L335.6 286L330.7 286.4L328.3 286.9L324 288.8L320.4 291.3L317.6 294.4L315.7 297.9L315.1 299.7L314.5 303.3M314.5 279.1L328.1 278.9L332.9 279.3L325.9 281.5L321.6 283.4L317.8 285.8L314.5 288.6M314.5 276.3L331.8 274.7L341.8 274.7L349.3 275.4L359.2 274.9L371.4 272.6L387.8 268.1L397.5 266.4L402.4 266L412.4 266.2L434.6 268.9L447.1 269.5L477.1 269.3L487.1 269.5L497 270.2L509.5 270.3M314.5 273.9L331.8 272.2L341.8 272.3L349.3 273L359.2 272.6L371.3 270.3L387.7 265.8M314.5 268.9L329.4 268L349.3 269.5L354.3 269.3L361.6 268.3L366.4 267.2L380.1 262.6L384.8 261.4L392.1 260.1L402 259.1L414.3 260.6L433.6 264.5L446 265.7L473.5 265.8L495.9 266.8L509.5 266.8M314.5 266.5L329.4 265.5L349.3 267.2L354.2 267.1L364 265.4L368.6 264L377.6 260.8L384.6 258.8L391.9 257.5L401.8 256.5L414.1 258.1L433.2 262.5M314.5 264L324.4 263.2L329.4 263.1L351.8 264.8L361.6 263.5M314.5 261.6L329.4 260.6L349.3 262.4L354.2 262.3L359.1 261.6L363.9 260.5L377.6 256L384.7 254.1L392 252.8L401.9 251.8L406.8 252.2L414.2 253.4L432.9 258.5L437.7 259.5L445.1 260.6L470 261.5L492.5 262.8L509.5 263M314.5 259.1L324.4 258.3L329.4 258.1L334.4 258.4L346.7 259.9L354.2 259.9L359.1 259.2L363.8 258L377.6 253.5L384.6 251.6L391.9 250.3L401.8 249.2L406.7 249.6L414.1 250.7L418.8 252L430.2 255.7L437.3 257.6M314.5 256.7L324.4 255.8L329.4 255.7L334.4 256L346.7 257.6L354.2 257.6L361.5 256.2L377.5 251.1L384.6 249.2L391.9 248L401.8 246.9L409.2 247.6L416.5 248.9L434.8 254.8M314.5 254.2L324.5 253.6L329.5 253.7L344.3 255.4M314.5 249.3L326.9 250.6L341.5 252.9M314.5 246.8L324.4 247.9L339 250.3M314.5 244.4L326.9 245.4L346.5 248.4L351.5 248.6L358.9 247.7L375.4 243.3L387.4 240.9L399.7 239.3L409.7 239.3L414.7 239.8L419.5 240.8L439.8 247.9L449.4 250.1L488.7 255.5L509.5 257M314.5 241.9L339.5 242.6L354.5 242.5L366.9 241.3L396.3 237.1L406.3 236.3L413.8 236.4L418.7 236.8L423.5 237.8L430.5 239.8L453.3 247.4L465.3 250.1M314.5 239.4L352 239.5L366.9 238.3L403.9 233.8L408.9 233.5L416.4 233.6L421.3 234.2L426 235.4L455.6 245.4L465.1 247.8M314.5 237L352 237L366.9 235.8L381.7 234M314.5 234.5L329.5 235.1L349.5 234.9L366.8 233.4L406.3 228.7L416.3 228.6L423.6 230L455.6 240.5L467.4 243.6L479.3 246.3L489 248L498.9 249.3L509.5 250.3M314.5 232.1L329.4 233.1L349.4 233L403.7 226.4L408.7 226L416.1 226.1L423.4 227.4L455.6 237.7L476.8 243.1L493.8 246.3L509.5 247.9M314.5 227.2L329.2 229.4L346.7 229.6L356.5 228.4L383.2 223.4L410.4 220.5L415.4 220.5L425 222.4L483.5 238.7L493.1 240.7L509.5 243.5M314.5 222.2L319.4 222.1L328.8 224.7L333.7 225.4L346.2 225.5L353.5 224.4L370.1 220.2L379.7 218.3L412 215.5L417 215.6L424.3 216.8L459.7 225.9L485.5 233.1L499.8 236.5L509.5 240.3M314.5 219.8L316.5 218.7L318.1 217.3L320.1 213.9L321.3 213L322.9 212.7L324.6 213L326.4 213.8L331.5 217.5L333.6 218.5L338.2 220L343.1 220.5L350.5 219.9L357.7 218.4L367.2 215.9L377 214.5L404.4 213.2L411.8 212.4L429.3 212.2L499.3 212.4L501.8 212.6L503.2 213.2L504.1 214.3L504.6 217.4L504.6 221.1L504.3 224.8L503 230.3L503.4 232.1L504.4 233.8L505.7 235.3L509.5 238.1M314.5 217.3L315.5 215.7L316.6 212L317.8 210.4L319.3 209.5L321.2 209.2L326.2 209.1L328.5 209.6L331.8 212M367.7 210L377.6 208.9L395.1 208.7M398.1 210L403.1 209.8L422.9 208.1M467.7 248.7L487.2 252.2L509.5 254.4M347.1 253.8L352.1 253.8L357.1 253.3L361.9 252.3L378.1 247.5L385.3 245.9L397.5 244L405 243.7L410 244.1L417.3 245.4L435.4 251.7L444.9 254L489.5 258.3L509.5 259.2M377.4 325.5L376.8 323.7L376.6 321.9L377.1 320.1L378.1 318.4L379.5 316.9L381.4 315.7L390.5 312.7L396.9 309.8L400.8 307.4L401.9 306.4L402.4 305.6L402.4 304.7L398.6 300.8L395.3 295.8L392.6 292.6L389.1 290L387 289.1L384.6 288.6L382.1 288.7L379.8 289.2L377.7 290.2L375.9 291.5L374.4 293L372.2 296.3L369.8 302.8L369.5 303.4L368.9 303.6L368.3 303.2L367.1 301.6L360.6 289.5L358 286.3L354.3 282.4L354 281.5L354.6 280.7L356.8 279.9L373.5 276.1L387.6 272.2L397.3 270.5L402.2 270L409.7 270L434.6 271.7L477.1 272.5L487.1 272.8L497 273.7L509.5 273.9M465.4 277.6L475.4 278.1L490.1 280.1L509.5 284.3M505.8 285.3L507 286.1L507 287L500.1 292.5L497.2 295.6L493.8 300.5L487.9 310.8L486.8 312.4L485.9 313.2L485 313.1L484.2 312.7L478.8 307.3L475.1 304.8L470.7 303.1L465.9 302.2L461 302.4L458.6 302.9L447.8 307.6L438.2 309.7L436.1 310.6L434.2 311.8L431.8 315.1L430 320.5L429.1 327.8L428 329.5L422.2 331.9L415.7 337.5L413.9 338.7L411.7 339.6L409.3 339.9L407.6 339.5L404.7 337.5L399.1 331.3L396 328.4L394.1 327.3L387.4 324.9L386.7 324L387 323.1L389.4 321.6L402.6 316.4L406.8 314.3L410.3 311.7L412.9 308.5L413.9 306.8L414.9 303.2L414.8 301.4L414.2 299.6L411.8 296.3L407.3 291.9L406.1 290.3L405.4 288.5L405.3 286.6L405.9 284.8L407.1 283.2L408.8 281.9L410.9 280.9L415.4 279.4L420.2 278.3L427.5 277.2L435 276.9L450 277.1L464.9 278.7M509.5 290.2L507 291.1L503.1 293.4L498.7 297.9L496.4 301.2L492.5 308L490.1 313.3L487.4 320.5L486.6 321.7L486 321.7L485 320.5L482.1 315.4L479.8 312.1L476.8 309.1L475.1 307.8M509.5 312.1L507 310.7L504.7 310L502.2 309.9L500.1 310.5L498.5 311.5L495.7 314.5L493.3 319.8M509.5 320.9L507 318.1L505.1 316.9L503.3 316.4L501.4 316.6L499.9 317.3L497.2 320.1L495.3 323.6L494.4 327.2L494.3 330.9L494.7 336.5L494.3 340.2M509.5 338.2L508.2 335.9L505.9 326.8L504.8 325.1L503.6 324.2L502.4 324.1L500.7 325.5L499.3 328.8L498.1 338M509.5 342L507 340.2L505.8 338.6L505.3 336.8L505 331.2L504.7 329.4L503.8 327.7L502.9 327.3L502.1 327.8L501.1 329.9L500.7 337.3L500.2 339.1L497.2 344.2L496.7 346L496.9 347.8M478.4 348.8L463.4 348.2L448.9 350.9L441.5 351.7M430 352.5L428.9 348.5L427.9 347.1L426.5 346.1L424.7 345.5L422.5 345.7L420.5 346.8L419.2 348.3L418.3 350L417.7 352.5M318.9 295.6L318 297.3L316.7 300.9L316.4 304.6L317 308.3L318.6 311.8L321 315L324.4 317.8L326.3 318.9L330.9 320.4L333.3 320.7L335.8 320.6L338.1 320L340.2 319L341.3 317.7L341.7 316.3L340.3 309.4L340.5 303.9L342 300.3L344.3 297.1L344.6 295.8L344 294.5L342.8 293.4L340.8 292.3L338.5 291.5L333.6 291.2L328.9 292.4L326.9 293.5L323.7 296.3L321.7 299.7L321.1 303.4L321.3 305.2L322.7 308.8L325.5 311.8L327.4 313L329.6 313.9L332 314.3L334.4 314.2L336 313.5L337 312.5L337.6 311.2L338.4 305.7M314.5 224.5L317 224.7L326.6 226.9L331.5 227.6L346.5 227.7L356.3 226.3L380.2 221.1L402.5 218.7M334.5 214.7L336.6 215.7L341.3 217L346.2 217.1L353.5 215.8L365.1 212.4L372.5 211.4M436.3 346.6L441.2 346.8L443.5 346.2L445.4 345L449.5 341.1L450.9 340.4L452.6 340.4L454.9 341.1L461.3 344L464.9 345L467.2 344.9L471.7 343.5L477.6 340.1L480.8 337.3L483.1 334L486.4 327.2L486.9 327.3L487.3 328.3L489 333.6L489.4 337.3L489.2 339.2L487.9 342.8L486.3 345.9L485.4 346.9L484.2 347.6L481.8 347.9M337.9 289.4L335.4 289.2L330.5 289.7L326.1 291.5L322.7 294.1L320.3 297.3L318.9 300.9L318.7 304.6L319.6 308.3M319.6 219.8L322 220L328.8 222L333.6 222.9L338.6 223.3L346.1 223.3L353.4 222.2L367.5 218.5L377.2 216.6M420.9 214.5L428.2 215.8L447.2 220.5M431.1 214.5L452.8 218.7L485.9 227.3L495.4 229.6L497.7 230.3L499.5 231.4L502.7 234M441.1 214.9L458.5 215.9L498.5 216.2L499.9 216.6L500.6 217.5L500.8 218.6L500.8 222.3L499.7 227.8L500.1 229.5M409.4 217.8L414.3 217.6L421.7 218.7L457 228L482.7 235.2L501.9 239.4L509.5 241.6M430.9 226.6L456.6 234.1L480.1 240.3L489.7 242.4L504.4 244.7M465.6 280L475.6 280.8L490.3 283.1L497.5 284.6L501.9 286.1L502.6 287L502.4 287.9L497.3 293.1L494.7 296.3M470.9 306.5L466.2 305.3L463.7 305.1L461.2 305.4L458.9 306L450.6 310.1L438.9 313.3L437.1 314.6L435.8 316.1L435 317.9L434.2 321.6L434.3 323.4L435.4 328.9L435.4 330.8L435 332.6L432.4 337.8L432 339.7L432.2 341.3L432.8 342.7L434.1 343.9L436.2 344.8L438.7 345.2L441.1 345.1M432.9 327.1L433.2 330.8L432.6 332.6L428.7 338.9L427.8 339.8L426.5 340.3L421.6 341.1L419.4 341.9L413.3 345.1L410.9 345.6L408.5 345.3L407 344.6L402.3 338.8M394.1 346.2L393 345.1L390.9 344.2L381.2 342.6L370 338.4L360.5 336.1M453.8 217.3L463.4 219.4L477.6 223M461.4 217.3L473.8 218.4L496.3 218.6L497.5 219L498.2 219.7L498 225.8M436.6 343.3L439 343.7L441.5 343.5L443.7 342.7L448.6 338.5L450.2 337.9L452.1 337.9L453.9 338.3L460.8 340.4L463.3 340.8L468.3 340.8L470.7 340.4L475.2 338.8L478.8 336.3L480.3 334.8L482.4 331.4M431.3 322L432 329.4L431.7 331.2L430.8 333L428.1 336L426.3 337.3L419.6 339.7L413.3 342.7L410.9 343.1L408.8 343L407 342.2L405.8 341.2M359.9 331.5L336.7 327.5L335.1 327.9L324.6 332.8M321.4 312.8L324.6 315.6L326.6 316.8L331.2 318.2L333.7 318.3L336.1 318L338.3 317.1L339.3 316L339.7 314.7M328.4 295.6L326.7 297L325.4 298.6L324.6 300.3L324.2 302.1L324.2 304L324.6 305.8L325.5 307.5L326.9 309.1L328.8 310.3L331 311.1L333.4 311.2L334.8 310.7L335.8 309.7M471.5 219.8L495.4 225.4L497.4 226.9M473.2 226.1L487.3 229.9L496.8 232.1M489.2 285.3L495.5 287.1L496.4 287.7L496.8 288.6L496.2 290L491.1 295.9L489.6 297.4L487.6 298.5L485.3 298.9L470.6 298.2L463.1 298.5L458.2 299.3L444 302.8L436.7 303.8L429.2 303.9L424.2 303.4L421.9 302.8L420.4 302L415.2 296.4L410.5 292M485.6 332.8L486.3 332.4L487.1 333L487.7 334.8L487.8 336.6L487.5 338.5L486.7 340.2L485.2 341.7L483.6 342.1L482.1 341.8L481.6 341L482 339L483.9 335.6M481.1 327.6L481.2 325.8L480.7 322.1L479.4 318.5L477.5 315.1L474.7 312L472.9 310.7L468.7 308.7L463.9 308L461.5 308.3L459.2 309L447.3 315.9L443.9 318.5L441.4 321.7L440.6 323.5L439.7 330.9L437.1 337.6L437 338.7L437.7 339.8L439.3 340.4L441.1 340.2L442.9 339.4L447.4 335.5L449.2 335L453.1 335.5L459.9 337.7L462.3 338.2L467.3 338.4L472.1 337.5M339.1 299.1L339 297.9L338.1 296.7L336.6 296L334.1 295.8L331.7 296.3L329.7 297.3L328.1 298.7L327 300.4L326.5 302.2L326.5 304L327.2 305.8M450.8 315.6L448.2 318.7L443.7 329.4L440.2 336L439.9 336.9L440.1 337.6L441.1 337.8M426.5 324.5L420.7 326.7L419.1 328.1L416.1 333.2L413.5 336.3L411.8 337.3L410.1 337.8L408.2 337.8M327.6 322.1L332 323.7L334.4 324.1L336.8 323.9L339 323.1L342.7 320.7L344 319.1L344.6 317.7L344.2 316.4M329.7 308.3L331.9 309L333.5 308.9L334.8 308.2L336 305.9L336.4 302.2L335.9 300.4L335 299.5L333.5 299.3L332.2 299.7L330.9 300.5L330 301.8L329.7 303.4L330.3 305L331.7 306.2L333 306.3M370.9 227.6L383.1 225.6L400.4 223.6M403.7 223.7L411.2 223.1L416.2 223.3L421 224.1L428 226.1M490.3 287.6L491.8 288.6L492.2 289.7L491.8 290.7L489.3 293.2L487.2 294.3L480.1 296L467.7 297.2M491.8 298.4L488 303.2L486.2 304.5L484.7 304.6L475 300.8L467.7 299.7M459.5 335.3L464.3 336.3L469.2 336L473.6 334.3L475.4 333L476.8 331.5L477.7 329.8L478.3 327.9L478.5 324.2L477.7 320.6L477 318.8L474.9 315.4M431.6 312.2L426.7 319.7L425.5 320.4L423.7 320.7L418.9 320.9L416.9 321.3L415.4 322.2L414.4 323.3L414 325.1L414.1 328.8L413.4 332.5L412.4 334L410.7 335.3L409.2 335.7L407.5 335.4L406.4 334.7L405.3 333.5L404.4 331.7L404.1 329.9L404.2 328.1L405.3 324.4L406 319.4L412.5 312.2L414.7 308.9L415.4 307.1M387.1 337.6L382.5 336.2L373.7 332.7L361.6 330.4M329.7 244.1L349.6 245.8L357.1 245.3L364.3 244M461.8 262.8L476.8 263.2L489.2 264M469.4 333.8L471.5 332.8L473.2 331.5L474.5 329.9L475.3 328.1L475.8 324.5L475.3 320.8L473.6 317.3L470.6 314.4L468.6 313.3L466.2 312.7L463.8 312.7L461.4 313.2L459.4 314.3L457.7 315.6L455.4 318.9L454.4 322.5L454.4 326.2L455.7 329.8L456.9 331.4L458.7 332.7L460.8 333.7M468.2 310.8L465.9 310.3L463.4 310.3L461 310.8L457 312.9L453.7 315.8L452.5 317.4L451.6 319.1L450.5 322.7L450.1 328.3L450.6 330.1L451.9 331.6L455.8 333.9M398.1 332.8L394.4 330.4L385.6 326.8L384 325.4L383.4 324L383.8 322.6L384.9 321.6L386.6 320.7L393.4 318.4M468 282.5L472.9 283.2L477.7 284.2L482.3 285.7L485.7 287.5L486.7 288.6L486.8 289.9L486.2 291.1L485 292.2L480.8 294.2M471 328.7L472 327L472.8 323.3L472.5 321.5L471.9 319.7L470.8 318L469.3 316.6L467.5 315.7L465.4 315.2L463 315.5L461 316.5L459.4 317.9L458.3 319.6L457.7 321.4L457.7 325.1L458.3 326.9L459.3 328.6L460.7 330L462.4 331L464.5 331.5L466.8 331.3L469 330.4M388.2 233.2L405.5 231.3L415.5 231.1L422.8 232.2L432.1 235M469 326.3L469.8 324.6L470 322.8L469.6 320.9L468.7 319.5L467.5 318.4L465.9 317.8L464 317.9L462.3 318.6L460.9 320.2L460.3 321.9L460.3 323.8L460.8 325.5L461.8 326.8L463 327.7L464.7 328.2L466.4 327.9L468 327.1M357.4 328.5L352.7 327.3L350.5 326.4L348.7 325.1L348 323.8L348 322.4L349.8 317.2L350.1 315.4L349.8 314.5L346.1 314.1L344.4 313.6L343.2 312.6L342.3 311.4L341.8 309.7L341.5 306L341.8 304.1L342.5 302.4L343.8 300.8L345.7 299.7L349.4 298.7L350.1 298L349.8 295.9M365.6 320L362.9 312.9L361.7 303.7L360.8 300L358.7 294.7L356.6 291.3L352.3 286.7L348.7 284.2L344.6 282.1L338 279.6L338 279.3L338.4 279.1L341.4 278.6L353.8 278.1M475.6 285.3L478.5 287.3L479.1 288.6L478.9 290L478 291.2L474.4 293.2L467.4 295.2L450.4 298.4L440.5 299.4L433 299.3L425.6 298.7L420.8 297.9L418.6 296.9M375.9 325L374.6 323.2L373.8 322.9L371 323.3L369.7 322.9L368.9 322.1L368.5 320.9L368.8 319.4L370 318L372.1 317.1L373.6 317.1L374.3 316.8L374.5 316.2L373.9 315.4L371 313.7L368.1 310.7L366.5 307.2L365.4 303.5M402.5 332.6L399.2 325.6L397.2 323.1L396.9 322.1L398.1 320.6L404.1 317.3M390.6 242.3L397.9 241.3L402.9 241L407.9 241L415.3 242M439.3 256.2L446.7 257.2L484 259.8M448.8 313.2L442 315.6L440 316.6L438.6 318.1L437.7 319.8L437.4 321.7L438 329.1M363.4 299.6L361.2 294.2L359.2 290.8L355.2 286.1L350.7 282.4L350 281.2L350.3 280.5M421.1 243.6L436.8 249.4L443.8 251.3L448.7 252.1M458.9 244.4L478 248.7L487.7 250.4M412.3 291.2L411.1 289.7L410.5 288.4L410.6 287L411.6 285.8L415.7 283.9L420.5 282.6L427.8 281.4L440.2 281L452.7 281.6L460 282.7L467.2 284.4L471.5 286.1L473 287.6L473.4 288.9L472.9 290.3L471.7 291.4M431 311.2L427.2 315L425.8 315.5L423.4 315.6L416.1 314.3L415.2 313.7L415 312.8L415.6 310.1M469 288.6L468.7 289.9L467.7 290.9L466.2 292L461.8 293.7L454.7 295.4L444.9 296.8L437.4 297L427.4 296.3L420.2 295L416 293M372.2 298.3L371.7 302L371.8 303.8L373 307.4L375 310.8L376.7 312.8L377.9 313.2L382.8 312.9M360.3 249.9L376.6 245.2L386.2 243.1M445 305.1L435.4 307.2L429.4 309.9L427.7 310.6L425.9 310.7L421.1 309.9L419.6 309.3L418.8 308.3L418.5 307.3L418 303.8M388.4 311.7L392.3 309.5L393.7 307.9L394.4 306.2L394.7 304.4L394.5 300.7L394 298.8L392 295.4L390.6 293.9L388.8 292.7L386.6 291.8L384.2 291.4L381.8 291.8L379.7 292.7L378 294L376.8 295.6L376 297.4L375.6 299.2L375.6 301.1L376.1 302.9L376.9 304.6L378.3 306.2L380.2 307.4L382.5 308L384.8 308L386.8 307.3L388.4 306.1L389.6 304.5L390.3 302.8L390.4 300.9L390 299.1L389.1 297.4L387.6 295.9L385.5 295L383.3 295L381.7 295.7L380.4 296.8L379.5 298.3L379.3 300.1L379.7 301.9L381 303.5L382.6 304.2L384.4 304.3L385.8 303.7L386.8 302.6L387.3 301.3M403.1 308.3L404.9 307L406.3 305.4L407.2 303.7L407 301.9L406 300.6L400.4 297.1L397.3 294.2L387.5 283.5L386.7 281.8L387 280.5L388.1 279.5L389.7 278.6L394.3 277.1L406 273.9L413.3 272.7M373 291.9L370.4 294.1L369.5 294.5L368.4 294.4L367.1 293.5L360.1 283.7L359.4 282.3L359.7 281.4L362 280.1M393.2 255L398.1 254.4L403.1 254.2L412.9 255.5L420.1 257.1M426.8 294.7L422 293.7L417.7 291.9L416.2 290.8L415.4 289.7L415.3 288.3L416.1 287.2L418 286L420.2 285.1L424.9 283.8L432.2 282.9L439.7 282.6L447.2 282.9L454.6 283.9L459.3 285.2L461.4 286.1L463.1 287.4L463.7 288.7L463.3 290L460.7 291.9M452.8 285.1L457 286.6L458.2 287.5L458.9 288.6L458.6 289.7L457.7 290.6L454.1 292.4L449.3 293.5L441.9 294.3L434.4 294.2L429.5 293.6M386.1 286.6L383.7 286.1L381.2 286.1L378.8 286.5L371.4 289.3L370.1 289.2L368.8 288.5L367.4 287L365.1 283.7L364.7 282.3L365.1 281.4L367.4 280.1L383.8 275.4M374.3 267.1L383.5 264.3L393.2 262.4L400.6 261.6L410.6 262M429.4 291.9L427.3 291.2L425.1 289.7L424.9 288.7L425.7 287.7L427.7 286.6L432.5 285.5L439.9 285L447.4 285.7L449.8 286.2L453 287.6L453.8 288.6L453.6 289.6L451.4 291.1L449.2 291.9M393 264L400.4 263.1L407.9 263.1L412.9 263.4L422.7 264.7M426.3 278.9L436.3 278.5L451.3 278.8M406.6 298.7L401.5 294.6L398.9 291.4L398.1 289.6L397.8 287.8L398.1 286L399.8 282.5L402.6 279.4L406.3 277L410.8 275.3M384.4 284.5L382 284L375.3 284.2L373.8 284L372.6 283.3L372.2 282.2L372.7 281.2L374.6 280.1L381.1 277.8M446.3 287.5L448.1 288.6L448 289.5L446 290.5L441.2 291.3L436.2 291.2L433.8 290.8L431.6 290L430.7 289.2L431 288.4L431.8 287.8M385.8 275.3L393 273.9L400.4 272.8L412.8 272.1" fill="none" stroke="#000" stroke-width="0.55" stroke-opacity="0.8"/>
<path d="M347.2 215L344.9 216.2L344.7 214.1ZM346.4 212.8L344.1 214L343.9 212ZM377 207.7L374.6 208.8L374.6 206.7ZM404.8 208.3L402.5 209.5L402.4 207.4ZM480.7 208.8L478.3 209.9L478.3 207.8ZM472.5 207.6L470.1 208.6L470.1 206.5ZM496.8 331.4L495.9 328.9L498 329ZM490.7 321.8L490.2 319.3L492.2 319.7ZM473.5 352.5L475.9 351.4L475.9 353.5ZM467.1 351L469.5 350L469.5 352.1ZM406 295.4L408.5 296.3L407 297.8ZM358.9 309.3L359.9 311.7L357.8 311.6ZM357.9 333L360.4 332.3L360.2 334.4ZM352.9 339.5L355.4 338.8L355.1 340.9ZM348.4 342.3L350.9 341.4L350.8 343.5ZM348.5 345.5L351.1 344.9L350.8 346.9ZM348.5 349.9L350.8 348.7L351 350.8ZM352.2 337.3L354.7 336.4L354.5 338.5ZM334.5 337L336.5 335.5L337 337.5ZM327.6 324.8L325.1 324L326.5 322.4ZM353.3 296.8L355 298.8L353 299.4ZM330.3 280.1L332.3 278.4L332.9 280.4ZM413.1 266.2L410.6 267.2L410.7 265.1ZM353 272.8L350.6 274L350.5 271.9ZM413 260.4L410.5 261.2L410.8 259.1ZM375.5 261.6L373.6 263.4L372.9 261.4ZM339.6 263.9L337.1 264.7L337.3 262.6ZM413.2 253.2L410.7 253.9L411 251.8ZM377.6 253.5L375.7 255.2L375 253.2ZM376.4 251.5L374.5 253.2L373.8 251.2ZM330.9 253.7L328.5 254.7L328.5 252.6ZM329.5 251L327 251.7L327.3 249.6ZM328.3 248.5L325.7 249.2L326.1 247.1ZM413.9 239.7L411.4 240.5L411.6 238.4ZM392.2 237.7L390 239.1L389.7 237ZM392.3 235.2L390 236.5L389.8 234.5ZM349.7 237L347.3 238.1L347.3 236ZM414.7 228.6L412.3 229.7L412.3 227.6ZM414.7 226L412.3 227.1L412.3 225ZM414.5 220.5L412.1 221.5L412.1 219.4ZM414.5 215.5L412.1 216.5L412.1 214.4ZM421.7 212.3L419.3 213.4L419.3 211.3ZM322.7 209.1L320.4 210.2L320.3 208.1ZM382.8 208.8L380.5 209.9L380.4 207.8ZM412 209L409.7 210.3L409.5 208.2ZM490 252.5L487.5 253.3L487.7 251.2ZM429.3 249.6L426.6 249.8L427.3 247.8ZM377.1 275.1L375.1 276.8L374.6 274.8ZM489.1 280L486.6 280.7L486.9 278.6ZM402.6 335.2L405 336.3L403.5 337.7ZM490.2 313L490.3 310.4L492.2 311.3ZM495.2 323.8L495.4 321.2L497.3 322.2ZM501.8 324.1L504.2 323.2L504.1 325.2ZM500.8 330.5L500.9 327.9L502.8 328.8ZM458.4 349.1L460.6 347.7L460.9 349.7ZM344.3 297.2L343.7 299.7L342 298.5ZM360.1 225.5L357.9 227L357.5 225ZM355 215.3L352.9 217L352.4 215ZM477 340.5L475.5 342.6L474.4 340.8ZM322 294.7L323.2 292.4L324.5 294ZM350 222.7L347.8 224.1L347.5 222ZM435.6 217.6L433 218.1L433.5 216.1ZM469 222.9L466.4 223.3L467 221.3ZM478.7 216.1L476.3 217.1L476.3 215ZM461 229.1L458.4 229.5L459 227.5ZM468.8 237.3L466.2 237.7L466.8 235.7ZM492.1 283.4L489.5 284L489.9 281.9ZM435.2 316.9L435.9 314.4L437.5 315.7ZM419 342.1L420.9 340.3L421.6 342.2ZM376 340.6L378.6 340.5L377.9 342.5ZM467.2 220.4L464.6 220.8L465.1 218.7ZM484.5 218.5L482.1 219.5L482.1 217.4ZM461.7 340.7L459.1 341L459.7 339ZM422.7 338.6L424.6 336.8L425.3 338.7ZM340.3 328.1L342.8 327.5L342.5 329.6ZM325.8 308.1L323.8 306.5L325.6 305.5ZM486.2 223.2L483.6 223.7L484.1 221.6ZM486.4 229.6L483.8 230L484.4 228ZM456.4 299.7L458.5 298.1L459 300.2ZM440.6 322.8L441.3 320.2L442.9 321.5ZM444.2 328.2L444.1 325.6L446.1 326.4ZM416.5 332.6L416.8 330L418.6 331ZM334.8 299.3L337.3 300.1L335.9 301.7ZM387.1 225.1L384.8 226.4L384.6 224.4ZM417.5 223.3L415.1 224.3L415.2 222.2ZM481 295.8L483.1 294.2L483.6 296.3ZM479.6 302.6L482.2 302.5L481.4 304.4ZM477.2 330.9L476.4 333.4L474.8 332ZM408.9 335.8L410.9 334.2L411.4 336.2ZM373.2 332.5L375.9 332.4L375.1 334.4ZM348.6 245.7L346.1 246.5L346.3 244.5ZM477 263.2L474.6 264.2L474.7 262.1ZM463.5 312.6L465.9 311.6L465.9 313.7ZM451.5 319.3L451.6 316.7L453.5 317.7ZM383.8 325.2L386.3 326L385 327.6ZM483.6 286.1L481 286.3L481.6 284.3ZM459.1 318.2L460.2 315.8L461.6 317.3ZM411.8 231.2L409.4 232.3L409.4 230.2ZM460.8 320.4L461.6 317.9L463.1 319.3ZM344.2 313.5L346.8 313.3L346.2 315.3ZM352.8 287.2L355.2 288.3L353.7 289.7ZM451.1 298.3L453.3 296.8L453.7 298.9ZM375.4 316.4L373.6 318.3L372.8 316.3ZM404.4 241L402 242L402 239.9ZM463.1 258.3L460.7 259.2L460.8 257.1ZM437.6 319.1L438.6 316.6L440.1 318.1ZM356.8 288L359.1 289.1L357.5 290.5ZM436.1 249.1L433.5 249.3L434.2 247.3ZM474.7 247.9L472.1 248.4L472.6 246.4ZM443.1 281.1L440.7 282L440.8 279.9ZM441.9 296.9L444.3 295.8L444.3 297.9ZM374.6 310.2L372.5 308.6L374.3 307.6ZM374.6 245.8L372.6 247.5L372 245.4ZM428.2 310.5L430 308.5L430.9 310.4ZM378.2 306.1L375.9 305L377.4 303.6ZM387.9 283.9L390.3 285L388.7 286.4ZM363.3 288.2L365.6 289.5L363.9 290.8ZM408.2 254.9L405.7 255.6L406 253.5ZM436.4 282.7L434 283.8L433.9 281.7ZM447.2 293.8L449.5 292.5L449.7 294.5ZM364.9 283.3L367.1 284.7L365.4 285.9ZM393.6 262.4L391.5 263.8L391.1 261.8ZM440.8 285L438.5 286.2L438.4 284.1ZM409.4 263.1L407 264.1L407 262ZM440.3 278.6L437.9 279.6L437.9 277.5ZM399 284.2L398.8 286.8L397 285.9ZM371.6 282.7L374.2 283L373.2 284.8ZM438.3 291.3L440.7 290.3L440.7 292.4ZM400.7 272.7L398.5 274.1L398.2 272Z" fill="#000" fill-opacity="0.85"/>
<path d="M314.5 299.5 L318.2 298.3 L319.4 301.9 L321.8 304.9 L325 308 L325 314.1 L327.9 314.5 L331.5 312.1 L333.2 316.5 L334.5 321.3 L335.4 327.4 L334.7 332.7 L337.6 336.3 L339.6 339.5 L340.8 344.3 L342.5 346.7 L346.9 349.2 L348.6 349.7M348.6 349.7 L347.4 345.5 L347.1 341.9 L344.4 337.8 L341.3 335.8 L339.3 332.2 L337.1 329.8 L338.4 325 L338.8 320.3 L341.3 320.6 L344.4 323.3 L346.1 326.2 L349.8 327.9 L351 331.7 L355.1 327.9 L360.3 325.4 L361.5 321.3 L360.7 316.5 L358.3 313.3 L354.7 309.7 L353 306.8 L355.1 302.7 L358.3 300.7 L362 300.7 L363.9 303.4 L364.4 301.5 L368 300.2 L371.7 298.8 L375.3 297.8 L380.2 295.9 L383.9 293 L386.8 289.8 L388.7 286.2 L391.6 282.6 L392.1 278.9 L389.9 275.8 L388.7 272.9 L385.8 268.8 L388.2 265.6 L393.6 263.2 L389.9 261.7 L385.1 262.5 L382.6 260.1 L382.2 258.1 L386.3 256.4 L389.9 254 L392.4 255 L390.4 258.4 L393.6 257.1 L398 255.9 L399.7 258.4 L399.2 260.8 L403.3 262 L402.8 266.8 L403.3 269.3 L407 268.5 L410.1 266.8 L410.4 263.2 L408.2 259.6 L405.8 257.1 L410.6 253.5 L411.9 249.9 L416.7 248.2 L420.4 249.2 L425.2 245 L431.3 239 L436.9 231.7 L437.4 226.9 L439.4 224 L436.2 222 L430.1 222 L425.2 219.6 L428.9 216 L436.2 212.3 L443.5 209.2 L450.8 209.2 L458.1 208.5 L465.4 209.9 L471.5 208.7 L476.3 214.8 L474.4 219.6 L475.1 226.9 L476.8 229.3 L481.2 224.5 L484.9 220.8 L489.7 217.2 L492.2 212.3 L493.4 207.5M412.3 277.2 L412.6 272.9 L414.3 270.5 L419.2 270 L424 269 L428.4 269.3 L432.5 268.8 L435.7 267.6 L438.1 265.6 L438.6 260.8 L440.6 257.1 L439.6 252.8 L436.7 253.5 L435.7 255.9 L435 259.6 L431.3 263.2 L428.4 263.7 L426.5 266.3 L419.2 266.8 L414.3 269.5 L411.9 272.2 L411.4 274.1 L412.3 277.2M417.2 270.7 L422.3 270 L421.6 271.9 L418.4 272.9 L417.2 270.7M436.2 252.3 L436.9 248.7 L439.8 247.9 L440.6 242.9 L443.5 245.5 L449.1 247.9 L445.9 248.9 L444 251.1 L439.8 249.9 L436.2 252.3M441.1 241.4 L441.5 236.6 L441.5 231.7 L441.1 226.9 L443 221.3 L444.7 226.9 L444.7 232.9 L443.5 239 L441.1 241.4M389.9 291.8 L392.1 292.7 L389.7 299.5 L387.8 297.1 L389.9 291.8M360 306.3 L364.4 304.4 L365.6 305.6 L362.4 308.5 L360 306.3M388.7 308 L392.9 308.2 L392.9 312.8 L391.2 316.5 L393.6 318.9 L397.2 321.3 L396.8 322 L393.6 319.6 L389.9 319.6 L388.2 317.2 L387.5 314.1 L388.7 308M388.7 320.3 L390.9 320.6 L390.7 323 L389.5 322.5 L388.7 320.3M398 322.5 L400.9 323.7 L401.1 326.2 L399.7 328.6 L398.5 326.2 L398 322.5M392.4 324.2 L395.1 325 L395.5 328.6 L393.6 330.3 L392.4 327.4 L392.4 324.2M396 326.2 L397.2 327.9 L395.8 329.8 L396 326.2M380.7 332.5 L383.9 329.1 L386.3 325.4M400.9 329.3 L403.3 334.6 L402.1 337.5 L400.7 338.3 L397.2 335.8 L392.4 335.8 L393.6 333.4 L396 332.2 L398.5 332.2 L400.9 329.3M360.7 349.2 L363.2 348.7 L366.1 346.7 L370.5 345.1 L372.9 341.9 L376.6 339.5 L379.5 335.8 L381.9 337.5 L385.1 340.2 L382.6 342.4 L381.9 346.7 L384.3 350.4 L381.9 352.8M360.7 349.2 L360.7 352.8M327.4 339.2 L332.8 340.2 L335.2 343.1 L338.8 346.7 L342.5 348.7 L346.1 351.6 L347.8 352.8M327.4 339.2 L330.3 343.8 L334 348 L335.9 350.4 L337.1 352.8M387.5 352.8 L388 350.4 L391.2 349.9 L396 350.6 L399.7 348.9M405.8 352.8 L406.5 348.4 L408.2 350.4 L408.7 352.8M321.3 320.1 L321.8 323.7 L320.8 325" fill="none" stroke="#000" stroke-width="0.75" stroke-opacity="0.9" stroke-dasharray="2.2 1"/>
<path d="M395.3 322.3 L397.2 323.3 L396.3 324.2 L394.8 323.5 L395.3 322.3M396.8 328.6 L398.7 328.3 L398.5 329.6 L397 329.6 L396.8 328.6M393.4 322.8 L394.1 323.3 L393.6 323.7 L393.1 323.3 L393.4 322.8M392.1 321.6 L392.9 322.3 L392.4 322.8 L391.9 322.3 L392.1 321.6M398 325 L399.4 325.2 L399.7 326.6 L399.2 328.1 L398.2 327.1 L398 325M393.8 326.9 L395.1 326.4 L395.3 327.9 L394.3 329.6 L393.6 328.6 L393.8 326.9M395.8 326.4 L397 327.1 L396.3 328.8 L395.8 327.9 L395.8 326.4M392.1 324.5 L394.1 325 L394.6 326.4 L392.6 327.4 L392.1 324.5M387.5 323.7 L388.2 324.2 L387.8 324.7 L387.3 324.2 L387.5 323.7M390.2 318.4 L391.4 318.2 L390.9 319.1 L390.2 318.4M392.4 320.1 L393.1 320.6 L392.4 320.8 L392.4 320.1M396.5 319.1 L398.2 319.6 L397.2 320.3 L396.5 319.1M400.2 327.9 L401.4 327.6 L401.1 328.8 L400.2 327.9M392.1 336.6 L393.1 336.8 L392.4 337.3 L392.1 336.6M387 340.2 L388.2 340 L387.5 340.7 L387 340.2" fill="#000" fill-opacity="0.25" stroke="#000" stroke-width="0.6" stroke-opacity="0.9"/>
<circle cx="334" cy="304" r="1.6" fill="#000" fill-opacity="0.6"/>
<path d="M364 270C364.2 271.2 364.5 274.5 365 277C365.5 279.5 366.2 282.7 367 285C367.8 287.3 369 289.2 370 291C371 292.8 372.5 295.2 373 296" fill="none" stroke="#123a66" stroke-width="2.2" stroke-linecap="round"/>
<path d="M430 238C430.1 238.8 431 241 430.8 243C430.6 245 430 247.7 429 250C428 252.3 426.8 255 425 257C423.2 259 420.2 260.7 418 262C415.8 263.3 413 264.5 412 265" fill="none" stroke="#123a66" stroke-width="2.2" stroke-linecap="round"/>
<path d="M382 291.5C383.9 291 390 289.3 393.7 288.6C397.4 287.9 400.3 287.3 404.3 287.4C408.3 287.5 413.6 288.4 417.5 289C421.4 289.6 424.5 290.5 428 291C431.5 291.5 435.1 292 438.6 292C442.1 292 445.1 291.5 449 291C452.9 290.5 460.1 289.3 462.3 289" fill="none" stroke="#1f5c88" stroke-width="2" stroke-linecap="round" stroke-dasharray="0.01 3.7"/>
</g>
<text x="439.5" y="294" font-family="'Liberation Sans',sans-serif" font-size="13.5" text-anchor="middle" fill="#111" stroke="#111" stroke-width="0.35">H</text>
<path d="M384 297.4L385.9 301.8L382.1 301.8Z" fill="#000"/>
<rect x="314.5" y="207.5" width="194.7" height="145.3" fill="none" stroke="#222" stroke-width="0.4"/>
<g font-family="'DejaVu Sans','Liberation Sans',sans-serif" font-size="5.75" fill="#222"><text x="312.2" y="209.6" text-anchor="end">60°N</text><text x="312.2" y="221.7" text-anchor="end">55°N</text><text x="312.2" y="233.8" text-anchor="end">50°N</text><text x="312.2" y="245.9" text-anchor="end">45°N</text><text x="312.2" y="258" text-anchor="end">40°N</text><text x="312.2" y="270.1" text-anchor="end">35°N</text><text x="312.2" y="282.2" text-anchor="end">30°N</text><text x="312.2" y="294.3" text-anchor="end">25°N</text><text x="312.2" y="306.4" text-anchor="end">20°N</text><text x="312.2" y="318.5" text-anchor="end">15°N</text><text x="312.2" y="330.7" text-anchor="end">10°N</text><text x="312.2" y="342.8" text-anchor="end">5°N</text><text x="312.2" y="354.9" text-anchor="end">0°</text><text x="314.8" y="359.8" text-anchor="middle">90°E</text><text x="339.1" y="359.8" text-anchor="middle">100°E</text><text x="363.5" y="359.8" text-anchor="middle">110°E</text><text x="387.8" y="359.8" text-anchor="middle">120°E</text><text x="412.2" y="359.8" text-anchor="middle">130°E</text><text x="436.5" y="359.8" text-anchor="middle">140°E</text><text x="460.8" y="359.8" text-anchor="middle">150°E</text><text x="485.2" y="359.8" text-anchor="middle">160°E</text><text x="509.5" y="359.8" text-anchor="middle">170°E</text></g>
<g><path d="M523.4 213.8L525.5 207.5L527.7 213.8Z" fill="#ff0000"/><rect x="523.4" y="213.8" width="4.3" height="10.4" fill="#ff1e00"/><rect x="523.4" y="224" width="4.3" height="10.4" fill="#ff8200"/><rect x="523.4" y="234.2" width="4.3" height="10.4" fill="#ffb400"/><rect x="523.4" y="244.4" width="4.3" height="10.4" fill="#ffff00"/><rect x="523.4" y="254.6" width="4.3" height="10.4" fill="#b4e600"/><rect x="523.4" y="264.8" width="4.3" height="10.4" fill="#00dc00"/><rect x="523.4" y="275" width="4.3" height="10.4" fill="#00a028"/><rect x="523.4" y="285.2" width="4.3" height="10.4" fill="#149494"/><rect x="523.4" y="295.4" width="4.3" height="10.4" fill="#6262ee"/><rect x="523.4" y="305.6" width="4.3" height="10.4" fill="#5a80f0"/><rect x="523.4" y="315.8" width="4.3" height="10.4" fill="#76a8f6"/><rect x="523.4" y="326" width="4.3" height="10.4" fill="#c6dcfb"/><rect x="523.4" y="336.2" width="4.3" height="10.4" fill="#ffffff"/><path d="M523.4 213.8L525.5 207.5L527.7 213.8L527.7 346.4L525.5 353L523.4 346.4Z" fill="none" stroke="#333" stroke-width="0.4"/></g>
<g font-family="'DejaVu Sans','Liberation Sans',sans-serif" font-size="4.3" fill="#333"><text x="530.3" y="215.3">980</text><path d="M527.7 213.8h1.3" stroke="#333" stroke-width="0.35"/><text x="530.3" y="225.5">970</text><path d="M527.7 224h1.3" stroke="#333" stroke-width="0.35"/><text x="530.3" y="235.7">960</text><path d="M527.7 234.2h1.3" stroke="#333" stroke-width="0.35"/><text x="530.3" y="245.9">950</text><path d="M527.7 244.4h1.3" stroke="#333" stroke-width="0.35"/><text x="530.3" y="256.1">940</text><path d="M527.7 254.6h1.3" stroke="#333" stroke-width="0.35"/><text x="530.3" y="266.3">930</text><path d="M527.7 264.8h1.3" stroke="#333" stroke-width="0.35"/><text x="530.3" y="276.5">920</text><path d="M527.7 275h1.3" stroke="#333" stroke-width="0.35"/><text x="530.3" y="286.7">910</text><path d="M527.7 285.2h1.3" stroke="#333" stroke-width="0.35"/><text x="530.3" y="296.9">900</text><path d="M527.7 295.4h1.3" stroke="#333" stroke-width="0.35"/><text x="530.3" y="307.1">890</text><path d="M527.7 305.6h1.3" stroke="#333" stroke-width="0.35"/><text x="530.3" y="317.3">880</text><path d="M527.7 315.8h1.3" stroke="#333" stroke-width="0.35"/><text x="530.3" y="327.5">870</text><path d="M527.7 326h1.3" stroke="#333" stroke-width="0.35"/><text x="530.3" y="337.7">860</text><path d="M527.7 336.2h1.3" stroke="#333" stroke-width="0.35"/><text x="530.3" y="347.9">850</text><path d="M527.7 346.4h1.3" stroke="#333" stroke-width="0.35"/></g>
<text x="132.8" y="194.3" text-anchor="middle" font-family="'Liberation Serif',serif" font-size="15.5" fill="#111">(<tspan font-weight="bold" font-size="14.2">a</tspan>)</text><text x="418.4" y="194.3" text-anchor="middle" font-family="'Liberation Serif',serif" font-size="15.5" fill="#111">(<tspan font-weight="bold" font-size="14.2">b</tspan>)</text><text x="132.7" y="385" text-anchor="middle" font-family="'Liberation Serif',serif" font-size="15.5" fill="#111">(<tspan font-weight="bold" font-size="14.2">c</tspan>)</text><text x="418.5" y="385" text-anchor="middle" font-family="'Liberation Serif',serif" font-size="15.5" fill="#111">(<tspan font-weight="bold" font-size="14.2">d</tspan>)</text>
</svg></body></html>
